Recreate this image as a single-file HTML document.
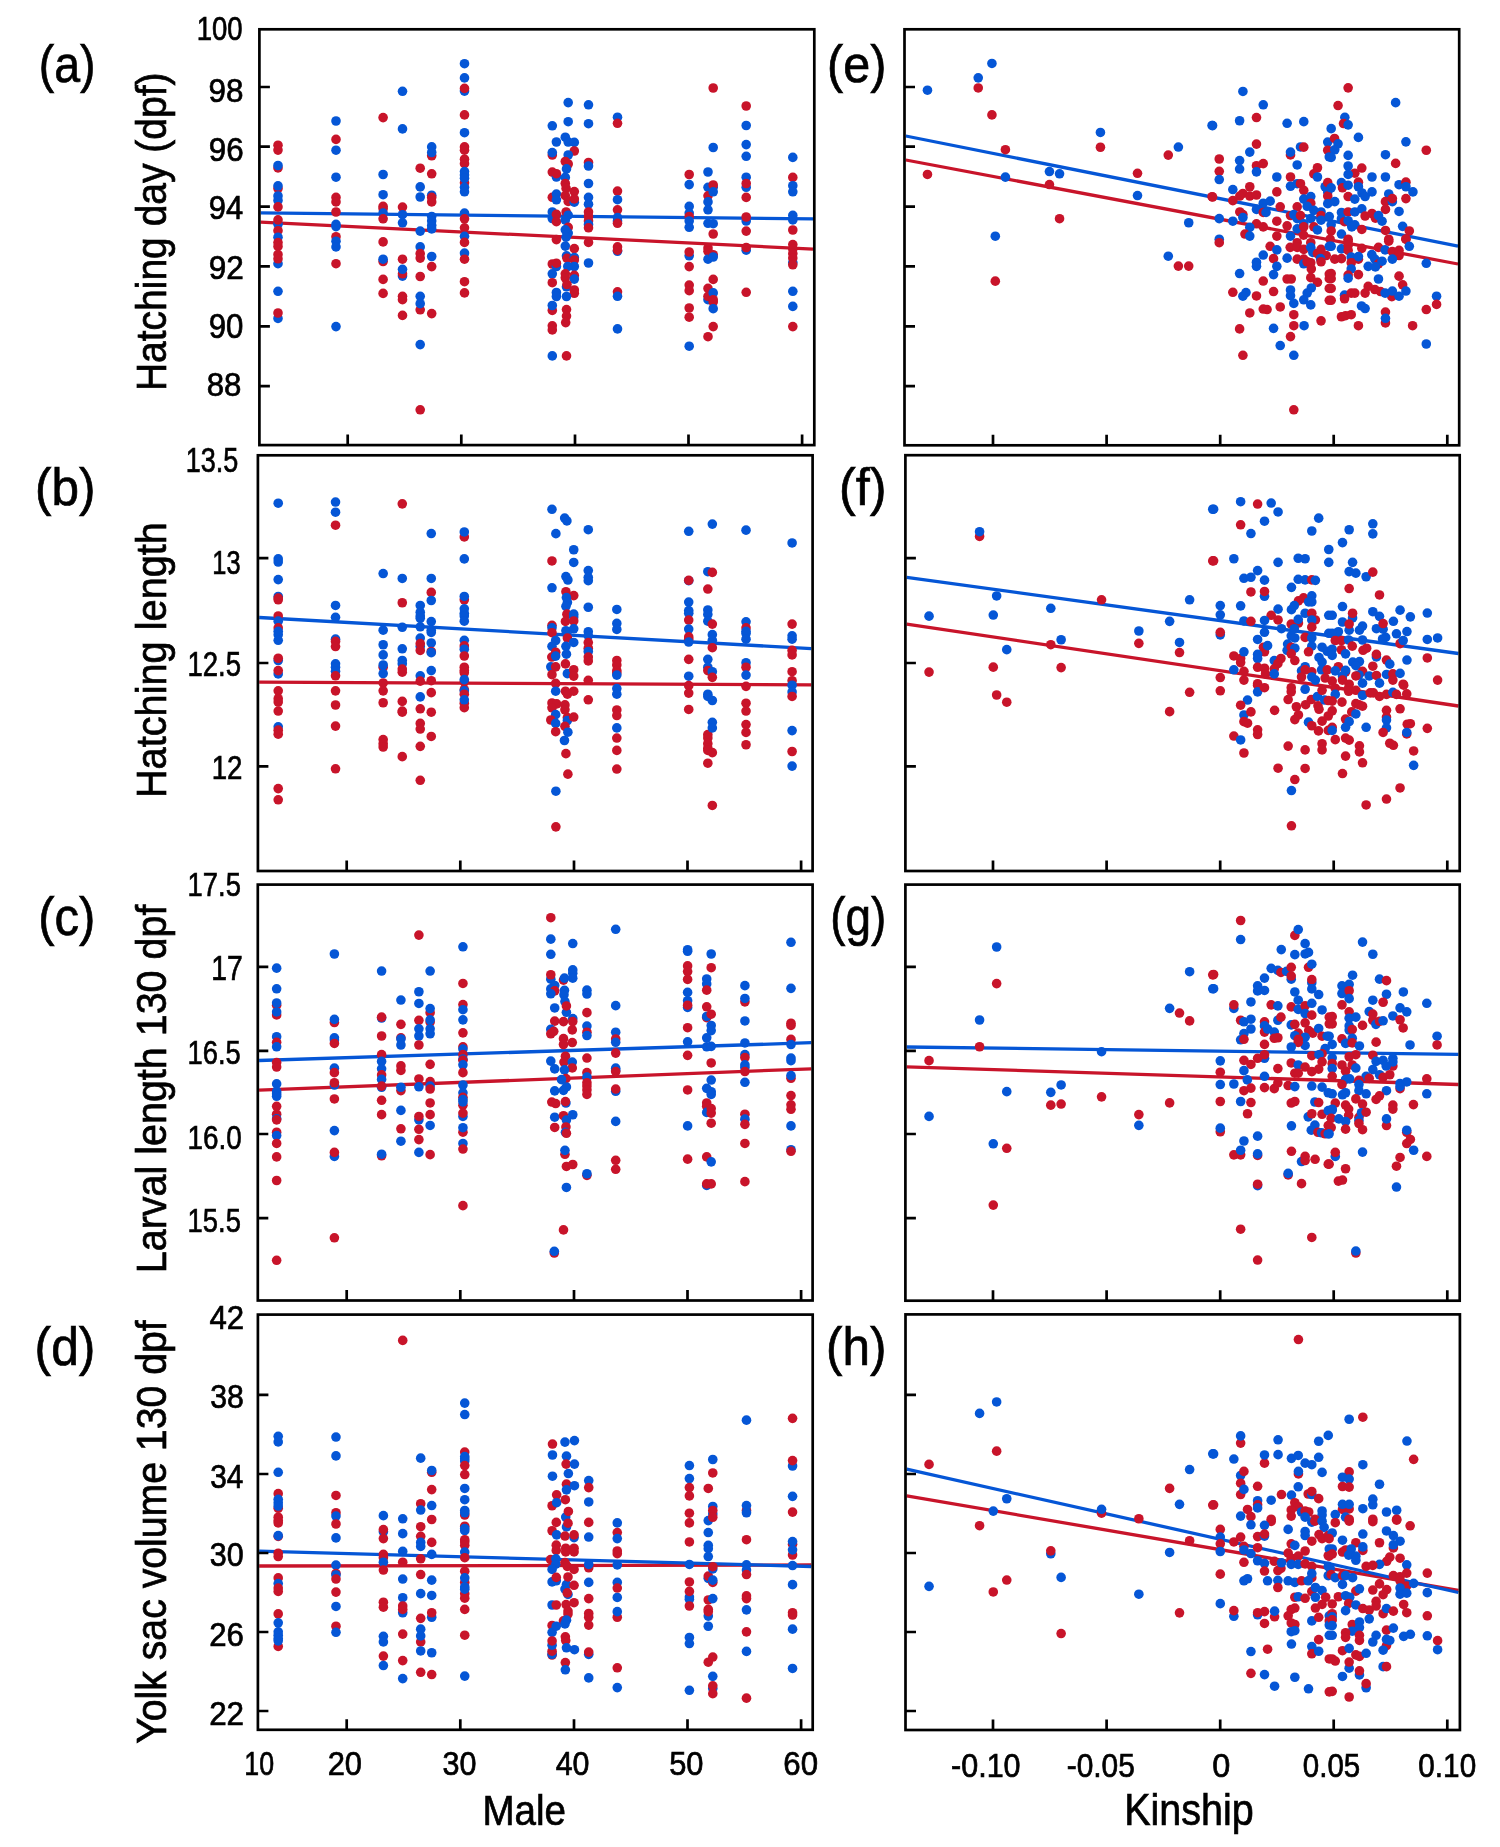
<!DOCTYPE html><html><head><meta charset="utf-8"><title>Figure</title><style>html,body{margin:0;padding:0;background:#fff}svg{display:block}text{font-family:"Liberation Sans",sans-serif;fill:#000;stroke:#000;stroke-width:0.7px}svg{will-change:transform}</style></head><body>
<svg width="1500" height="1847" viewBox="0 0 1500 1847">
<rect width="1500" height="1847" fill="#fff"/>
<line x1="260.7" y1="222.1" x2="813" y2="249.1" stroke="#c8142a" stroke-width="3.3"/>
<line x1="260.7" y1="212.8" x2="813" y2="218.9" stroke="#0556d6" stroke-width="3.3"/>
<line x1="259.2" y1="682.2" x2="811.3" y2="684.8" stroke="#c8142a" stroke-width="3.3"/>
<line x1="259.2" y1="617.5" x2="811.3" y2="648.7" stroke="#0556d6" stroke-width="3.3"/>
<line x1="259.1" y1="1090.2" x2="811.3" y2="1068.8" stroke="#c8142a" stroke-width="3.3"/>
<line x1="259.1" y1="1060.5" x2="811.3" y2="1042.7" stroke="#0556d6" stroke-width="3.3"/>
<line x1="259.2" y1="1566" x2="811.3" y2="1565" stroke="#c8142a" stroke-width="3.3"/>
<line x1="259.2" y1="1551.2" x2="811.3" y2="1566.5" stroke="#0556d6" stroke-width="3.3"/>
<line x1="905.8" y1="160" x2="1458" y2="264" stroke="#c8142a" stroke-width="3.3"/>
<line x1="905.8" y1="136" x2="1458" y2="246.1" stroke="#0556d6" stroke-width="3.3"/>
<line x1="906.7" y1="624.1" x2="1458.4" y2="706" stroke="#c8142a" stroke-width="3.3"/>
<line x1="906.7" y1="577.3" x2="1458.4" y2="653.5" stroke="#0556d6" stroke-width="3.3"/>
<line x1="906.7" y1="1066.9" x2="1458.4" y2="1084.5" stroke="#c8142a" stroke-width="3.3"/>
<line x1="906.7" y1="1047" x2="1458.4" y2="1054.3" stroke="#0556d6" stroke-width="3.3"/>
<line x1="906.7" y1="1495.8" x2="1458.4" y2="1590.5" stroke="#c8142a" stroke-width="3.3"/>
<line x1="906.7" y1="1469.2" x2="1458.4" y2="1592.5" stroke="#0556d6" stroke-width="3.3"/>
<circle cx="278" cy="145.2" r="4.8" fill="#c8142a"/>
<circle cx="278" cy="150.1" r="4.8" fill="#c8142a"/>
<circle cx="278" cy="167.9" r="4.8" fill="#c8142a"/>
<circle cx="278" cy="165.5" r="4.8" fill="#0556d6"/>
<circle cx="278" cy="188.5" r="4.8" fill="#c8142a"/>
<circle cx="278" cy="185.8" r="4.8" fill="#0556d6"/>
<circle cx="278" cy="196" r="4.8" fill="#0556d6"/>
<circle cx="278" cy="200.4" r="4.8" fill="#0556d6"/>
<circle cx="278" cy="206.9" r="4.8" fill="#c8142a"/>
<circle cx="278" cy="224.2" r="4.8" fill="#0556d6"/>
<circle cx="278" cy="219.9" r="4.8" fill="#c8142a"/>
<circle cx="278" cy="230.7" r="4.8" fill="#c8142a"/>
<circle cx="278" cy="237.2" r="4.8" fill="#0556d6"/>
<circle cx="278" cy="242.6" r="4.8" fill="#c8142a"/>
<circle cx="278" cy="246.4" r="4.8" fill="#c8142a"/>
<circle cx="278" cy="263.7" r="4.8" fill="#0556d6"/>
<circle cx="278" cy="254.5" r="4.8" fill="#c8142a"/>
<circle cx="278" cy="258.8" r="4.8" fill="#c8142a"/>
<circle cx="278" cy="291.3" r="4.8" fill="#0556d6"/>
<circle cx="278" cy="318.4" r="4.8" fill="#0556d6"/>
<circle cx="278" cy="313" r="4.8" fill="#c8142a"/>
<circle cx="336" cy="121" r="4.8" fill="#0556d6"/>
<circle cx="336" cy="139.4" r="4.8" fill="#c8142a"/>
<circle cx="336" cy="150.2" r="4.8" fill="#0556d6"/>
<circle cx="336" cy="177.2" r="4.8" fill="#0556d6"/>
<circle cx="336" cy="197.4" r="4.8" fill="#c8142a"/>
<circle cx="336" cy="201.9" r="4.8" fill="#c8142a"/>
<circle cx="336" cy="212" r="4.8" fill="#c8142a"/>
<circle cx="336" cy="224.4" r="4.8" fill="#0556d6"/>
<circle cx="336" cy="226.6" r="4.8" fill="#0556d6"/>
<circle cx="336" cy="236.7" r="4.8" fill="#c8142a"/>
<circle cx="336" cy="241.2" r="4.8" fill="#0556d6"/>
<circle cx="336" cy="246.9" r="4.8" fill="#0556d6"/>
<circle cx="336" cy="263.7" r="4.8" fill="#c8142a"/>
<circle cx="336" cy="326.6" r="4.8" fill="#0556d6"/>
<circle cx="383.1" cy="117.6" r="4.8" fill="#c8142a"/>
<circle cx="383.1" cy="174.5" r="4.8" fill="#0556d6"/>
<circle cx="383.1" cy="194.7" r="4.8" fill="#0556d6"/>
<circle cx="383.1" cy="206.4" r="4.8" fill="#c8142a"/>
<circle cx="383.1" cy="208.7" r="4.8" fill="#c8142a"/>
<circle cx="383.1" cy="213.1" r="4.8" fill="#0556d6"/>
<circle cx="383.1" cy="218.8" r="4.8" fill="#c8142a"/>
<circle cx="383.1" cy="241.9" r="4.8" fill="#c8142a"/>
<circle cx="383.1" cy="261.5" r="4.8" fill="#c8142a"/>
<circle cx="383.1" cy="259.2" r="4.8" fill="#0556d6"/>
<circle cx="383.1" cy="279.4" r="4.8" fill="#c8142a"/>
<circle cx="383.1" cy="293.4" r="4.8" fill="#c8142a"/>
<circle cx="402.5" cy="91.3" r="4.8" fill="#0556d6"/>
<circle cx="402.5" cy="128.9" r="4.8" fill="#0556d6"/>
<circle cx="402.5" cy="207.1" r="4.8" fill="#c8142a"/>
<circle cx="402.5" cy="214.7" r="4.8" fill="#0556d6"/>
<circle cx="402.5" cy="222.8" r="4.8" fill="#0556d6"/>
<circle cx="402.5" cy="259.2" r="4.8" fill="#c8142a"/>
<circle cx="402.5" cy="276.1" r="4.8" fill="#0556d6"/>
<circle cx="402.5" cy="273.8" r="4.8" fill="#c8142a"/>
<circle cx="402.5" cy="269.3" r="4.8" fill="#0556d6"/>
<circle cx="402.5" cy="296.3" r="4.8" fill="#c8142a"/>
<circle cx="402.5" cy="299.7" r="4.8" fill="#c8142a"/>
<circle cx="402.5" cy="315.4" r="4.8" fill="#c8142a"/>
<circle cx="420.2" cy="168.2" r="4.8" fill="#c8142a"/>
<circle cx="420.2" cy="186.9" r="4.8" fill="#0556d6"/>
<circle cx="420.2" cy="197" r="4.8" fill="#0556d6"/>
<circle cx="420.2" cy="231.1" r="4.8" fill="#0556d6"/>
<circle cx="420.2" cy="246.9" r="4.8" fill="#0556d6"/>
<circle cx="420.2" cy="253.6" r="4.8" fill="#c8142a"/>
<circle cx="420.2" cy="258.1" r="4.8" fill="#c8142a"/>
<circle cx="420.2" cy="276.5" r="4.8" fill="#c8142a"/>
<circle cx="420.2" cy="296.3" r="4.8" fill="#0556d6"/>
<circle cx="420.2" cy="309.8" r="4.8" fill="#c8142a"/>
<circle cx="420.2" cy="303.7" r="4.8" fill="#0556d6"/>
<circle cx="420.2" cy="344.6" r="4.8" fill="#0556d6"/>
<circle cx="420.2" cy="409.8" r="4.8" fill="#c8142a"/>
<circle cx="431.7" cy="146.9" r="4.8" fill="#0556d6"/>
<circle cx="431.7" cy="155.8" r="4.8" fill="#c8142a"/>
<circle cx="431.7" cy="152.5" r="4.8" fill="#0556d6"/>
<circle cx="431.7" cy="173.8" r="4.8" fill="#c8142a"/>
<circle cx="431.7" cy="195.2" r="4.8" fill="#0556d6"/>
<circle cx="431.7" cy="197.4" r="4.8" fill="#c8142a"/>
<circle cx="431.7" cy="201.9" r="4.8" fill="#c8142a"/>
<circle cx="431.7" cy="216.5" r="4.8" fill="#0556d6"/>
<circle cx="431.7" cy="221" r="4.8" fill="#0556d6"/>
<circle cx="431.7" cy="225.5" r="4.8" fill="#0556d6"/>
<circle cx="431.7" cy="228.9" r="4.8" fill="#0556d6"/>
<circle cx="431.7" cy="256.5" r="4.8" fill="#0556d6"/>
<circle cx="431.7" cy="266.6" r="4.8" fill="#c8142a"/>
<circle cx="431.7" cy="313.6" r="4.8" fill="#c8142a"/>
<circle cx="464.5" cy="63.7" r="4.8" fill="#0556d6"/>
<circle cx="464.5" cy="77.9" r="4.8" fill="#0556d6"/>
<circle cx="464.5" cy="91.1" r="4.8" fill="#0556d6"/>
<circle cx="464.5" cy="88.4" r="4.8" fill="#c8142a"/>
<circle cx="464.5" cy="114.9" r="4.8" fill="#c8142a"/>
<circle cx="464.5" cy="132.7" r="4.8" fill="#0556d6"/>
<circle cx="464.5" cy="146.9" r="4.8" fill="#c8142a"/>
<circle cx="464.5" cy="150.2" r="4.8" fill="#c8142a"/>
<circle cx="464.5" cy="159.2" r="4.8" fill="#c8142a"/>
<circle cx="464.5" cy="163.7" r="4.8" fill="#c8142a"/>
<circle cx="464.5" cy="182.8" r="4.8" fill="#c8142a"/>
<circle cx="464.5" cy="171.6" r="4.8" fill="#0556d6"/>
<circle cx="464.5" cy="174.9" r="4.8" fill="#0556d6"/>
<circle cx="464.5" cy="178.3" r="4.8" fill="#0556d6"/>
<circle cx="464.5" cy="187.3" r="4.8" fill="#0556d6"/>
<circle cx="464.5" cy="191.8" r="4.8" fill="#0556d6"/>
<circle cx="464.5" cy="213.1" r="4.8" fill="#0556d6"/>
<circle cx="464.5" cy="218.8" r="4.8" fill="#c8142a"/>
<circle cx="464.5" cy="227.8" r="4.8" fill="#c8142a"/>
<circle cx="464.5" cy="236.3" r="4.8" fill="#0556d6"/>
<circle cx="464.5" cy="242.4" r="4.8" fill="#c8142a"/>
<circle cx="464.5" cy="253.1" r="4.8" fill="#0556d6"/>
<circle cx="464.5" cy="259.2" r="4.8" fill="#c8142a"/>
<circle cx="464.5" cy="281.7" r="4.8" fill="#c8142a"/>
<circle cx="464.5" cy="292.9" r="4.8" fill="#c8142a"/>
<circle cx="568.2" cy="102.6" r="4.8" fill="#0556d6"/>
<circle cx="568.2" cy="121.7" r="4.8" fill="#0556d6"/>
<circle cx="552.3" cy="125.8" r="4.8" fill="#0556d6"/>
<circle cx="556.4" cy="142" r="4.8" fill="#0556d6"/>
<circle cx="565.3" cy="137.2" r="4.8" fill="#0556d6"/>
<circle cx="568.2" cy="142" r="4.8" fill="#0556d6"/>
<circle cx="574.3" cy="142.4" r="4.8" fill="#0556d6"/>
<circle cx="574.3" cy="151" r="4.8" fill="#c8142a"/>
<circle cx="552.3" cy="155" r="4.8" fill="#c8142a"/>
<circle cx="552.3" cy="152.6" r="4.8" fill="#0556d6"/>
<circle cx="568.2" cy="155" r="4.8" fill="#0556d6"/>
<circle cx="565.3" cy="161.5" r="4.8" fill="#c8142a"/>
<circle cx="568.2" cy="164" r="4.8" fill="#c8142a"/>
<circle cx="566.5" cy="168.9" r="4.8" fill="#0556d6"/>
<circle cx="552.3" cy="172.1" r="4.8" fill="#c8142a"/>
<circle cx="556.4" cy="177" r="4.8" fill="#0556d6"/>
<circle cx="556.4" cy="173.7" r="4.8" fill="#c8142a"/>
<circle cx="565.3" cy="177.4" r="4.8" fill="#0556d6"/>
<circle cx="565.3" cy="183.5" r="4.8" fill="#c8142a"/>
<circle cx="566.1" cy="188.4" r="4.8" fill="#c8142a"/>
<circle cx="574.3" cy="191.6" r="4.8" fill="#c8142a"/>
<circle cx="552.3" cy="197.3" r="4.8" fill="#c8142a"/>
<circle cx="556.4" cy="194.1" r="4.8" fill="#0556d6"/>
<circle cx="556.4" cy="199.8" r="4.8" fill="#0556d6"/>
<circle cx="565.3" cy="195.7" r="4.8" fill="#c8142a"/>
<circle cx="568.2" cy="201.4" r="4.8" fill="#c8142a"/>
<circle cx="574.3" cy="202.2" r="4.8" fill="#0556d6"/>
<circle cx="574.3" cy="198.9" r="4.8" fill="#c8142a"/>
<circle cx="552.3" cy="212" r="4.8" fill="#0556d6"/>
<circle cx="552.3" cy="218.5" r="4.8" fill="#0556d6"/>
<circle cx="556.4" cy="214.4" r="4.8" fill="#c8142a"/>
<circle cx="556.4" cy="221.7" r="4.8" fill="#c8142a"/>
<circle cx="566.1" cy="212" r="4.8" fill="#c8142a"/>
<circle cx="568.2" cy="215.2" r="4.8" fill="#0556d6"/>
<circle cx="565.3" cy="220.1" r="4.8" fill="#0556d6"/>
<circle cx="568.2" cy="227.4" r="4.8" fill="#c8142a"/>
<circle cx="568.2" cy="233.1" r="4.8" fill="#0556d6"/>
<circle cx="565.3" cy="229.8" r="4.8" fill="#0556d6"/>
<circle cx="556.4" cy="239.6" r="4.8" fill="#c8142a"/>
<circle cx="565.3" cy="246.1" r="4.8" fill="#0556d6"/>
<circle cx="566.1" cy="237.2" r="4.8" fill="#0556d6"/>
<circle cx="574.3" cy="248.6" r="4.8" fill="#c8142a"/>
<circle cx="566.5" cy="255.9" r="4.8" fill="#0556d6"/>
<circle cx="567" cy="258.3" r="4.8" fill="#c8142a"/>
<circle cx="574.3" cy="257.5" r="4.8" fill="#0556d6"/>
<circle cx="574.3" cy="260" r="4.8" fill="#c8142a"/>
<circle cx="574.3" cy="266.5" r="4.8" fill="#0556d6"/>
<circle cx="567.8" cy="266.5" r="4.8" fill="#0556d6"/>
<circle cx="552.3" cy="264" r="4.8" fill="#c8142a"/>
<circle cx="556.4" cy="266.5" r="4.8" fill="#0556d6"/>
<circle cx="556.4" cy="263.2" r="4.8" fill="#c8142a"/>
<circle cx="552.3" cy="273.8" r="4.8" fill="#0556d6"/>
<circle cx="565.3" cy="273.8" r="4.8" fill="#c8142a"/>
<circle cx="565.3" cy="277.8" r="4.8" fill="#c8142a"/>
<circle cx="574.3" cy="275.4" r="4.8" fill="#c8142a"/>
<circle cx="574.3" cy="279.1" r="4.8" fill="#0556d6"/>
<circle cx="552.3" cy="282.7" r="4.8" fill="#c8142a"/>
<circle cx="566.5" cy="286.8" r="4.8" fill="#0556d6"/>
<circle cx="567" cy="284.5" r="4.8" fill="#c8142a"/>
<circle cx="574.3" cy="290" r="4.8" fill="#c8142a"/>
<circle cx="574.3" cy="293.3" r="4.8" fill="#c8142a"/>
<circle cx="556.4" cy="292.5" r="4.8" fill="#0556d6"/>
<circle cx="556.4" cy="296.5" r="4.8" fill="#0556d6"/>
<circle cx="566.5" cy="296.5" r="4.8" fill="#0556d6"/>
<circle cx="552.3" cy="310.4" r="4.8" fill="#c8142a"/>
<circle cx="552.3" cy="305.5" r="4.8" fill="#0556d6"/>
<circle cx="566.5" cy="309.6" r="4.8" fill="#c8142a"/>
<circle cx="566.5" cy="316.1" r="4.8" fill="#c8142a"/>
<circle cx="565.7" cy="322.6" r="4.8" fill="#c8142a"/>
<circle cx="552.3" cy="325.8" r="4.8" fill="#c8142a"/>
<circle cx="552.3" cy="329.9" r="4.8" fill="#c8142a"/>
<circle cx="552.3" cy="355.9" r="4.8" fill="#0556d6"/>
<circle cx="566.5" cy="355.9" r="4.8" fill="#c8142a"/>
<circle cx="588.5" cy="104.8" r="4.8" fill="#0556d6"/>
<circle cx="588.5" cy="123.7" r="4.8" fill="#0556d6"/>
<circle cx="588.5" cy="162.5" r="4.8" fill="#c8142a"/>
<circle cx="588.5" cy="166" r="4.8" fill="#0556d6"/>
<circle cx="588.5" cy="183.5" r="4.8" fill="#0556d6"/>
<circle cx="588.5" cy="197.4" r="4.8" fill="#0556d6"/>
<circle cx="588.5" cy="204.2" r="4.8" fill="#0556d6"/>
<circle cx="588.5" cy="212" r="4.8" fill="#c8142a"/>
<circle cx="588.5" cy="216.5" r="4.8" fill="#c8142a"/>
<circle cx="588.5" cy="221" r="4.8" fill="#c8142a"/>
<circle cx="588.5" cy="224.4" r="4.8" fill="#0556d6"/>
<circle cx="588.5" cy="227.8" r="4.8" fill="#c8142a"/>
<circle cx="588.5" cy="242.4" r="4.8" fill="#c8142a"/>
<circle cx="588.5" cy="263" r="4.8" fill="#0556d6"/>
<circle cx="617.5" cy="117.2" r="4.8" fill="#0556d6"/>
<circle cx="617.5" cy="123.3" r="4.8" fill="#c8142a"/>
<circle cx="617.5" cy="191.1" r="4.8" fill="#c8142a"/>
<circle cx="617.5" cy="199.7" r="4.8" fill="#0556d6"/>
<circle cx="617.5" cy="209.8" r="4.8" fill="#c8142a"/>
<circle cx="617.5" cy="217.6" r="4.8" fill="#0556d6"/>
<circle cx="617.5" cy="221" r="4.8" fill="#0556d6"/>
<circle cx="617.5" cy="223.3" r="4.8" fill="#c8142a"/>
<circle cx="617.5" cy="251.3" r="4.8" fill="#0556d6"/>
<circle cx="617.5" cy="246.9" r="4.8" fill="#c8142a"/>
<circle cx="617.5" cy="250.2" r="4.8" fill="#c8142a"/>
<circle cx="617.5" cy="291.8" r="4.8" fill="#c8142a"/>
<circle cx="617.5" cy="296.3" r="4.8" fill="#0556d6"/>
<circle cx="617.5" cy="328.9" r="4.8" fill="#0556d6"/>
<circle cx="689.2" cy="174.5" r="4.8" fill="#c8142a"/>
<circle cx="689.2" cy="184.6" r="4.8" fill="#0556d6"/>
<circle cx="689.2" cy="206.4" r="4.8" fill="#0556d6"/>
<circle cx="689.2" cy="213.1" r="4.8" fill="#0556d6"/>
<circle cx="689.2" cy="216.5" r="4.8" fill="#c8142a"/>
<circle cx="689.2" cy="221" r="4.8" fill="#0556d6"/>
<circle cx="689.2" cy="227.3" r="4.8" fill="#0556d6"/>
<circle cx="689.2" cy="255.8" r="4.8" fill="#0556d6"/>
<circle cx="689.2" cy="252" r="4.8" fill="#c8142a"/>
<circle cx="689.2" cy="266.6" r="4.8" fill="#c8142a"/>
<circle cx="689.2" cy="285.1" r="4.8" fill="#c8142a"/>
<circle cx="689.2" cy="290.7" r="4.8" fill="#c8142a"/>
<circle cx="689.2" cy="308" r="4.8" fill="#c8142a"/>
<circle cx="689.2" cy="317.2" r="4.8" fill="#c8142a"/>
<circle cx="689.2" cy="346.2" r="4.8" fill="#0556d6"/>
<circle cx="708" cy="172" r="4.8" fill="#0556d6"/>
<circle cx="708" cy="187.3" r="4.8" fill="#0556d6"/>
<circle cx="708" cy="195.8" r="4.8" fill="#c8142a"/>
<circle cx="708" cy="201.9" r="4.8" fill="#0556d6"/>
<circle cx="708" cy="209.8" r="4.8" fill="#0556d6"/>
<circle cx="708" cy="223.3" r="4.8" fill="#0556d6"/>
<circle cx="708" cy="248" r="4.8" fill="#c8142a"/>
<circle cx="708" cy="251.3" r="4.8" fill="#c8142a"/>
<circle cx="708" cy="259.2" r="4.8" fill="#0556d6"/>
<circle cx="708" cy="288.4" r="4.8" fill="#c8142a"/>
<circle cx="708" cy="299.7" r="4.8" fill="#0556d6"/>
<circle cx="708" cy="296.3" r="4.8" fill="#c8142a"/>
<circle cx="708" cy="336.7" r="4.8" fill="#c8142a"/>
<circle cx="713.2" cy="88" r="4.8" fill="#c8142a"/>
<circle cx="713.2" cy="147.5" r="4.8" fill="#0556d6"/>
<circle cx="713.2" cy="187.3" r="4.8" fill="#0556d6"/>
<circle cx="713.2" cy="185" r="4.8" fill="#c8142a"/>
<circle cx="713.2" cy="191.8" r="4.8" fill="#0556d6"/>
<circle cx="713.2" cy="223.7" r="4.8" fill="#0556d6"/>
<circle cx="713.2" cy="234" r="4.8" fill="#c8142a"/>
<circle cx="713.2" cy="254.7" r="4.8" fill="#c8142a"/>
<circle cx="713.2" cy="257" r="4.8" fill="#0556d6"/>
<circle cx="713.2" cy="279.4" r="4.8" fill="#c8142a"/>
<circle cx="713.2" cy="292.9" r="4.8" fill="#0556d6"/>
<circle cx="713.2" cy="299.7" r="4.8" fill="#c8142a"/>
<circle cx="713.2" cy="301.9" r="4.8" fill="#c8142a"/>
<circle cx="713.2" cy="308.7" r="4.8" fill="#0556d6"/>
<circle cx="713.2" cy="326.6" r="4.8" fill="#c8142a"/>
<circle cx="746.2" cy="106" r="4.8" fill="#c8142a"/>
<circle cx="746.2" cy="125.5" r="4.8" fill="#0556d6"/>
<circle cx="746.2" cy="144.6" r="4.8" fill="#0556d6"/>
<circle cx="746.2" cy="156.3" r="4.8" fill="#0556d6"/>
<circle cx="746.2" cy="177.2" r="4.8" fill="#0556d6"/>
<circle cx="746.2" cy="187.3" r="4.8" fill="#0556d6"/>
<circle cx="746.2" cy="183.5" r="4.8" fill="#c8142a"/>
<circle cx="746.2" cy="197.4" r="4.8" fill="#c8142a"/>
<circle cx="746.2" cy="221" r="4.8" fill="#0556d6"/>
<circle cx="746.2" cy="217" r="4.8" fill="#c8142a"/>
<circle cx="746.2" cy="231.1" r="4.8" fill="#c8142a"/>
<circle cx="746.2" cy="250.2" r="4.8" fill="#0556d6"/>
<circle cx="746.2" cy="247.5" r="4.8" fill="#c8142a"/>
<circle cx="746.2" cy="292.3" r="4.8" fill="#c8142a"/>
<circle cx="792.8" cy="157.4" r="4.8" fill="#0556d6"/>
<circle cx="792.8" cy="177.4" r="4.8" fill="#c8142a"/>
<circle cx="792.8" cy="185.7" r="4.8" fill="#0556d6"/>
<circle cx="792.8" cy="191.8" r="4.8" fill="#0556d6"/>
<circle cx="792.8" cy="215.4" r="4.8" fill="#0556d6"/>
<circle cx="792.8" cy="219.9" r="4.8" fill="#0556d6"/>
<circle cx="792.8" cy="230" r="4.8" fill="#c8142a"/>
<circle cx="792.8" cy="244.6" r="4.8" fill="#c8142a"/>
<circle cx="792.8" cy="249.1" r="4.8" fill="#c8142a"/>
<circle cx="792.8" cy="253.6" r="4.8" fill="#c8142a"/>
<circle cx="792.8" cy="262.6" r="4.8" fill="#0556d6"/>
<circle cx="792.8" cy="258.1" r="4.8" fill="#c8142a"/>
<circle cx="792.8" cy="264.8" r="4.8" fill="#c8142a"/>
<circle cx="792.8" cy="291.3" r="4.8" fill="#0556d6"/>
<circle cx="792.8" cy="306.4" r="4.8" fill="#0556d6"/>
<circle cx="792.8" cy="326.6" r="4.8" fill="#c8142a"/>
<circle cx="278.22" cy="503.19" r="4.8" fill="#0556d6"/>
<circle cx="278.22" cy="558.92" r="4.8" fill="#0556d6"/>
<circle cx="278.22" cy="562.07" r="4.8" fill="#0556d6"/>
<circle cx="278.22" cy="579.6" r="4.8" fill="#0556d6"/>
<circle cx="278.22" cy="596.45" r="4.8" fill="#0556d6"/>
<circle cx="278.22" cy="598.02" r="4.8" fill="#c8142a"/>
<circle cx="278.22" cy="599.82" r="4.8" fill="#c8142a"/>
<circle cx="278.22" cy="616" r="4.8" fill="#c8142a"/>
<circle cx="278.22" cy="621.17" r="4.8" fill="#0556d6"/>
<circle cx="278.22" cy="627.91" r="4.8" fill="#c8142a"/>
<circle cx="278.22" cy="631.28" r="4.8" fill="#0556d6"/>
<circle cx="278.22" cy="634.65" r="4.8" fill="#0556d6"/>
<circle cx="278.22" cy="640.27" r="4.8" fill="#0556d6"/>
<circle cx="278.22" cy="660.49" r="4.8" fill="#0556d6"/>
<circle cx="278.22" cy="658.25" r="4.8" fill="#c8142a"/>
<circle cx="278.22" cy="673.98" r="4.8" fill="#0556d6"/>
<circle cx="278.22" cy="670.61" r="4.8" fill="#c8142a"/>
<circle cx="278.22" cy="690.83" r="4.8" fill="#c8142a"/>
<circle cx="278.22" cy="698.7" r="4.8" fill="#c8142a"/>
<circle cx="278.22" cy="702.07" r="4.8" fill="#c8142a"/>
<circle cx="278.22" cy="711.06" r="4.8" fill="#c8142a"/>
<circle cx="278.22" cy="726.79" r="4.8" fill="#0556d6"/>
<circle cx="278.22" cy="730.16" r="4.8" fill="#c8142a"/>
<circle cx="278.22" cy="734.2" r="4.8" fill="#c8142a"/>
<circle cx="278.22" cy="788.58" r="4.8" fill="#c8142a"/>
<circle cx="278.22" cy="799.82" r="4.8" fill="#c8142a"/>
<circle cx="335.53" cy="502.07" r="4.8" fill="#0556d6"/>
<circle cx="335.53" cy="512.18" r="4.8" fill="#0556d6"/>
<circle cx="335.53" cy="525.21" r="4.8" fill="#c8142a"/>
<circle cx="335.53" cy="605.44" r="4.8" fill="#0556d6"/>
<circle cx="335.53" cy="617.35" r="4.8" fill="#0556d6"/>
<circle cx="335.53" cy="639.15" r="4.8" fill="#0556d6"/>
<circle cx="335.53" cy="641.39" r="4.8" fill="#c8142a"/>
<circle cx="335.53" cy="646.56" r="4.8" fill="#c8142a"/>
<circle cx="335.53" cy="663.87" r="4.8" fill="#0556d6"/>
<circle cx="335.53" cy="667.24" r="4.8" fill="#0556d6"/>
<circle cx="335.53" cy="671.28" r="4.8" fill="#0556d6"/>
<circle cx="335.53" cy="675.78" r="4.8" fill="#c8142a"/>
<circle cx="335.53" cy="690.83" r="4.8" fill="#c8142a"/>
<circle cx="335.53" cy="704.99" r="4.8" fill="#c8142a"/>
<circle cx="335.53" cy="726.11" r="4.8" fill="#c8142a"/>
<circle cx="335.53" cy="768.81" r="4.8" fill="#c8142a"/>
<circle cx="383.17" cy="573.53" r="4.8" fill="#0556d6"/>
<circle cx="383.17" cy="630.16" r="4.8" fill="#0556d6"/>
<circle cx="383.17" cy="644.76" r="4.8" fill="#0556d6"/>
<circle cx="383.17" cy="654.88" r="4.8" fill="#0556d6"/>
<circle cx="383.17" cy="667.24" r="4.8" fill="#c8142a"/>
<circle cx="383.17" cy="664.99" r="4.8" fill="#0556d6"/>
<circle cx="383.17" cy="673.53" r="4.8" fill="#0556d6"/>
<circle cx="383.17" cy="682.97" r="4.8" fill="#c8142a"/>
<circle cx="383.17" cy="690.83" r="4.8" fill="#c8142a"/>
<circle cx="383.17" cy="702.74" r="4.8" fill="#c8142a"/>
<circle cx="383.17" cy="739.6" r="4.8" fill="#c8142a"/>
<circle cx="383.17" cy="743.64" r="4.8" fill="#c8142a"/>
<circle cx="383.17" cy="747.01" r="4.8" fill="#c8142a"/>
<circle cx="402.27" cy="503.87" r="4.8" fill="#c8142a"/>
<circle cx="402.27" cy="578.47" r="4.8" fill="#0556d6"/>
<circle cx="402.27" cy="602.74" r="4.8" fill="#c8142a"/>
<circle cx="402.27" cy="627.24" r="4.8" fill="#0556d6"/>
<circle cx="402.27" cy="648.81" r="4.8" fill="#0556d6"/>
<circle cx="402.27" cy="660.49" r="4.8" fill="#0556d6"/>
<circle cx="402.27" cy="663.87" r="4.8" fill="#0556d6"/>
<circle cx="402.27" cy="669.03" r="4.8" fill="#c8142a"/>
<circle cx="402.27" cy="672.18" r="4.8" fill="#c8142a"/>
<circle cx="402.27" cy="701.39" r="4.8" fill="#c8142a"/>
<circle cx="402.27" cy="711.06" r="4.8" fill="#c8142a"/>
<circle cx="402.27" cy="712.18" r="4.8" fill="#c8142a"/>
<circle cx="402.27" cy="756.67" r="4.8" fill="#c8142a"/>
<circle cx="420.25" cy="605.44" r="4.8" fill="#0556d6"/>
<circle cx="420.25" cy="612.18" r="4.8" fill="#0556d6"/>
<circle cx="420.25" cy="616" r="4.8" fill="#0556d6"/>
<circle cx="420.25" cy="618.25" r="4.8" fill="#0556d6"/>
<circle cx="420.25" cy="626.79" r="4.8" fill="#0556d6"/>
<circle cx="420.25" cy="638.02" r="4.8" fill="#0556d6"/>
<circle cx="420.25" cy="646.56" r="4.8" fill="#0556d6"/>
<circle cx="420.25" cy="643.64" r="4.8" fill="#c8142a"/>
<circle cx="420.25" cy="650.38" r="4.8" fill="#c8142a"/>
<circle cx="420.25" cy="675.78" r="4.8" fill="#0556d6"/>
<circle cx="420.25" cy="681.17" r="4.8" fill="#c8142a"/>
<circle cx="420.25" cy="696.9" r="4.8" fill="#0556d6"/>
<circle cx="420.25" cy="708.81" r="4.8" fill="#c8142a"/>
<circle cx="420.25" cy="723.42" r="4.8" fill="#c8142a"/>
<circle cx="420.25" cy="729.03" r="4.8" fill="#c8142a"/>
<circle cx="420.25" cy="746.34" r="4.8" fill="#c8142a"/>
<circle cx="420.25" cy="780.27" r="4.8" fill="#c8142a"/>
<circle cx="431.26" cy="533.53" r="4.8" fill="#0556d6"/>
<circle cx="431.26" cy="578.47" r="4.8" fill="#0556d6"/>
<circle cx="431.26" cy="592.4" r="4.8" fill="#c8142a"/>
<circle cx="431.26" cy="600.49" r="4.8" fill="#0556d6"/>
<circle cx="431.26" cy="621.62" r="4.8" fill="#0556d6"/>
<circle cx="431.26" cy="630.16" r="4.8" fill="#0556d6"/>
<circle cx="431.26" cy="632.4" r="4.8" fill="#0556d6"/>
<circle cx="431.26" cy="642.97" r="4.8" fill="#0556d6"/>
<circle cx="431.26" cy="651.51" r="4.8" fill="#c8142a"/>
<circle cx="431.26" cy="652.63" r="4.8" fill="#0556d6"/>
<circle cx="431.26" cy="670.61" r="4.8" fill="#0556d6"/>
<circle cx="431.26" cy="680.72" r="4.8" fill="#c8142a"/>
<circle cx="431.26" cy="692.63" r="4.8" fill="#c8142a"/>
<circle cx="431.26" cy="712.18" r="4.8" fill="#c8142a"/>
<circle cx="431.26" cy="736.45" r="4.8" fill="#c8142a"/>
<circle cx="464.29" cy="536.9" r="4.8" fill="#c8142a"/>
<circle cx="464.29" cy="531.96" r="4.8" fill="#0556d6"/>
<circle cx="464.29" cy="558.92" r="4.8" fill="#0556d6"/>
<circle cx="464.29" cy="599.82" r="4.8" fill="#c8142a"/>
<circle cx="464.29" cy="596.45" r="4.8" fill="#0556d6"/>
<circle cx="464.29" cy="608.81" r="4.8" fill="#0556d6"/>
<circle cx="464.29" cy="613.3" r="4.8" fill="#0556d6"/>
<circle cx="464.29" cy="616" r="4.8" fill="#0556d6"/>
<circle cx="464.29" cy="621.17" r="4.8" fill="#0556d6"/>
<circle cx="464.29" cy="640.27" r="4.8" fill="#0556d6"/>
<circle cx="464.29" cy="645.89" r="4.8" fill="#c8142a"/>
<circle cx="464.29" cy="649.26" r="4.8" fill="#0556d6"/>
<circle cx="464.29" cy="656" r="4.8" fill="#c8142a"/>
<circle cx="464.29" cy="667.24" r="4.8" fill="#c8142a"/>
<circle cx="464.29" cy="670.61" r="4.8" fill="#c8142a"/>
<circle cx="464.29" cy="672.85" r="4.8" fill="#c8142a"/>
<circle cx="464.29" cy="681.84" r="4.8" fill="#c8142a"/>
<circle cx="464.29" cy="679.6" r="4.8" fill="#0556d6"/>
<circle cx="464.29" cy="689.71" r="4.8" fill="#c8142a"/>
<circle cx="464.29" cy="690.83" r="4.8" fill="#0556d6"/>
<circle cx="464.29" cy="694.2" r="4.8" fill="#c8142a"/>
<circle cx="464.29" cy="703.19" r="4.8" fill="#c8142a"/>
<circle cx="464.29" cy="707.69" r="4.8" fill="#c8142a"/>
<circle cx="464.29" cy="699.82" r="4.8" fill="#0556d6"/>
<circle cx="588.28" cy="529.71" r="4.8" fill="#0556d6"/>
<circle cx="588.28" cy="570.61" r="4.8" fill="#0556d6"/>
<circle cx="588.28" cy="577.35" r="4.8" fill="#0556d6"/>
<circle cx="588.28" cy="580.72" r="4.8" fill="#0556d6"/>
<circle cx="588.28" cy="607.24" r="4.8" fill="#0556d6"/>
<circle cx="588.28" cy="631.73" r="4.8" fill="#0556d6"/>
<circle cx="588.28" cy="635.78" r="4.8" fill="#0556d6"/>
<circle cx="588.28" cy="642.52" r="4.8" fill="#c8142a"/>
<circle cx="588.28" cy="648.13" r="4.8" fill="#c8142a"/>
<circle cx="588.28" cy="651.51" r="4.8" fill="#0556d6"/>
<circle cx="588.28" cy="657.12" r="4.8" fill="#c8142a"/>
<circle cx="588.28" cy="660.94" r="4.8" fill="#c8142a"/>
<circle cx="588.28" cy="680.27" r="4.8" fill="#c8142a"/>
<circle cx="588.28" cy="699.82" r="4.8" fill="#c8142a"/>
<circle cx="616.82" cy="609.48" r="4.8" fill="#0556d6"/>
<circle cx="616.82" cy="623.42" r="4.8" fill="#0556d6"/>
<circle cx="616.82" cy="629.48" r="4.8" fill="#0556d6"/>
<circle cx="616.82" cy="660.49" r="4.8" fill="#c8142a"/>
<circle cx="616.82" cy="664.99" r="4.8" fill="#c8142a"/>
<circle cx="616.82" cy="670.61" r="4.8" fill="#c8142a"/>
<circle cx="616.82" cy="672.85" r="4.8" fill="#c8142a"/>
<circle cx="616.82" cy="675.1" r="4.8" fill="#0556d6"/>
<circle cx="616.82" cy="688.58" r="4.8" fill="#0556d6"/>
<circle cx="616.82" cy="694.2" r="4.8" fill="#0556d6"/>
<circle cx="616.82" cy="709.93" r="4.8" fill="#c8142a"/>
<circle cx="616.82" cy="715.55" r="4.8" fill="#c8142a"/>
<circle cx="616.82" cy="727.91" r="4.8" fill="#0556d6"/>
<circle cx="616.82" cy="738.02" r="4.8" fill="#c8142a"/>
<circle cx="616.82" cy="750.38" r="4.8" fill="#c8142a"/>
<circle cx="616.82" cy="769.03" r="4.8" fill="#c8142a"/>
<circle cx="688.73" cy="531.28" r="4.8" fill="#0556d6"/>
<circle cx="688.73" cy="580.72" r="4.8" fill="#0556d6"/>
<circle cx="688.73" cy="580.27" r="4.8" fill="#c8142a"/>
<circle cx="688.73" cy="602.07" r="4.8" fill="#0556d6"/>
<circle cx="688.73" cy="610.61" r="4.8" fill="#0556d6"/>
<circle cx="688.73" cy="613.3" r="4.8" fill="#0556d6"/>
<circle cx="688.73" cy="620.04" r="4.8" fill="#c8142a"/>
<circle cx="688.73" cy="629.03" r="4.8" fill="#0556d6"/>
<circle cx="688.73" cy="636.9" r="4.8" fill="#c8142a"/>
<circle cx="688.73" cy="639.15" r="4.8" fill="#c8142a"/>
<circle cx="688.73" cy="642.07" r="4.8" fill="#0556d6"/>
<circle cx="688.73" cy="659.37" r="4.8" fill="#c8142a"/>
<circle cx="688.73" cy="676.22" r="4.8" fill="#0556d6"/>
<circle cx="688.73" cy="685.66" r="4.8" fill="#c8142a"/>
<circle cx="688.73" cy="693.08" r="4.8" fill="#c8142a"/>
<circle cx="688.73" cy="709.48" r="4.8" fill="#c8142a"/>
<circle cx="707.83" cy="571.73" r="4.8" fill="#0556d6"/>
<circle cx="707.83" cy="589.03" r="4.8" fill="#c8142a"/>
<circle cx="707.83" cy="609.93" r="4.8" fill="#0556d6"/>
<circle cx="707.83" cy="614.43" r="4.8" fill="#0556d6"/>
<circle cx="707.83" cy="621.17" r="4.8" fill="#0556d6"/>
<circle cx="707.83" cy="659.37" r="4.8" fill="#0556d6"/>
<circle cx="707.83" cy="667.24" r="4.8" fill="#0556d6"/>
<circle cx="707.83" cy="670.61" r="4.8" fill="#c8142a"/>
<circle cx="707.83" cy="694.2" r="4.8" fill="#0556d6"/>
<circle cx="707.83" cy="696.45" r="4.8" fill="#0556d6"/>
<circle cx="707.83" cy="734.65" r="4.8" fill="#c8142a"/>
<circle cx="707.83" cy="738.02" r="4.8" fill="#c8142a"/>
<circle cx="707.83" cy="743.64" r="4.8" fill="#c8142a"/>
<circle cx="707.83" cy="748.13" r="4.8" fill="#c8142a"/>
<circle cx="707.83" cy="750.38" r="4.8" fill="#c8142a"/>
<circle cx="707.83" cy="763.19" r="4.8" fill="#c8142a"/>
<circle cx="712.33" cy="524.09" r="4.8" fill="#0556d6"/>
<circle cx="712.33" cy="572.4" r="4.8" fill="#c8142a"/>
<circle cx="712.33" cy="624.09" r="4.8" fill="#c8142a"/>
<circle cx="712.33" cy="634.65" r="4.8" fill="#0556d6"/>
<circle cx="712.33" cy="640.27" r="4.8" fill="#0556d6"/>
<circle cx="712.33" cy="647.69" r="4.8" fill="#c8142a"/>
<circle cx="712.33" cy="671.73" r="4.8" fill="#0556d6"/>
<circle cx="712.33" cy="677.35" r="4.8" fill="#c8142a"/>
<circle cx="712.33" cy="700.49" r="4.8" fill="#0556d6"/>
<circle cx="712.33" cy="722.29" r="4.8" fill="#0556d6"/>
<circle cx="712.33" cy="727.91" r="4.8" fill="#0556d6"/>
<circle cx="712.33" cy="752.63" r="4.8" fill="#c8142a"/>
<circle cx="712.33" cy="805.44" r="4.8" fill="#c8142a"/>
<circle cx="746.03" cy="530.16" r="4.8" fill="#0556d6"/>
<circle cx="746.03" cy="621.84" r="4.8" fill="#0556d6"/>
<circle cx="746.03" cy="627.91" r="4.8" fill="#c8142a"/>
<circle cx="746.03" cy="631.28" r="4.8" fill="#0556d6"/>
<circle cx="746.03" cy="633.53" r="4.8" fill="#0556d6"/>
<circle cx="746.03" cy="639.15" r="4.8" fill="#0556d6"/>
<circle cx="746.03" cy="662.74" r="4.8" fill="#0556d6"/>
<circle cx="746.03" cy="667.24" r="4.8" fill="#c8142a"/>
<circle cx="746.03" cy="675.1" r="4.8" fill="#0556d6"/>
<circle cx="746.03" cy="686.34" r="4.8" fill="#c8142a"/>
<circle cx="746.03" cy="703.19" r="4.8" fill="#c8142a"/>
<circle cx="746.03" cy="711.06" r="4.8" fill="#c8142a"/>
<circle cx="746.03" cy="724.54" r="4.8" fill="#c8142a"/>
<circle cx="746.03" cy="732.4" r="4.8" fill="#c8142a"/>
<circle cx="746.03" cy="744.76" r="4.8" fill="#c8142a"/>
<circle cx="792.1" cy="542.97" r="4.8" fill="#0556d6"/>
<circle cx="792.1" cy="624.09" r="4.8" fill="#c8142a"/>
<circle cx="792.1" cy="635.78" r="4.8" fill="#0556d6"/>
<circle cx="792.1" cy="639.15" r="4.8" fill="#0556d6"/>
<circle cx="792.1" cy="650.38" r="4.8" fill="#c8142a"/>
<circle cx="792.1" cy="654.88" r="4.8" fill="#c8142a"/>
<circle cx="792.1" cy="671.73" r="4.8" fill="#c8142a"/>
<circle cx="792.1" cy="680.72" r="4.8" fill="#c8142a"/>
<circle cx="792.1" cy="685.21" r="4.8" fill="#0556d6"/>
<circle cx="792.1" cy="691.96" r="4.8" fill="#0556d6"/>
<circle cx="792.1" cy="696.45" r="4.8" fill="#c8142a"/>
<circle cx="792.1" cy="730.61" r="4.8" fill="#0556d6"/>
<circle cx="792.1" cy="751.51" r="4.8" fill="#c8142a"/>
<circle cx="792.1" cy="766.11" r="4.8" fill="#0556d6"/>
<circle cx="551.98" cy="509.27" r="4.8" fill="#0556d6"/>
<circle cx="564.66" cy="518.05" r="4.8" fill="#0556d6"/>
<circle cx="566.9" cy="520.98" r="4.8" fill="#0556d6"/>
<circle cx="555.88" cy="533.66" r="4.8" fill="#0556d6"/>
<circle cx="573.73" cy="549.76" r="4.8" fill="#0556d6"/>
<circle cx="551.98" cy="560.98" r="4.8" fill="#c8142a"/>
<circle cx="573.73" cy="562.44" r="4.8" fill="#0556d6"/>
<circle cx="565.93" cy="576.59" r="4.8" fill="#0556d6"/>
<circle cx="567.88" cy="580" r="4.8" fill="#0556d6"/>
<circle cx="551.98" cy="587.8" r="4.8" fill="#0556d6"/>
<circle cx="565.93" cy="591.71" r="4.8" fill="#c8142a"/>
<circle cx="573.73" cy="595.61" r="4.8" fill="#c8142a"/>
<circle cx="566.41" cy="597.56" r="4.8" fill="#0556d6"/>
<circle cx="567.39" cy="602.44" r="4.8" fill="#0556d6"/>
<circle cx="565.93" cy="606.34" r="4.8" fill="#0556d6"/>
<circle cx="566.9" cy="614.15" r="4.8" fill="#c8142a"/>
<circle cx="565.44" cy="621.46" r="4.8" fill="#c8142a"/>
<circle cx="573.73" cy="614.15" r="4.8" fill="#0556d6"/>
<circle cx="573.73" cy="617.07" r="4.8" fill="#0556d6"/>
<circle cx="573.73" cy="620.98" r="4.8" fill="#c8142a"/>
<circle cx="551.98" cy="625.37" r="4.8" fill="#c8142a"/>
<circle cx="551.98" cy="627.8" r="4.8" fill="#0556d6"/>
<circle cx="551.98" cy="632.68" r="4.8" fill="#c8142a"/>
<circle cx="565.93" cy="630.73" r="4.8" fill="#0556d6"/>
<circle cx="567.39" cy="635.61" r="4.8" fill="#0556d6"/>
<circle cx="567.39" cy="638.05" r="4.8" fill="#c8142a"/>
<circle cx="573.73" cy="628.78" r="4.8" fill="#0556d6"/>
<circle cx="573.73" cy="642.44" r="4.8" fill="#0556d6"/>
<circle cx="555.68" cy="640.49" r="4.8" fill="#0556d6"/>
<circle cx="551.98" cy="646.34" r="4.8" fill="#0556d6"/>
<circle cx="565.93" cy="646.34" r="4.8" fill="#0556d6"/>
<circle cx="566.41" cy="654.15" r="4.8" fill="#0556d6"/>
<circle cx="555.68" cy="652.2" r="4.8" fill="#c8142a"/>
<circle cx="551.78" cy="657.07" r="4.8" fill="#c8142a"/>
<circle cx="555.68" cy="656.1" r="4.8" fill="#0556d6"/>
<circle cx="550.8" cy="666.83" r="4.8" fill="#0556d6"/>
<circle cx="555.68" cy="666.83" r="4.8" fill="#c8142a"/>
<circle cx="551.98" cy="674.63" r="4.8" fill="#c8142a"/>
<circle cx="565.44" cy="663.9" r="4.8" fill="#c8142a"/>
<circle cx="567.39" cy="673.66" r="4.8" fill="#0556d6"/>
<circle cx="573.73" cy="669.76" r="4.8" fill="#c8142a"/>
<circle cx="573.73" cy="676.1" r="4.8" fill="#c8142a"/>
<circle cx="555.68" cy="683.41" r="4.8" fill="#c8142a"/>
<circle cx="555.68" cy="691.22" r="4.8" fill="#0556d6"/>
<circle cx="565.44" cy="691.22" r="4.8" fill="#c8142a"/>
<circle cx="567.39" cy="694.15" r="4.8" fill="#c8142a"/>
<circle cx="573.73" cy="691.22" r="4.8" fill="#c8142a"/>
<circle cx="551.98" cy="702.93" r="4.8" fill="#c8142a"/>
<circle cx="556.66" cy="703.9" r="4.8" fill="#c8142a"/>
<circle cx="551.98" cy="707.8" r="4.8" fill="#c8142a"/>
<circle cx="564.95" cy="704.88" r="4.8" fill="#c8142a"/>
<circle cx="564.95" cy="709.76" r="4.8" fill="#c8142a"/>
<circle cx="555.68" cy="714.63" r="4.8" fill="#0556d6"/>
<circle cx="550.8" cy="720" r="4.8" fill="#c8142a"/>
<circle cx="555.68" cy="723.41" r="4.8" fill="#0556d6"/>
<circle cx="567.39" cy="717.56" r="4.8" fill="#c8142a"/>
<circle cx="567.39" cy="720.49" r="4.8" fill="#0556d6"/>
<circle cx="573.73" cy="717.07" r="4.8" fill="#c8142a"/>
<circle cx="564.95" cy="726.34" r="4.8" fill="#c8142a"/>
<circle cx="555.68" cy="731.71" r="4.8" fill="#c8142a"/>
<circle cx="567.88" cy="732.2" r="4.8" fill="#0556d6"/>
<circle cx="564.46" cy="740.49" r="4.8" fill="#0556d6"/>
<circle cx="565.93" cy="753.66" r="4.8" fill="#c8142a"/>
<circle cx="567.88" cy="774.15" r="4.8" fill="#c8142a"/>
<circle cx="555.88" cy="791.22" r="4.8" fill="#0556d6"/>
<circle cx="555.88" cy="826.83" r="4.8" fill="#c8142a"/>
<circle cx="276.65" cy="968.15" r="4.8" fill="#0556d6"/>
<circle cx="276.65" cy="988.82" r="4.8" fill="#0556d6"/>
<circle cx="276.65" cy="1005.22" r="4.8" fill="#c8142a"/>
<circle cx="276.65" cy="1002.98" r="4.8" fill="#0556d6"/>
<circle cx="276.65" cy="1014.89" r="4.8" fill="#c8142a"/>
<circle cx="276.65" cy="1011.97" r="4.8" fill="#0556d6"/>
<circle cx="276.65" cy="1036.69" r="4.8" fill="#0556d6"/>
<circle cx="276.65" cy="1042.3" r="4.8" fill="#c8142a"/>
<circle cx="276.65" cy="1046.8" r="4.8" fill="#0556d6"/>
<circle cx="276.65" cy="1062.53" r="4.8" fill="#c8142a"/>
<circle cx="276.65" cy="1067.02" r="4.8" fill="#c8142a"/>
<circle cx="276.65" cy="1083.88" r="4.8" fill="#0556d6"/>
<circle cx="276.65" cy="1091.74" r="4.8" fill="#0556d6"/>
<circle cx="276.65" cy="1093.99" r="4.8" fill="#0556d6"/>
<circle cx="276.65" cy="1096.24" r="4.8" fill="#0556d6"/>
<circle cx="276.65" cy="1106.35" r="4.8" fill="#c8142a"/>
<circle cx="276.65" cy="1114.21" r="4.8" fill="#c8142a"/>
<circle cx="276.65" cy="1118.71" r="4.8" fill="#0556d6"/>
<circle cx="276.65" cy="1119.83" r="4.8" fill="#c8142a"/>
<circle cx="276.65" cy="1132.19" r="4.8" fill="#c8142a"/>
<circle cx="276.65" cy="1135.56" r="4.8" fill="#0556d6"/>
<circle cx="276.65" cy="1143.43" r="4.8" fill="#c8142a"/>
<circle cx="276.65" cy="1156.91" r="4.8" fill="#c8142a"/>
<circle cx="276.65" cy="1180.51" r="4.8" fill="#c8142a"/>
<circle cx="276.65" cy="1260.28" r="4.8" fill="#c8142a"/>
<circle cx="334.4" cy="953.99" r="4.8" fill="#0556d6"/>
<circle cx="334.4" cy="1022.53" r="4.8" fill="#c8142a"/>
<circle cx="334.4" cy="1019.38" r="4.8" fill="#0556d6"/>
<circle cx="334.4" cy="1037.81" r="4.8" fill="#0556d6"/>
<circle cx="334.4" cy="1040.06" r="4.8" fill="#0556d6"/>
<circle cx="334.4" cy="1043.43" r="4.8" fill="#c8142a"/>
<circle cx="334.4" cy="1068.15" r="4.8" fill="#0556d6"/>
<circle cx="334.4" cy="1072.64" r="4.8" fill="#c8142a"/>
<circle cx="334.4" cy="1085" r="4.8" fill="#0556d6"/>
<circle cx="334.4" cy="1082.75" r="4.8" fill="#c8142a"/>
<circle cx="334.4" cy="1098.93" r="4.8" fill="#c8142a"/>
<circle cx="334.4" cy="1130.62" r="4.8" fill="#0556d6"/>
<circle cx="334.4" cy="1156.46" r="4.8" fill="#0556d6"/>
<circle cx="334.4" cy="1152.42" r="4.8" fill="#c8142a"/>
<circle cx="334.4" cy="1237.81" r="4.8" fill="#c8142a"/>
<circle cx="381.6" cy="971.07" r="4.8" fill="#0556d6"/>
<circle cx="381.6" cy="1018.03" r="4.8" fill="#0556d6"/>
<circle cx="381.6" cy="1017.13" r="4.8" fill="#c8142a"/>
<circle cx="381.6" cy="1036.01" r="4.8" fill="#c8142a"/>
<circle cx="381.6" cy="1054.66" r="4.8" fill="#c8142a"/>
<circle cx="381.6" cy="1061.4" r="4.8" fill="#0556d6"/>
<circle cx="381.6" cy="1068.82" r="4.8" fill="#0556d6"/>
<circle cx="381.6" cy="1074.89" r="4.8" fill="#c8142a"/>
<circle cx="381.6" cy="1079.38" r="4.8" fill="#0556d6"/>
<circle cx="381.6" cy="1087.25" r="4.8" fill="#0556d6"/>
<circle cx="381.6" cy="1086.12" r="4.8" fill="#c8142a"/>
<circle cx="381.6" cy="1100.28" r="4.8" fill="#c8142a"/>
<circle cx="381.6" cy="1114.66" r="4.8" fill="#c8142a"/>
<circle cx="381.6" cy="1155.79" r="4.8" fill="#c8142a"/>
<circle cx="381.6" cy="1154.21" r="4.8" fill="#0556d6"/>
<circle cx="400.92" cy="1000.06" r="4.8" fill="#0556d6"/>
<circle cx="400.92" cy="1024.33" r="4.8" fill="#c8142a"/>
<circle cx="400.92" cy="1037.81" r="4.8" fill="#c8142a"/>
<circle cx="400.92" cy="1038.93" r="4.8" fill="#0556d6"/>
<circle cx="400.92" cy="1045" r="4.8" fill="#0556d6"/>
<circle cx="400.92" cy="1065.9" r="4.8" fill="#c8142a"/>
<circle cx="400.92" cy="1070.39" r="4.8" fill="#c8142a"/>
<circle cx="400.92" cy="1090.62" r="4.8" fill="#c8142a"/>
<circle cx="400.92" cy="1087.25" r="4.8" fill="#0556d6"/>
<circle cx="400.92" cy="1110.39" r="4.8" fill="#0556d6"/>
<circle cx="400.92" cy="1128.82" r="4.8" fill="#c8142a"/>
<circle cx="400.92" cy="1141.18" r="4.8" fill="#0556d6"/>
<circle cx="418.9" cy="935.11" r="4.8" fill="#c8142a"/>
<circle cx="418.9" cy="991.74" r="4.8" fill="#0556d6"/>
<circle cx="418.9" cy="1003.43" r="4.8" fill="#0556d6"/>
<circle cx="418.9" cy="1020.28" r="4.8" fill="#c8142a"/>
<circle cx="418.9" cy="1028.82" r="4.8" fill="#0556d6"/>
<circle cx="418.9" cy="1036.01" r="4.8" fill="#0556d6"/>
<circle cx="418.9" cy="1045" r="4.8" fill="#c8142a"/>
<circle cx="418.9" cy="1078.93" r="4.8" fill="#c8142a"/>
<circle cx="418.9" cy="1086.8" r="4.8" fill="#0556d6"/>
<circle cx="418.9" cy="1119.83" r="4.8" fill="#0556d6"/>
<circle cx="418.9" cy="1116.46" r="4.8" fill="#c8142a"/>
<circle cx="418.9" cy="1129.27" r="4.8" fill="#c8142a"/>
<circle cx="418.9" cy="1139.61" r="4.8" fill="#c8142a"/>
<circle cx="418.9" cy="1152.42" r="4.8" fill="#0556d6"/>
<circle cx="430.13" cy="971.07" r="4.8" fill="#0556d6"/>
<circle cx="430.13" cy="1012.64" r="4.8" fill="#c8142a"/>
<circle cx="430.13" cy="1008.6" r="4.8" fill="#0556d6"/>
<circle cx="430.13" cy="1022.08" r="4.8" fill="#c8142a"/>
<circle cx="430.13" cy="1019.83" r="4.8" fill="#0556d6"/>
<circle cx="430.13" cy="1028.82" r="4.8" fill="#0556d6"/>
<circle cx="430.13" cy="1033.76" r="4.8" fill="#0556d6"/>
<circle cx="430.13" cy="1064.33" r="4.8" fill="#c8142a"/>
<circle cx="430.13" cy="1081.63" r="4.8" fill="#c8142a"/>
<circle cx="430.13" cy="1086.12" r="4.8" fill="#0556d6"/>
<circle cx="430.13" cy="1089.04" r="4.8" fill="#c8142a"/>
<circle cx="430.13" cy="1102.98" r="4.8" fill="#c8142a"/>
<circle cx="430.13" cy="1114.66" r="4.8" fill="#c8142a"/>
<circle cx="430.13" cy="1125.45" r="4.8" fill="#0556d6"/>
<circle cx="430.13" cy="1154.66" r="4.8" fill="#c8142a"/>
<circle cx="462.94" cy="946.8" r="4.8" fill="#0556d6"/>
<circle cx="462.94" cy="983.43" r="4.8" fill="#c8142a"/>
<circle cx="462.94" cy="1004.55" r="4.8" fill="#c8142a"/>
<circle cx="462.94" cy="1009.72" r="4.8" fill="#0556d6"/>
<circle cx="462.94" cy="1019.83" r="4.8" fill="#0556d6"/>
<circle cx="462.94" cy="1032.87" r="4.8" fill="#c8142a"/>
<circle cx="462.94" cy="1046.8" r="4.8" fill="#c8142a"/>
<circle cx="462.94" cy="1049.04" r="4.8" fill="#0556d6"/>
<circle cx="462.94" cy="1054.66" r="4.8" fill="#c8142a"/>
<circle cx="462.94" cy="1059.16" r="4.8" fill="#0556d6"/>
<circle cx="462.94" cy="1060.28" r="4.8" fill="#c8142a"/>
<circle cx="462.94" cy="1064.78" r="4.8" fill="#0556d6"/>
<circle cx="462.94" cy="1072.64" r="4.8" fill="#c8142a"/>
<circle cx="462.94" cy="1085" r="4.8" fill="#0556d6"/>
<circle cx="462.94" cy="1092.87" r="4.8" fill="#0556d6"/>
<circle cx="462.94" cy="1097.36" r="4.8" fill="#c8142a"/>
<circle cx="462.94" cy="1105.22" r="4.8" fill="#c8142a"/>
<circle cx="462.94" cy="1099.61" r="4.8" fill="#0556d6"/>
<circle cx="462.94" cy="1101.85" r="4.8" fill="#0556d6"/>
<circle cx="462.94" cy="1116.46" r="4.8" fill="#0556d6"/>
<circle cx="462.94" cy="1113.09" r="4.8" fill="#c8142a"/>
<circle cx="462.94" cy="1132.19" r="4.8" fill="#c8142a"/>
<circle cx="462.94" cy="1127.7" r="4.8" fill="#0556d6"/>
<circle cx="462.94" cy="1143.43" r="4.8" fill="#0556d6"/>
<circle cx="462.94" cy="1149.04" r="4.8" fill="#c8142a"/>
<circle cx="462.94" cy="1205.67" r="4.8" fill="#c8142a"/>
<circle cx="586.93" cy="990.17" r="4.8" fill="#0556d6"/>
<circle cx="586.93" cy="993.99" r="4.8" fill="#0556d6"/>
<circle cx="586.93" cy="1012.64" r="4.8" fill="#c8142a"/>
<circle cx="586.93" cy="1026.12" r="4.8" fill="#0556d6"/>
<circle cx="586.93" cy="1032.19" r="4.8" fill="#c8142a"/>
<circle cx="586.93" cy="1035.56" r="4.8" fill="#0556d6"/>
<circle cx="586.93" cy="1058.03" r="4.8" fill="#c8142a"/>
<circle cx="586.93" cy="1072.64" r="4.8" fill="#c8142a"/>
<circle cx="586.93" cy="1077.13" r="4.8" fill="#0556d6"/>
<circle cx="586.93" cy="1082.75" r="4.8" fill="#c8142a"/>
<circle cx="586.93" cy="1086.12" r="4.8" fill="#c8142a"/>
<circle cx="586.93" cy="1089.94" r="4.8" fill="#c8142a"/>
<circle cx="586.93" cy="1094.44" r="4.8" fill="#c8142a"/>
<circle cx="586.93" cy="1175.34" r="4.8" fill="#c8142a"/>
<circle cx="586.93" cy="1173.76" r="4.8" fill="#0556d6"/>
<circle cx="615.7" cy="929.27" r="4.8" fill="#0556d6"/>
<circle cx="615.7" cy="1005.67" r="4.8" fill="#0556d6"/>
<circle cx="615.7" cy="1032.19" r="4.8" fill="#0556d6"/>
<circle cx="615.7" cy="1038.93" r="4.8" fill="#c8142a"/>
<circle cx="615.7" cy="1042.3" r="4.8" fill="#0556d6"/>
<circle cx="615.7" cy="1053.09" r="4.8" fill="#c8142a"/>
<circle cx="615.7" cy="1068.15" r="4.8" fill="#0556d6"/>
<circle cx="615.7" cy="1070.39" r="4.8" fill="#0556d6"/>
<circle cx="615.7" cy="1071.52" r="4.8" fill="#c8142a"/>
<circle cx="615.7" cy="1091.29" r="4.8" fill="#0556d6"/>
<circle cx="615.7" cy="1089.04" r="4.8" fill="#c8142a"/>
<circle cx="615.7" cy="1121.4" r="4.8" fill="#0556d6"/>
<circle cx="615.7" cy="1160.28" r="4.8" fill="#c8142a"/>
<circle cx="615.7" cy="1169.27" r="4.8" fill="#c8142a"/>
<circle cx="687.61" cy="949.72" r="4.8" fill="#0556d6"/>
<circle cx="687.61" cy="951.29" r="4.8" fill="#0556d6"/>
<circle cx="687.61" cy="965.9" r="4.8" fill="#c8142a"/>
<circle cx="687.61" cy="971.52" r="4.8" fill="#c8142a"/>
<circle cx="687.61" cy="979.38" r="4.8" fill="#c8142a"/>
<circle cx="687.61" cy="992.42" r="4.8" fill="#0556d6"/>
<circle cx="687.61" cy="1000.73" r="4.8" fill="#0556d6"/>
<circle cx="687.61" cy="1007.47" r="4.8" fill="#0556d6"/>
<circle cx="687.61" cy="1005.22" r="4.8" fill="#c8142a"/>
<circle cx="687.61" cy="1027.7" r="4.8" fill="#c8142a"/>
<circle cx="687.61" cy="1041.85" r="4.8" fill="#0556d6"/>
<circle cx="687.61" cy="1055.34" r="4.8" fill="#c8142a"/>
<circle cx="687.61" cy="1089.94" r="4.8" fill="#c8142a"/>
<circle cx="687.61" cy="1125.9" r="4.8" fill="#0556d6"/>
<circle cx="687.61" cy="1159.16" r="4.8" fill="#c8142a"/>
<circle cx="706.71" cy="978.93" r="4.8" fill="#0556d6"/>
<circle cx="706.71" cy="983.88" r="4.8" fill="#0556d6"/>
<circle cx="706.71" cy="990.17" r="4.8" fill="#c8142a"/>
<circle cx="706.71" cy="1006.8" r="4.8" fill="#c8142a"/>
<circle cx="706.71" cy="1017.58" r="4.8" fill="#c8142a"/>
<circle cx="706.71" cy="1016.46" r="4.8" fill="#0556d6"/>
<circle cx="706.71" cy="1037.81" r="4.8" fill="#0556d6"/>
<circle cx="706.71" cy="1046.8" r="4.8" fill="#0556d6"/>
<circle cx="706.71" cy="1088.37" r="4.8" fill="#0556d6"/>
<circle cx="706.71" cy="1102.98" r="4.8" fill="#c8142a"/>
<circle cx="706.71" cy="1106.35" r="4.8" fill="#c8142a"/>
<circle cx="706.71" cy="1112.42" r="4.8" fill="#0556d6"/>
<circle cx="706.71" cy="1156.91" r="4.8" fill="#c8142a"/>
<circle cx="706.71" cy="1185.45" r="4.8" fill="#0556d6"/>
<circle cx="706.71" cy="1183.88" r="4.8" fill="#c8142a"/>
<circle cx="711.2" cy="953.99" r="4.8" fill="#0556d6"/>
<circle cx="711.2" cy="967.7" r="4.8" fill="#c8142a"/>
<circle cx="711.2" cy="1014.21" r="4.8" fill="#c8142a"/>
<circle cx="711.2" cy="1025.45" r="4.8" fill="#0556d6"/>
<circle cx="711.2" cy="1030.62" r="4.8" fill="#0556d6"/>
<circle cx="711.2" cy="1046.35" r="4.8" fill="#0556d6"/>
<circle cx="711.2" cy="1062.98" r="4.8" fill="#c8142a"/>
<circle cx="711.2" cy="1080.06" r="4.8" fill="#0556d6"/>
<circle cx="711.2" cy="1091.74" r="4.8" fill="#0556d6"/>
<circle cx="711.2" cy="1094.44" r="4.8" fill="#0556d6"/>
<circle cx="711.2" cy="1108.6" r="4.8" fill="#c8142a"/>
<circle cx="711.2" cy="1113.09" r="4.8" fill="#c8142a"/>
<circle cx="711.2" cy="1123.2" r="4.8" fill="#c8142a"/>
<circle cx="711.2" cy="1161.85" r="4.8" fill="#0556d6"/>
<circle cx="711.2" cy="1183.88" r="4.8" fill="#c8142a"/>
<circle cx="744.91" cy="985.67" r="4.8" fill="#0556d6"/>
<circle cx="744.91" cy="1001.85" r="4.8" fill="#c8142a"/>
<circle cx="744.91" cy="998.48" r="4.8" fill="#0556d6"/>
<circle cx="744.91" cy="1020.96" r="4.8" fill="#0556d6"/>
<circle cx="744.91" cy="1042.98" r="4.8" fill="#0556d6"/>
<circle cx="744.91" cy="1054.66" r="4.8" fill="#0556d6"/>
<circle cx="744.91" cy="1057.58" r="4.8" fill="#c8142a"/>
<circle cx="744.91" cy="1064.78" r="4.8" fill="#0556d6"/>
<circle cx="744.91" cy="1067.47" r="4.8" fill="#0556d6"/>
<circle cx="744.91" cy="1071.52" r="4.8" fill="#c8142a"/>
<circle cx="744.91" cy="1082.3" r="4.8" fill="#0556d6"/>
<circle cx="744.91" cy="1114.21" r="4.8" fill="#c8142a"/>
<circle cx="744.91" cy="1119.16" r="4.8" fill="#0556d6"/>
<circle cx="744.91" cy="1124.33" r="4.8" fill="#c8142a"/>
<circle cx="744.91" cy="1143.43" r="4.8" fill="#c8142a"/>
<circle cx="744.91" cy="1181.63" r="4.8" fill="#c8142a"/>
<circle cx="790.98" cy="942.3" r="4.8" fill="#0556d6"/>
<circle cx="790.98" cy="988.37" r="4.8" fill="#0556d6"/>
<circle cx="790.98" cy="1023.2" r="4.8" fill="#c8142a"/>
<circle cx="790.98" cy="1025.45" r="4.8" fill="#c8142a"/>
<circle cx="790.98" cy="1039.38" r="4.8" fill="#c8142a"/>
<circle cx="790.98" cy="1044.55" r="4.8" fill="#0556d6"/>
<circle cx="790.98" cy="1058.03" r="4.8" fill="#0556d6"/>
<circle cx="790.98" cy="1060.73" r="4.8" fill="#0556d6"/>
<circle cx="790.98" cy="1078.26" r="4.8" fill="#c8142a"/>
<circle cx="790.98" cy="1075.56" r="4.8" fill="#0556d6"/>
<circle cx="790.98" cy="1095.56" r="4.8" fill="#c8142a"/>
<circle cx="790.98" cy="1104.78" r="4.8" fill="#c8142a"/>
<circle cx="790.98" cy="1109.27" r="4.8" fill="#c8142a"/>
<circle cx="790.98" cy="1125.9" r="4.8" fill="#0556d6"/>
<circle cx="790.98" cy="1149.72" r="4.8" fill="#0556d6"/>
<circle cx="790.98" cy="1151.29" r="4.8" fill="#c8142a"/>
<circle cx="550.8" cy="917.68" r="4.8" fill="#c8142a"/>
<circle cx="550.8" cy="939.15" r="4.8" fill="#0556d6"/>
<circle cx="572.76" cy="943.54" r="4.8" fill="#0556d6"/>
<circle cx="550.8" cy="954.27" r="4.8" fill="#0556d6"/>
<circle cx="572.76" cy="969.88" r="4.8" fill="#0556d6"/>
<circle cx="572.76" cy="973.29" r="4.8" fill="#0556d6"/>
<circle cx="572.76" cy="978.17" r="4.8" fill="#0556d6"/>
<circle cx="550.8" cy="979.15" r="4.8" fill="#0556d6"/>
<circle cx="550.8" cy="974.76" r="4.8" fill="#c8142a"/>
<circle cx="563.49" cy="980.12" r="4.8" fill="#c8142a"/>
<circle cx="564.46" cy="978.17" r="4.8" fill="#0556d6"/>
<circle cx="554.71" cy="985.49" r="4.8" fill="#0556d6"/>
<circle cx="550.8" cy="988.9" r="4.8" fill="#0556d6"/>
<circle cx="554.71" cy="990.85" r="4.8" fill="#c8142a"/>
<circle cx="550.8" cy="993.78" r="4.8" fill="#0556d6"/>
<circle cx="564.46" cy="990.37" r="4.8" fill="#0556d6"/>
<circle cx="563.98" cy="994.76" r="4.8" fill="#0556d6"/>
<circle cx="564.95" cy="1001.59" r="4.8" fill="#0556d6"/>
<circle cx="566.41" cy="1012.32" r="4.8" fill="#0556d6"/>
<circle cx="566.41" cy="1005.98" r="4.8" fill="#c8142a"/>
<circle cx="554.71" cy="1007.93" r="4.8" fill="#0556d6"/>
<circle cx="554.71" cy="1021.1" r="4.8" fill="#c8142a"/>
<circle cx="563.49" cy="1021.59" r="4.8" fill="#c8142a"/>
<circle cx="572.76" cy="1018.66" r="4.8" fill="#0556d6"/>
<circle cx="572.76" cy="1021.59" r="4.8" fill="#c8142a"/>
<circle cx="550.8" cy="1029.39" r="4.8" fill="#0556d6"/>
<circle cx="550.8" cy="1033.78" r="4.8" fill="#c8142a"/>
<circle cx="553.73" cy="1031.34" r="4.8" fill="#c8142a"/>
<circle cx="572.27" cy="1029.88" r="4.8" fill="#c8142a"/>
<circle cx="563.49" cy="1038.66" r="4.8" fill="#c8142a"/>
<circle cx="563.49" cy="1044.51" r="4.8" fill="#c8142a"/>
<circle cx="572.27" cy="1042.56" r="4.8" fill="#c8142a"/>
<circle cx="550.8" cy="1061.1" r="4.8" fill="#0556d6"/>
<circle cx="554.71" cy="1068.9" r="4.8" fill="#0556d6"/>
<circle cx="565.44" cy="1056.22" r="4.8" fill="#c8142a"/>
<circle cx="563.98" cy="1062.07" r="4.8" fill="#c8142a"/>
<circle cx="572.27" cy="1062.07" r="4.8" fill="#0556d6"/>
<circle cx="572.27" cy="1067.93" r="4.8" fill="#c8142a"/>
<circle cx="564.46" cy="1069.88" r="4.8" fill="#0556d6"/>
<circle cx="565.93" cy="1078.66" r="4.8" fill="#c8142a"/>
<circle cx="561.54" cy="1079.63" r="4.8" fill="#0556d6"/>
<circle cx="554.71" cy="1090.85" r="4.8" fill="#0556d6"/>
<circle cx="563.49" cy="1090.37" r="4.8" fill="#0556d6"/>
<circle cx="566.41" cy="1086.95" r="4.8" fill="#0556d6"/>
<circle cx="551.78" cy="1102.07" r="4.8" fill="#c8142a"/>
<circle cx="555.68" cy="1103.54" r="4.8" fill="#c8142a"/>
<circle cx="565.93" cy="1103.05" r="4.8" fill="#0556d6"/>
<circle cx="565.44" cy="1101.59" r="4.8" fill="#c8142a"/>
<circle cx="554.71" cy="1117.2" r="4.8" fill="#0556d6"/>
<circle cx="563.49" cy="1115.73" r="4.8" fill="#c8142a"/>
<circle cx="572.76" cy="1114.76" r="4.8" fill="#0556d6"/>
<circle cx="566.41" cy="1120.12" r="4.8" fill="#0556d6"/>
<circle cx="554.71" cy="1127.44" r="4.8" fill="#c8142a"/>
<circle cx="565.93" cy="1126.95" r="4.8" fill="#c8142a"/>
<circle cx="565.44" cy="1132.32" r="4.8" fill="#0556d6"/>
<circle cx="566.41" cy="1133.29" r="4.8" fill="#c8142a"/>
<circle cx="564.95" cy="1154.27" r="4.8" fill="#c8142a"/>
<circle cx="564.95" cy="1150.37" r="4.8" fill="#0556d6"/>
<circle cx="566.41" cy="1166.46" r="4.8" fill="#c8142a"/>
<circle cx="572.76" cy="1164.51" r="4.8" fill="#c8142a"/>
<circle cx="566.41" cy="1187.44" r="4.8" fill="#0556d6"/>
<circle cx="563.49" cy="1229.88" r="4.8" fill="#c8142a"/>
<circle cx="554.3" cy="1253" r="4.8" fill="#c8142a"/>
<circle cx="554.3" cy="1251.3" r="4.8" fill="#0556d6"/>
<circle cx="278.22" cy="1436.35" r="4.8" fill="#0556d6"/>
<circle cx="278.22" cy="1441.97" r="4.8" fill="#0556d6"/>
<circle cx="278.22" cy="1472.3" r="4.8" fill="#0556d6"/>
<circle cx="278.22" cy="1493.65" r="4.8" fill="#c8142a"/>
<circle cx="278.22" cy="1508.26" r="4.8" fill="#c8142a"/>
<circle cx="278.22" cy="1499.27" r="4.8" fill="#0556d6"/>
<circle cx="278.22" cy="1502.64" r="4.8" fill="#0556d6"/>
<circle cx="278.22" cy="1506.01" r="4.8" fill="#0556d6"/>
<circle cx="278.22" cy="1517.25" r="4.8" fill="#c8142a"/>
<circle cx="278.22" cy="1520.62" r="4.8" fill="#c8142a"/>
<circle cx="278.22" cy="1522.87" r="4.8" fill="#c8142a"/>
<circle cx="278.22" cy="1536.35" r="4.8" fill="#c8142a"/>
<circle cx="278.22" cy="1535.67" r="4.8" fill="#0556d6"/>
<circle cx="278.22" cy="1553.2" r="4.8" fill="#c8142a"/>
<circle cx="278.22" cy="1556.57" r="4.8" fill="#c8142a"/>
<circle cx="278.22" cy="1577.92" r="4.8" fill="#c8142a"/>
<circle cx="278.22" cy="1583.54" r="4.8" fill="#0556d6"/>
<circle cx="278.22" cy="1588.03" r="4.8" fill="#c8142a"/>
<circle cx="278.22" cy="1591.4" r="4.8" fill="#c8142a"/>
<circle cx="278.22" cy="1613.88" r="4.8" fill="#c8142a"/>
<circle cx="278.22" cy="1622.87" r="4.8" fill="#0556d6"/>
<circle cx="278.22" cy="1646.46" r="4.8" fill="#c8142a"/>
<circle cx="278.22" cy="1631.85" r="4.8" fill="#0556d6"/>
<circle cx="278.22" cy="1635.22" r="4.8" fill="#0556d6"/>
<circle cx="278.22" cy="1638.6" r="4.8" fill="#0556d6"/>
<circle cx="278.22" cy="1640.84" r="4.8" fill="#0556d6"/>
<circle cx="335.98" cy="1437.02" r="4.8" fill="#0556d6"/>
<circle cx="335.98" cy="1455.9" r="4.8" fill="#0556d6"/>
<circle cx="335.98" cy="1495.45" r="4.8" fill="#c8142a"/>
<circle cx="335.98" cy="1512.75" r="4.8" fill="#c8142a"/>
<circle cx="335.98" cy="1516.12" r="4.8" fill="#0556d6"/>
<circle cx="335.98" cy="1523.99" r="4.8" fill="#c8142a"/>
<circle cx="335.98" cy="1537.92" r="4.8" fill="#0556d6"/>
<circle cx="335.98" cy="1565.11" r="4.8" fill="#0556d6"/>
<circle cx="335.98" cy="1573.43" r="4.8" fill="#c8142a"/>
<circle cx="335.98" cy="1575" r="4.8" fill="#0556d6"/>
<circle cx="335.98" cy="1579.04" r="4.8" fill="#c8142a"/>
<circle cx="335.98" cy="1592.08" r="4.8" fill="#c8142a"/>
<circle cx="335.98" cy="1606.46" r="4.8" fill="#0556d6"/>
<circle cx="335.98" cy="1626.24" r="4.8" fill="#c8142a"/>
<circle cx="335.98" cy="1632.3" r="4.8" fill="#0556d6"/>
<circle cx="383.39" cy="1515.67" r="4.8" fill="#0556d6"/>
<circle cx="383.39" cy="1531.85" r="4.8" fill="#0556d6"/>
<circle cx="383.39" cy="1529.61" r="4.8" fill="#c8142a"/>
<circle cx="383.39" cy="1538.6" r="4.8" fill="#c8142a"/>
<circle cx="383.39" cy="1554.33" r="4.8" fill="#c8142a"/>
<circle cx="383.39" cy="1557.7" r="4.8" fill="#c8142a"/>
<circle cx="383.39" cy="1562.19" r="4.8" fill="#0556d6"/>
<circle cx="383.39" cy="1570.06" r="4.8" fill="#c8142a"/>
<circle cx="383.39" cy="1602.19" r="4.8" fill="#c8142a"/>
<circle cx="383.39" cy="1607.13" r="4.8" fill="#c8142a"/>
<circle cx="383.39" cy="1636.35" r="4.8" fill="#0556d6"/>
<circle cx="383.39" cy="1641.97" r="4.8" fill="#0556d6"/>
<circle cx="383.39" cy="1656.12" r="4.8" fill="#c8142a"/>
<circle cx="383.39" cy="1665.56" r="4.8" fill="#0556d6"/>
<circle cx="402.72" cy="1340.39" r="4.8" fill="#c8142a"/>
<circle cx="402.72" cy="1518.82" r="4.8" fill="#0556d6"/>
<circle cx="402.72" cy="1533.65" r="4.8" fill="#0556d6"/>
<circle cx="402.72" cy="1551.4" r="4.8" fill="#0556d6"/>
<circle cx="402.72" cy="1562.19" r="4.8" fill="#c8142a"/>
<circle cx="402.72" cy="1579.04" r="4.8" fill="#0556d6"/>
<circle cx="402.72" cy="1597.7" r="4.8" fill="#0556d6"/>
<circle cx="402.72" cy="1612.75" r="4.8" fill="#0556d6"/>
<circle cx="402.72" cy="1606.01" r="4.8" fill="#c8142a"/>
<circle cx="402.72" cy="1609.38" r="4.8" fill="#c8142a"/>
<circle cx="402.72" cy="1634.1" r="4.8" fill="#c8142a"/>
<circle cx="402.72" cy="1660.62" r="4.8" fill="#c8142a"/>
<circle cx="402.72" cy="1678.6" r="4.8" fill="#0556d6"/>
<circle cx="420.7" cy="1458.15" r="4.8" fill="#0556d6"/>
<circle cx="420.7" cy="1503.76" r="4.8" fill="#c8142a"/>
<circle cx="420.7" cy="1510.06" r="4.8" fill="#0556d6"/>
<circle cx="420.7" cy="1526.69" r="4.8" fill="#c8142a"/>
<circle cx="420.7" cy="1536.35" r="4.8" fill="#c8142a"/>
<circle cx="420.7" cy="1542.42" r="4.8" fill="#0556d6"/>
<circle cx="420.7" cy="1546.46" r="4.8" fill="#0556d6"/>
<circle cx="420.7" cy="1558.82" r="4.8" fill="#c8142a"/>
<circle cx="420.7" cy="1574.55" r="4.8" fill="#c8142a"/>
<circle cx="420.7" cy="1593.65" r="4.8" fill="#0556d6"/>
<circle cx="420.7" cy="1618.37" r="4.8" fill="#c8142a"/>
<circle cx="420.7" cy="1641.97" r="4.8" fill="#c8142a"/>
<circle cx="420.7" cy="1629.16" r="4.8" fill="#0556d6"/>
<circle cx="420.7" cy="1635.9" r="4.8" fill="#0556d6"/>
<circle cx="420.7" cy="1650.96" r="4.8" fill="#0556d6"/>
<circle cx="420.7" cy="1672.3" r="4.8" fill="#c8142a"/>
<circle cx="431.71" cy="1472.3" r="4.8" fill="#c8142a"/>
<circle cx="431.71" cy="1470.51" r="4.8" fill="#0556d6"/>
<circle cx="431.71" cy="1489.61" r="4.8" fill="#c8142a"/>
<circle cx="431.71" cy="1505.56" r="4.8" fill="#0556d6"/>
<circle cx="431.71" cy="1519.49" r="4.8" fill="#c8142a"/>
<circle cx="431.71" cy="1542.42" r="4.8" fill="#c8142a"/>
<circle cx="431.71" cy="1554.33" r="4.8" fill="#0556d6"/>
<circle cx="431.71" cy="1580.17" r="4.8" fill="#0556d6"/>
<circle cx="431.71" cy="1595.45" r="4.8" fill="#0556d6"/>
<circle cx="431.71" cy="1617.25" r="4.8" fill="#0556d6"/>
<circle cx="431.71" cy="1612.75" r="4.8" fill="#c8142a"/>
<circle cx="431.71" cy="1652.75" r="4.8" fill="#0556d6"/>
<circle cx="431.71" cy="1674.55" r="4.8" fill="#c8142a"/>
<circle cx="464.74" cy="1403.09" r="4.8" fill="#0556d6"/>
<circle cx="464.74" cy="1414.55" r="4.8" fill="#0556d6"/>
<circle cx="464.74" cy="1452.08" r="4.8" fill="#c8142a"/>
<circle cx="464.74" cy="1456.57" r="4.8" fill="#0556d6"/>
<circle cx="464.74" cy="1458.82" r="4.8" fill="#0556d6"/>
<circle cx="464.74" cy="1461.07" r="4.8" fill="#0556d6"/>
<circle cx="464.74" cy="1465.56" r="4.8" fill="#c8142a"/>
<circle cx="464.74" cy="1474.55" r="4.8" fill="#c8142a"/>
<circle cx="464.74" cy="1488.48" r="4.8" fill="#0556d6"/>
<circle cx="464.74" cy="1499.72" r="4.8" fill="#0556d6"/>
<circle cx="464.74" cy="1515" r="4.8" fill="#c8142a"/>
<circle cx="464.74" cy="1510.51" r="4.8" fill="#0556d6"/>
<circle cx="464.74" cy="1512.75" r="4.8" fill="#0556d6"/>
<circle cx="464.74" cy="1526.24" r="4.8" fill="#c8142a"/>
<circle cx="464.74" cy="1528.48" r="4.8" fill="#0556d6"/>
<circle cx="464.74" cy="1530.73" r="4.8" fill="#0556d6"/>
<circle cx="464.74" cy="1539.72" r="4.8" fill="#c8142a"/>
<circle cx="464.74" cy="1541.97" r="4.8" fill="#c8142a"/>
<circle cx="464.74" cy="1545.34" r="4.8" fill="#c8142a"/>
<circle cx="464.74" cy="1552.08" r="4.8" fill="#0556d6"/>
<circle cx="464.74" cy="1557.7" r="4.8" fill="#c8142a"/>
<circle cx="464.74" cy="1571.18" r="4.8" fill="#c8142a"/>
<circle cx="464.74" cy="1582.42" r="4.8" fill="#c8142a"/>
<circle cx="464.74" cy="1577.92" r="4.8" fill="#0556d6"/>
<circle cx="464.74" cy="1593.65" r="4.8" fill="#c8142a"/>
<circle cx="464.74" cy="1598.15" r="4.8" fill="#c8142a"/>
<circle cx="464.74" cy="1586.91" r="4.8" fill="#0556d6"/>
<circle cx="464.74" cy="1589.16" r="4.8" fill="#0556d6"/>
<circle cx="464.74" cy="1609.38" r="4.8" fill="#c8142a"/>
<circle cx="464.74" cy="1635.22" r="4.8" fill="#c8142a"/>
<circle cx="464.74" cy="1676.12" r="4.8" fill="#0556d6"/>
<circle cx="588.73" cy="1480.62" r="4.8" fill="#0556d6"/>
<circle cx="588.73" cy="1487.58" r="4.8" fill="#c8142a"/>
<circle cx="588.73" cy="1501.97" r="4.8" fill="#0556d6"/>
<circle cx="588.73" cy="1522.42" r="4.8" fill="#c8142a"/>
<circle cx="588.73" cy="1537.02" r="4.8" fill="#0556d6"/>
<circle cx="588.73" cy="1567.81" r="4.8" fill="#c8142a"/>
<circle cx="588.73" cy="1564.44" r="4.8" fill="#0556d6"/>
<circle cx="588.73" cy="1582.42" r="4.8" fill="#0556d6"/>
<circle cx="588.73" cy="1598.6" r="4.8" fill="#c8142a"/>
<circle cx="588.73" cy="1613.43" r="4.8" fill="#c8142a"/>
<circle cx="588.73" cy="1617.25" r="4.8" fill="#c8142a"/>
<circle cx="588.73" cy="1625.11" r="4.8" fill="#c8142a"/>
<circle cx="588.73" cy="1654.33" r="4.8" fill="#0556d6"/>
<circle cx="588.73" cy="1652.08" r="4.8" fill="#c8142a"/>
<circle cx="588.73" cy="1677.92" r="4.8" fill="#0556d6"/>
<circle cx="617.27" cy="1522.87" r="4.8" fill="#0556d6"/>
<circle cx="617.27" cy="1532.53" r="4.8" fill="#c8142a"/>
<circle cx="617.27" cy="1538.6" r="4.8" fill="#0556d6"/>
<circle cx="617.27" cy="1550.96" r="4.8" fill="#c8142a"/>
<circle cx="617.27" cy="1553.65" r="4.8" fill="#c8142a"/>
<circle cx="617.27" cy="1564.89" r="4.8" fill="#0556d6"/>
<circle cx="617.27" cy="1582.42" r="4.8" fill="#0556d6"/>
<circle cx="617.27" cy="1588.03" r="4.8" fill="#c8142a"/>
<circle cx="617.27" cy="1597.47" r="4.8" fill="#0556d6"/>
<circle cx="617.27" cy="1617.25" r="4.8" fill="#c8142a"/>
<circle cx="617.27" cy="1611.63" r="4.8" fill="#0556d6"/>
<circle cx="617.27" cy="1667.81" r="4.8" fill="#c8142a"/>
<circle cx="617.27" cy="1687.58" r="4.8" fill="#0556d6"/>
<circle cx="689.4" cy="1465.56" r="4.8" fill="#0556d6"/>
<circle cx="689.4" cy="1478.6" r="4.8" fill="#0556d6"/>
<circle cx="689.4" cy="1487.58" r="4.8" fill="#c8142a"/>
<circle cx="689.4" cy="1495.9" r="4.8" fill="#c8142a"/>
<circle cx="689.4" cy="1513.2" r="4.8" fill="#c8142a"/>
<circle cx="689.4" cy="1522.87" r="4.8" fill="#c8142a"/>
<circle cx="689.4" cy="1541.97" r="4.8" fill="#c8142a"/>
<circle cx="689.4" cy="1564.44" r="4.8" fill="#0556d6"/>
<circle cx="689.4" cy="1581.97" r="4.8" fill="#c8142a"/>
<circle cx="689.4" cy="1597.02" r="4.8" fill="#0556d6"/>
<circle cx="689.4" cy="1599.27" r="4.8" fill="#0556d6"/>
<circle cx="689.4" cy="1591.4" r="4.8" fill="#c8142a"/>
<circle cx="689.4" cy="1606.01" r="4.8" fill="#c8142a"/>
<circle cx="689.4" cy="1637.47" r="4.8" fill="#0556d6"/>
<circle cx="689.4" cy="1643.54" r="4.8" fill="#0556d6"/>
<circle cx="689.4" cy="1690.28" r="4.8" fill="#0556d6"/>
<circle cx="708.28" cy="1488.48" r="4.8" fill="#c8142a"/>
<circle cx="708.28" cy="1520.62" r="4.8" fill="#0556d6"/>
<circle cx="708.28" cy="1532.53" r="4.8" fill="#0556d6"/>
<circle cx="708.28" cy="1545.34" r="4.8" fill="#0556d6"/>
<circle cx="708.28" cy="1548.71" r="4.8" fill="#0556d6"/>
<circle cx="708.28" cy="1556.57" r="4.8" fill="#0556d6"/>
<circle cx="708.28" cy="1578.37" r="4.8" fill="#0556d6"/>
<circle cx="708.28" cy="1576.12" r="4.8" fill="#c8142a"/>
<circle cx="708.28" cy="1599.94" r="4.8" fill="#c8142a"/>
<circle cx="708.28" cy="1616.12" r="4.8" fill="#0556d6"/>
<circle cx="708.28" cy="1609.38" r="4.8" fill="#c8142a"/>
<circle cx="708.28" cy="1611.63" r="4.8" fill="#c8142a"/>
<circle cx="708.28" cy="1626.24" r="4.8" fill="#0556d6"/>
<circle cx="708.28" cy="1662.19" r="4.8" fill="#c8142a"/>
<circle cx="712.78" cy="1459.49" r="4.8" fill="#0556d6"/>
<circle cx="712.78" cy="1472.98" r="4.8" fill="#c8142a"/>
<circle cx="712.78" cy="1506.46" r="4.8" fill="#0556d6"/>
<circle cx="712.78" cy="1513.88" r="4.8" fill="#0556d6"/>
<circle cx="712.78" cy="1510.51" r="4.8" fill="#c8142a"/>
<circle cx="712.78" cy="1517.25" r="4.8" fill="#c8142a"/>
<circle cx="712.78" cy="1568.93" r="4.8" fill="#0556d6"/>
<circle cx="712.78" cy="1566.69" r="4.8" fill="#c8142a"/>
<circle cx="712.78" cy="1582.42" r="4.8" fill="#c8142a"/>
<circle cx="712.78" cy="1580.17" r="4.8" fill="#0556d6"/>
<circle cx="712.78" cy="1598.6" r="4.8" fill="#0556d6"/>
<circle cx="712.78" cy="1657.02" r="4.8" fill="#c8142a"/>
<circle cx="712.78" cy="1676.35" r="4.8" fill="#0556d6"/>
<circle cx="712.78" cy="1688.48" r="4.8" fill="#0556d6"/>
<circle cx="712.78" cy="1693.65" r="4.8" fill="#c8142a"/>
<circle cx="712.78" cy="1685.79" r="4.8" fill="#c8142a"/>
<circle cx="746.48" cy="1420.17" r="4.8" fill="#0556d6"/>
<circle cx="746.48" cy="1510.51" r="4.8" fill="#c8142a"/>
<circle cx="746.48" cy="1505.56" r="4.8" fill="#0556d6"/>
<circle cx="746.48" cy="1512.75" r="4.8" fill="#0556d6"/>
<circle cx="746.48" cy="1539.72" r="4.8" fill="#c8142a"/>
<circle cx="746.48" cy="1564.89" r="4.8" fill="#0556d6"/>
<circle cx="746.48" cy="1570.06" r="4.8" fill="#0556d6"/>
<circle cx="746.48" cy="1574.55" r="4.8" fill="#c8142a"/>
<circle cx="746.48" cy="1595.9" r="4.8" fill="#c8142a"/>
<circle cx="746.48" cy="1598.6" r="4.8" fill="#c8142a"/>
<circle cx="746.48" cy="1609.83" r="4.8" fill="#0556d6"/>
<circle cx="746.48" cy="1631.85" r="4.8" fill="#c8142a"/>
<circle cx="746.48" cy="1651.4" r="4.8" fill="#0556d6"/>
<circle cx="746.48" cy="1698.15" r="4.8" fill="#c8142a"/>
<circle cx="792.55" cy="1418.37" r="4.8" fill="#c8142a"/>
<circle cx="792.55" cy="1466.01" r="4.8" fill="#0556d6"/>
<circle cx="792.55" cy="1460.62" r="4.8" fill="#c8142a"/>
<circle cx="792.55" cy="1496.35" r="4.8" fill="#0556d6"/>
<circle cx="792.55" cy="1512.08" r="4.8" fill="#c8142a"/>
<circle cx="792.55" cy="1544.21" r="4.8" fill="#c8142a"/>
<circle cx="792.55" cy="1541.52" r="4.8" fill="#0556d6"/>
<circle cx="792.55" cy="1555" r="4.8" fill="#c8142a"/>
<circle cx="792.55" cy="1549.83" r="4.8" fill="#0556d6"/>
<circle cx="792.55" cy="1565.56" r="4.8" fill="#0556d6"/>
<circle cx="792.55" cy="1584.66" r="4.8" fill="#0556d6"/>
<circle cx="792.55" cy="1612.75" r="4.8" fill="#c8142a"/>
<circle cx="792.55" cy="1615" r="4.8" fill="#c8142a"/>
<circle cx="792.55" cy="1629.16" r="4.8" fill="#0556d6"/>
<circle cx="792.55" cy="1668.48" r="4.8" fill="#0556d6"/>
<circle cx="552.47" cy="1444.02" r="4.8" fill="#c8142a"/>
<circle cx="564.97" cy="1442.12" r="4.8" fill="#0556d6"/>
<circle cx="574.44" cy="1440.61" r="4.8" fill="#0556d6"/>
<circle cx="552.47" cy="1455" r="4.8" fill="#0556d6"/>
<circle cx="566.48" cy="1456.14" r="4.8" fill="#0556d6"/>
<circle cx="566.11" cy="1464.09" r="4.8" fill="#c8142a"/>
<circle cx="574.44" cy="1464.09" r="4.8" fill="#0556d6"/>
<circle cx="552.47" cy="1476.21" r="4.8" fill="#0556d6"/>
<circle cx="568.38" cy="1473.56" r="4.8" fill="#0556d6"/>
<circle cx="566.48" cy="1484.17" r="4.8" fill="#c8142a"/>
<circle cx="566.48" cy="1489.85" r="4.8" fill="#0556d6"/>
<circle cx="574.44" cy="1485.68" r="4.8" fill="#0556d6"/>
<circle cx="556.64" cy="1494.77" r="4.8" fill="#c8142a"/>
<circle cx="552.09" cy="1505.76" r="4.8" fill="#c8142a"/>
<circle cx="556.64" cy="1502.73" r="4.8" fill="#0556d6"/>
<circle cx="565.35" cy="1499.7" r="4.8" fill="#c8142a"/>
<circle cx="565.73" cy="1517.12" r="4.8" fill="#0556d6"/>
<circle cx="568.38" cy="1511.44" r="4.8" fill="#c8142a"/>
<circle cx="566.48" cy="1526.97" r="4.8" fill="#0556d6"/>
<circle cx="568" cy="1523.18" r="4.8" fill="#c8142a"/>
<circle cx="556.26" cy="1522.42" r="4.8" fill="#c8142a"/>
<circle cx="552.09" cy="1530.76" r="4.8" fill="#c8142a"/>
<circle cx="556.64" cy="1534.92" r="4.8" fill="#0556d6"/>
<circle cx="564.97" cy="1536.06" r="4.8" fill="#c8142a"/>
<circle cx="574.06" cy="1537.58" r="4.8" fill="#0556d6"/>
<circle cx="574.06" cy="1534.92" r="4.8" fill="#c8142a"/>
<circle cx="556.26" cy="1545.15" r="4.8" fill="#c8142a"/>
<circle cx="556.26" cy="1550.45" r="4.8" fill="#c8142a"/>
<circle cx="565.73" cy="1548.18" r="4.8" fill="#c8142a"/>
<circle cx="565.73" cy="1551.97" r="4.8" fill="#c8142a"/>
<circle cx="574.06" cy="1548.18" r="4.8" fill="#c8142a"/>
<circle cx="574.06" cy="1551.97" r="4.8" fill="#c8142a"/>
<circle cx="550.58" cy="1559.55" r="4.8" fill="#c8142a"/>
<circle cx="555.88" cy="1558.79" r="4.8" fill="#0556d6"/>
<circle cx="555.88" cy="1564.09" r="4.8" fill="#0556d6"/>
<circle cx="552.09" cy="1569.39" r="4.8" fill="#0556d6"/>
<circle cx="564.97" cy="1562.58" r="4.8" fill="#c8142a"/>
<circle cx="567.24" cy="1566.36" r="4.8" fill="#c8142a"/>
<circle cx="574.06" cy="1569.39" r="4.8" fill="#c8142a"/>
<circle cx="552.09" cy="1581.89" r="4.8" fill="#0556d6"/>
<circle cx="556.26" cy="1580.76" r="4.8" fill="#0556d6"/>
<circle cx="556.26" cy="1577.35" r="4.8" fill="#c8142a"/>
<circle cx="566.48" cy="1584.55" r="4.8" fill="#0556d6"/>
<circle cx="564.97" cy="1589.09" r="4.8" fill="#0556d6"/>
<circle cx="568" cy="1576.97" r="4.8" fill="#c8142a"/>
<circle cx="574.06" cy="1585.3" r="4.8" fill="#c8142a"/>
<circle cx="568" cy="1594.39" r="4.8" fill="#0556d6"/>
<circle cx="567.24" cy="1592.88" r="4.8" fill="#c8142a"/>
<circle cx="552.09" cy="1605" r="4.8" fill="#0556d6"/>
<circle cx="556.26" cy="1605" r="4.8" fill="#c8142a"/>
<circle cx="566.11" cy="1604.62" r="4.8" fill="#c8142a"/>
<circle cx="574.06" cy="1602.73" r="4.8" fill="#c8142a"/>
<circle cx="568" cy="1611.06" r="4.8" fill="#c8142a"/>
<circle cx="568" cy="1614.09" r="4.8" fill="#c8142a"/>
<circle cx="563.45" cy="1620.91" r="4.8" fill="#c8142a"/>
<circle cx="566.48" cy="1620.15" r="4.8" fill="#0556d6"/>
<circle cx="564.97" cy="1623.94" r="4.8" fill="#0556d6"/>
<circle cx="552.09" cy="1625.45" r="4.8" fill="#c8142a"/>
<circle cx="552.09" cy="1632.27" r="4.8" fill="#0556d6"/>
<circle cx="556.26" cy="1626.21" r="4.8" fill="#0556d6"/>
<circle cx="552.09" cy="1655" r="4.8" fill="#c8142a"/>
<circle cx="552.09" cy="1654.24" r="4.8" fill="#0556d6"/>
<circle cx="552.09" cy="1651.21" r="4.8" fill="#c8142a"/>
<circle cx="552.09" cy="1645.15" r="4.8" fill="#0556d6"/>
<circle cx="552.09" cy="1640.98" r="4.8" fill="#c8142a"/>
<circle cx="565.35" cy="1636.82" r="4.8" fill="#c8142a"/>
<circle cx="565.73" cy="1640.61" r="4.8" fill="#c8142a"/>
<circle cx="566.48" cy="1647.8" r="4.8" fill="#0556d6"/>
<circle cx="574.44" cy="1649.7" r="4.8" fill="#0556d6"/>
<circle cx="565.35" cy="1662.58" r="4.8" fill="#c8142a"/>
<circle cx="565.35" cy="1669.77" r="4.8" fill="#0556d6"/>
<circle cx="927.46" cy="90.2" r="4.8" fill="#0556d6"/>
<circle cx="927.46" cy="174.44" r="4.8" fill="#c8142a"/>
<circle cx="978.23" cy="77.85" r="4.8" fill="#0556d6"/>
<circle cx="978.23" cy="87.96" r="4.8" fill="#c8142a"/>
<circle cx="991.93" cy="63.47" r="4.8" fill="#0556d6"/>
<circle cx="991.93" cy="114.91" r="4.8" fill="#c8142a"/>
<circle cx="1005.41" cy="149.73" r="4.8" fill="#c8142a"/>
<circle cx="1005.41" cy="177.14" r="4.8" fill="#0556d6"/>
<circle cx="995.3" cy="236.22" r="4.8" fill="#0556d6"/>
<circle cx="995.3" cy="281.14" r="4.8" fill="#c8142a"/>
<circle cx="1049.44" cy="171.52" r="4.8" fill="#0556d6"/>
<circle cx="1049.44" cy="184.55" r="4.8" fill="#c8142a"/>
<circle cx="1059.55" cy="173.77" r="4.8" fill="#0556d6"/>
<circle cx="1059.55" cy="218.7" r="4.8" fill="#c8142a"/>
<circle cx="1100.43" cy="132.43" r="4.8" fill="#0556d6"/>
<circle cx="1100.43" cy="147.26" r="4.8" fill="#c8142a"/>
<circle cx="1137.5" cy="173.32" r="4.8" fill="#c8142a"/>
<circle cx="1137.5" cy="195.56" r="4.8" fill="#0556d6"/>
<circle cx="1168.28" cy="155.12" r="4.8" fill="#c8142a"/>
<circle cx="1178.38" cy="147.04" r="4.8" fill="#0556d6"/>
<circle cx="1188.72" cy="222.74" r="4.8" fill="#0556d6"/>
<circle cx="1168.28" cy="256.21" r="4.8" fill="#0556d6"/>
<circle cx="1178.38" cy="266.09" r="4.8" fill="#c8142a"/>
<circle cx="1188.72" cy="266.09" r="4.8" fill="#c8142a"/>
<circle cx="1212.08" cy="125.47" r="4.8" fill="#0556d6"/>
<circle cx="1212.08" cy="196.68" r="4.8" fill="#c8142a"/>
<circle cx="1212.57" cy="125.58" r="4.8" fill="#0556d6"/>
<circle cx="1242.9" cy="91.44" r="4.8" fill="#0556d6"/>
<circle cx="1263.26" cy="104.81" r="4.8" fill="#0556d6"/>
<circle cx="1256.48" cy="117.56" r="4.8" fill="#c8142a"/>
<circle cx="1239.61" cy="120.75" r="4.8" fill="#0556d6"/>
<circle cx="1287.12" cy="123.32" r="4.8" fill="#0556d6"/>
<circle cx="1303.78" cy="121.67" r="4.8" fill="#0556d6"/>
<circle cx="1256.48" cy="144.09" r="4.8" fill="#c8142a"/>
<circle cx="1249.79" cy="152.11" r="4.8" fill="#0556d6"/>
<circle cx="1300.49" cy="146.97" r="4.8" fill="#0556d6"/>
<circle cx="1303.78" cy="147.17" r="4.8" fill="#c8142a"/>
<circle cx="1290.51" cy="154.88" r="4.8" fill="#c8142a"/>
<circle cx="1290.51" cy="152.11" r="4.8" fill="#0556d6"/>
<circle cx="1219.25" cy="159" r="4.8" fill="#c8142a"/>
<circle cx="1239.61" cy="160.54" r="4.8" fill="#0556d6"/>
<circle cx="1256.48" cy="165.68" r="4.8" fill="#c8142a"/>
<circle cx="1263.26" cy="163.62" r="4.8" fill="#c8142a"/>
<circle cx="1239.61" cy="169.07" r="4.8" fill="#0556d6"/>
<circle cx="1256.48" cy="171.85" r="4.8" fill="#0556d6"/>
<circle cx="1297.2" cy="164.96" r="4.8" fill="#0556d6"/>
<circle cx="1219.25" cy="171.34" r="4.8" fill="#c8142a"/>
<circle cx="1219.25" cy="179.56" r="4.8" fill="#0556d6"/>
<circle cx="1276.84" cy="176.99" r="4.8" fill="#0556d6"/>
<circle cx="1290.51" cy="176.99" r="4.8" fill="#c8142a"/>
<circle cx="1317.46" cy="167.74" r="4.8" fill="#c8142a"/>
<circle cx="1313.86" cy="173.91" r="4.8" fill="#c8142a"/>
<circle cx="1317.46" cy="176.99" r="4.8" fill="#0556d6"/>
<circle cx="1327.74" cy="142.03" r="4.8" fill="#0556d6"/>
<circle cx="1327.74" cy="150.26" r="4.8" fill="#c8142a"/>
<circle cx="1329.28" cy="156.94" r="4.8" fill="#0556d6"/>
<circle cx="1232.83" cy="189.54" r="4.8" fill="#0556d6"/>
<circle cx="1249.79" cy="186.76" r="4.8" fill="#c8142a"/>
<circle cx="1276.84" cy="191.9" r="4.8" fill="#c8142a"/>
<circle cx="1290.51" cy="186.25" r="4.8" fill="#0556d6"/>
<circle cx="1297.2" cy="183.68" r="4.8" fill="#0556d6"/>
<circle cx="1300.49" cy="183.68" r="4.8" fill="#c8142a"/>
<circle cx="1303.78" cy="190.36" r="4.8" fill="#c8142a"/>
<circle cx="1212.57" cy="197.04" r="4.8" fill="#c8142a"/>
<circle cx="1232.83" cy="200.64" r="4.8" fill="#c8142a"/>
<circle cx="1242.9" cy="193.44" r="4.8" fill="#c8142a"/>
<circle cx="1239.82" cy="196.02" r="4.8" fill="#c8142a"/>
<circle cx="1249.79" cy="196.02" r="4.8" fill="#c8142a"/>
<circle cx="1256.48" cy="194.99" r="4.8" fill="#c8142a"/>
<circle cx="1263.26" cy="203.21" r="4.8" fill="#0556d6"/>
<circle cx="1270.15" cy="201.16" r="4.8" fill="#0556d6"/>
<circle cx="1256.48" cy="209.38" r="4.8" fill="#0556d6"/>
<circle cx="1263.26" cy="212.47" r="4.8" fill="#c8142a"/>
<circle cx="1266.04" cy="212.47" r="4.8" fill="#0556d6"/>
<circle cx="1280.23" cy="206.81" r="4.8" fill="#c8142a"/>
<circle cx="1297.2" cy="206.81" r="4.8" fill="#c8142a"/>
<circle cx="1303.78" cy="199.1" r="4.8" fill="#0556d6"/>
<circle cx="1310.77" cy="196.53" r="4.8" fill="#0556d6"/>
<circle cx="1310.77" cy="203.21" r="4.8" fill="#c8142a"/>
<circle cx="1307.17" cy="206.3" r="4.8" fill="#0556d6"/>
<circle cx="1239.82" cy="211.95" r="4.8" fill="#c8142a"/>
<circle cx="1242.9" cy="214.52" r="4.8" fill="#c8142a"/>
<circle cx="1242.9" cy="217.61" r="4.8" fill="#0556d6"/>
<circle cx="1219.25" cy="218.64" r="4.8" fill="#0556d6"/>
<circle cx="1232.83" cy="221.21" r="4.8" fill="#0556d6"/>
<circle cx="1256.48" cy="223.78" r="4.8" fill="#c8142a"/>
<circle cx="1263.26" cy="226.86" r="4.8" fill="#c8142a"/>
<circle cx="1249.79" cy="227.38" r="4.8" fill="#0556d6"/>
<circle cx="1276.84" cy="221.21" r="4.8" fill="#c8142a"/>
<circle cx="1287.12" cy="225.84" r="4.8" fill="#c8142a"/>
<circle cx="1290.51" cy="215.55" r="4.8" fill="#c8142a"/>
<circle cx="1293.8" cy="214.52" r="4.8" fill="#0556d6"/>
<circle cx="1297.2" cy="218.64" r="4.8" fill="#0556d6"/>
<circle cx="1297.2" cy="228.92" r="4.8" fill="#0556d6"/>
<circle cx="1300.49" cy="215.55" r="4.8" fill="#c8142a"/>
<circle cx="1303.78" cy="223.78" r="4.8" fill="#0556d6"/>
<circle cx="1303.78" cy="226.86" r="4.8" fill="#c8142a"/>
<circle cx="1313.86" cy="210.41" r="4.8" fill="#0556d6"/>
<circle cx="1321.05" cy="211.95" r="4.8" fill="#0556d6"/>
<circle cx="1321.05" cy="215.55" r="4.8" fill="#c8142a"/>
<circle cx="1321.05" cy="220.18" r="4.8" fill="#0556d6"/>
<circle cx="1310.77" cy="218.64" r="4.8" fill="#0556d6"/>
<circle cx="1313.86" cy="226.86" r="4.8" fill="#c8142a"/>
<circle cx="1317.46" cy="229.95" r="4.8" fill="#0556d6"/>
<circle cx="1325.17" cy="186.76" r="4.8" fill="#0556d6"/>
<circle cx="1327.74" cy="182.65" r="4.8" fill="#c8142a"/>
<circle cx="1327.74" cy="191.9" r="4.8" fill="#0556d6"/>
<circle cx="1327.74" cy="196.02" r="4.8" fill="#c8142a"/>
<circle cx="1327.74" cy="203.73" r="4.8" fill="#0556d6"/>
<circle cx="1329.28" cy="216.58" r="4.8" fill="#0556d6"/>
<circle cx="1244.96" cy="234.06" r="4.8" fill="#c8142a"/>
<circle cx="1249.79" cy="236.12" r="4.8" fill="#0556d6"/>
<circle cx="1276.84" cy="236.12" r="4.8" fill="#c8142a"/>
<circle cx="1290.51" cy="236.12" r="4.8" fill="#0556d6"/>
<circle cx="1219.25" cy="239.2" r="4.8" fill="#0556d6"/>
<circle cx="1303.57" cy="235.09" r="4.8" fill="#c8142a"/>
<circle cx="1348.14" cy="87.84" r="4.8" fill="#c8142a"/>
<circle cx="1338.06" cy="105.53" r="4.8" fill="#c8142a"/>
<circle cx="1395.64" cy="102.65" r="4.8" fill="#0556d6"/>
<circle cx="1344.85" cy="117.35" r="4.8" fill="#0556d6"/>
<circle cx="1343.51" cy="123.52" r="4.8" fill="#c8142a"/>
<circle cx="1348.14" cy="124.86" r="4.8" fill="#0556d6"/>
<circle cx="1331.17" cy="128.66" r="4.8" fill="#0556d6"/>
<circle cx="1334.56" cy="138.43" r="4.8" fill="#c8142a"/>
<circle cx="1338.06" cy="143.78" r="4.8" fill="#0556d6"/>
<circle cx="1334.77" cy="149.74" r="4.8" fill="#0556d6"/>
<circle cx="1331.17" cy="157.46" r="4.8" fill="#0556d6"/>
<circle cx="1358.42" cy="137.4" r="4.8" fill="#0556d6"/>
<circle cx="1405.93" cy="141.83" r="4.8" fill="#0556d6"/>
<circle cx="1426.29" cy="150.26" r="4.8" fill="#c8142a"/>
<circle cx="1348.14" cy="155.4" r="4.8" fill="#0556d6"/>
<circle cx="1385.46" cy="154.68" r="4.8" fill="#0556d6"/>
<circle cx="1395.64" cy="163.42" r="4.8" fill="#c8142a"/>
<circle cx="1348.14" cy="165.99" r="4.8" fill="#0556d6"/>
<circle cx="1361.81" cy="168.05" r="4.8" fill="#c8142a"/>
<circle cx="1354.82" cy="173.19" r="4.8" fill="#c8142a"/>
<circle cx="1348.14" cy="174.42" r="4.8" fill="#0556d6"/>
<circle cx="1371.99" cy="176.99" r="4.8" fill="#0556d6"/>
<circle cx="1385.46" cy="176.99" r="4.8" fill="#0556d6"/>
<circle cx="1331.17" cy="187.79" r="4.8" fill="#0556d6"/>
<circle cx="1341.45" cy="182.65" r="4.8" fill="#0556d6"/>
<circle cx="1342.48" cy="187.79" r="4.8" fill="#c8142a"/>
<circle cx="1348.14" cy="185.22" r="4.8" fill="#0556d6"/>
<circle cx="1358.42" cy="182.13" r="4.8" fill="#c8142a"/>
<circle cx="1358.42" cy="186.76" r="4.8" fill="#0556d6"/>
<circle cx="1362.02" cy="192.93" r="4.8" fill="#0556d6"/>
<circle cx="1365.1" cy="196.53" r="4.8" fill="#0556d6"/>
<circle cx="1371.99" cy="191.9" r="4.8" fill="#0556d6"/>
<circle cx="1399.04" cy="184.7" r="4.8" fill="#0556d6"/>
<circle cx="1405.93" cy="182.13" r="4.8" fill="#c8142a"/>
<circle cx="1405.93" cy="186.76" r="4.8" fill="#0556d6"/>
<circle cx="1412.92" cy="191.9" r="4.8" fill="#0556d6"/>
<circle cx="1348.14" cy="196.53" r="4.8" fill="#c8142a"/>
<circle cx="1354.82" cy="199.1" r="4.8" fill="#0556d6"/>
<circle cx="1334.77" cy="201.67" r="4.8" fill="#0556d6"/>
<circle cx="1388.75" cy="193.96" r="4.8" fill="#0556d6"/>
<circle cx="1385.46" cy="201.67" r="4.8" fill="#c8142a"/>
<circle cx="1385.46" cy="209.38" r="4.8" fill="#c8142a"/>
<circle cx="1392.35" cy="201.67" r="4.8" fill="#0556d6"/>
<circle cx="1392.35" cy="198.59" r="4.8" fill="#c8142a"/>
<circle cx="1405.93" cy="198.59" r="4.8" fill="#c8142a"/>
<circle cx="1399.04" cy="211.44" r="4.8" fill="#0556d6"/>
<circle cx="1341.45" cy="212.47" r="4.8" fill="#0556d6"/>
<circle cx="1348.14" cy="211.95" r="4.8" fill="#c8142a"/>
<circle cx="1354.82" cy="211.95" r="4.8" fill="#0556d6"/>
<circle cx="1361.81" cy="208.87" r="4.8" fill="#0556d6"/>
<circle cx="1365.1" cy="216.07" r="4.8" fill="#c8142a"/>
<circle cx="1371.99" cy="213.5" r="4.8" fill="#c8142a"/>
<circle cx="1375.39" cy="218.12" r="4.8" fill="#c8142a"/>
<circle cx="1378.47" cy="215.55" r="4.8" fill="#0556d6"/>
<circle cx="1382.07" cy="221.21" r="4.8" fill="#0556d6"/>
<circle cx="1341.45" cy="218.64" r="4.8" fill="#0556d6"/>
<circle cx="1344.54" cy="221.72" r="4.8" fill="#c8142a"/>
<circle cx="1348.14" cy="220.69" r="4.8" fill="#0556d6"/>
<circle cx="1351.74" cy="226.86" r="4.8" fill="#0556d6"/>
<circle cx="1354.82" cy="224.81" r="4.8" fill="#0556d6"/>
<circle cx="1331.17" cy="224.81" r="4.8" fill="#0556d6"/>
<circle cx="1331.17" cy="230.98" r="4.8" fill="#c8142a"/>
<circle cx="1361.81" cy="229.43" r="4.8" fill="#c8142a"/>
<circle cx="1385.46" cy="230.46" r="4.8" fill="#c8142a"/>
<circle cx="1402.63" cy="226.35" r="4.8" fill="#0556d6"/>
<circle cx="1409.32" cy="230.98" r="4.8" fill="#c8142a"/>
<circle cx="1341.45" cy="234.06" r="4.8" fill="#0556d6"/>
<circle cx="1348.14" cy="239.2" r="4.8" fill="#c8142a"/>
<circle cx="1388.75" cy="239.2" r="4.8" fill="#c8142a"/>
<circle cx="1405.93" cy="239.2" r="4.8" fill="#c8142a"/>
<circle cx="1330.14" cy="239.2" r="4.8" fill="#c8142a"/>
<circle cx="1219.25" cy="242.71" r="4.8" fill="#c8142a"/>
<circle cx="1270.15" cy="246.31" r="4.8" fill="#c8142a"/>
<circle cx="1276.84" cy="249.91" r="4.8" fill="#0556d6"/>
<circle cx="1290.21" cy="247.34" r="4.8" fill="#c8142a"/>
<circle cx="1297.2" cy="242.71" r="4.8" fill="#c8142a"/>
<circle cx="1297.2" cy="247.34" r="4.8" fill="#c8142a"/>
<circle cx="1303.78" cy="249.4" r="4.8" fill="#c8142a"/>
<circle cx="1310.77" cy="242.71" r="4.8" fill="#c8142a"/>
<circle cx="1310.77" cy="247.34" r="4.8" fill="#0556d6"/>
<circle cx="1312.83" cy="252.48" r="4.8" fill="#0556d6"/>
<circle cx="1317.46" cy="253.51" r="4.8" fill="#c8142a"/>
<circle cx="1321.05" cy="249.4" r="4.8" fill="#c8142a"/>
<circle cx="1326.2" cy="255.57" r="4.8" fill="#c8142a"/>
<circle cx="1320.54" cy="258.65" r="4.8" fill="#0556d6"/>
<circle cx="1321.05" cy="261.74" r="4.8" fill="#c8142a"/>
<circle cx="1329.28" cy="246.31" r="4.8" fill="#0556d6"/>
<circle cx="1263.26" cy="255.05" r="4.8" fill="#0556d6"/>
<circle cx="1273.55" cy="258.65" r="4.8" fill="#c8142a"/>
<circle cx="1276.84" cy="266.36" r="4.8" fill="#0556d6"/>
<circle cx="1287.12" cy="258.14" r="4.8" fill="#0556d6"/>
<circle cx="1256.48" cy="262.25" r="4.8" fill="#0556d6"/>
<circle cx="1256.48" cy="266.36" r="4.8" fill="#0556d6"/>
<circle cx="1297.2" cy="259.16" r="4.8" fill="#c8142a"/>
<circle cx="1303.78" cy="259.16" r="4.8" fill="#c8142a"/>
<circle cx="1303.78" cy="263.79" r="4.8" fill="#0556d6"/>
<circle cx="1307.17" cy="261.74" r="4.8" fill="#c8142a"/>
<circle cx="1310.77" cy="262.76" r="4.8" fill="#c8142a"/>
<circle cx="1311.29" cy="268.93" r="4.8" fill="#c8142a"/>
<circle cx="1310.77" cy="277.67" r="4.8" fill="#c8142a"/>
<circle cx="1317.46" cy="282.3" r="4.8" fill="#c8142a"/>
<circle cx="1239.61" cy="273.56" r="4.8" fill="#0556d6"/>
<circle cx="1273.55" cy="274.59" r="4.8" fill="#0556d6"/>
<circle cx="1287.12" cy="279.01" r="4.8" fill="#c8142a"/>
<circle cx="1291.23" cy="279.01" r="4.8" fill="#c8142a"/>
<circle cx="1263.26" cy="281.07" r="4.8" fill="#c8142a"/>
<circle cx="1311.29" cy="287.96" r="4.8" fill="#0556d6"/>
<circle cx="1307.17" cy="293.1" r="4.8" fill="#0556d6"/>
<circle cx="1303.78" cy="299.78" r="4.8" fill="#0556d6"/>
<circle cx="1310.77" cy="304.92" r="4.8" fill="#0556d6"/>
<circle cx="1290.51" cy="290.01" r="4.8" fill="#0556d6"/>
<circle cx="1290.51" cy="295.67" r="4.8" fill="#0556d6"/>
<circle cx="1293.8" cy="303.38" r="4.8" fill="#0556d6"/>
<circle cx="1232.83" cy="292.28" r="4.8" fill="#c8142a"/>
<circle cx="1245.99" cy="292.58" r="4.8" fill="#0556d6"/>
<circle cx="1242.9" cy="296.18" r="4.8" fill="#0556d6"/>
<circle cx="1256.48" cy="295.98" r="4.8" fill="#c8142a"/>
<circle cx="1273.55" cy="291.56" r="4.8" fill="#c8142a"/>
<circle cx="1329.28" cy="274.07" r="4.8" fill="#c8142a"/>
<circle cx="1329.28" cy="278.7" r="4.8" fill="#c8142a"/>
<circle cx="1329.28" cy="288.47" r="4.8" fill="#c8142a"/>
<circle cx="1329.28" cy="300.3" r="4.8" fill="#c8142a"/>
<circle cx="1263.26" cy="309.04" r="4.8" fill="#c8142a"/>
<circle cx="1267.07" cy="309.55" r="4.8" fill="#c8142a"/>
<circle cx="1280.23" cy="306.98" r="4.8" fill="#c8142a"/>
<circle cx="1249.79" cy="312.94" r="4.8" fill="#c8142a"/>
<circle cx="1293.8" cy="314.69" r="4.8" fill="#c8142a"/>
<circle cx="1321.05" cy="320.86" r="4.8" fill="#c8142a"/>
<circle cx="1239.61" cy="328.88" r="4.8" fill="#c8142a"/>
<circle cx="1273.55" cy="328.37" r="4.8" fill="#0556d6"/>
<circle cx="1293.8" cy="325.69" r="4.8" fill="#c8142a"/>
<circle cx="1304.09" cy="325.69" r="4.8" fill="#0556d6"/>
<circle cx="1290.51" cy="336.59" r="4.8" fill="#c8142a"/>
<circle cx="1280.23" cy="345.54" r="4.8" fill="#0556d6"/>
<circle cx="1242.9" cy="355.31" r="4.8" fill="#c8142a"/>
<circle cx="1293.8" cy="355.31" r="4.8" fill="#0556d6"/>
<circle cx="1293.8" cy="409.81" r="4.8" fill="#c8142a"/>
<circle cx="1331.17" cy="246.31" r="4.8" fill="#0556d6"/>
<circle cx="1341.45" cy="248.88" r="4.8" fill="#0556d6"/>
<circle cx="1348.14" cy="241.17" r="4.8" fill="#c8142a"/>
<circle cx="1348.14" cy="245.28" r="4.8" fill="#c8142a"/>
<circle cx="1348.14" cy="250.42" r="4.8" fill="#c8142a"/>
<circle cx="1361.81" cy="248.37" r="4.8" fill="#c8142a"/>
<circle cx="1378.47" cy="247.34" r="4.8" fill="#c8142a"/>
<circle cx="1385.15" cy="249.91" r="4.8" fill="#0556d6"/>
<circle cx="1388.75" cy="241.17" r="4.8" fill="#c8142a"/>
<circle cx="1392.35" cy="251.45" r="4.8" fill="#c8142a"/>
<circle cx="1399.04" cy="250.42" r="4.8" fill="#c8142a"/>
<circle cx="1399.04" cy="255.57" r="4.8" fill="#c8142a"/>
<circle cx="1405.93" cy="239.11" r="4.8" fill="#c8142a"/>
<circle cx="1409.32" cy="246.31" r="4.8" fill="#0556d6"/>
<circle cx="1334.77" cy="259.16" r="4.8" fill="#c8142a"/>
<circle cx="1341.45" cy="258.65" r="4.8" fill="#c8142a"/>
<circle cx="1351.22" cy="257.11" r="4.8" fill="#0556d6"/>
<circle cx="1351.22" cy="262.76" r="4.8" fill="#c8142a"/>
<circle cx="1358.42" cy="259.16" r="4.8" fill="#c8142a"/>
<circle cx="1358.42" cy="256.59" r="4.8" fill="#0556d6"/>
<circle cx="1371.79" cy="254.54" r="4.8" fill="#0556d6"/>
<circle cx="1374.87" cy="259.16" r="4.8" fill="#0556d6"/>
<circle cx="1378.47" cy="263.79" r="4.8" fill="#c8142a"/>
<circle cx="1382.07" cy="261.22" r="4.8" fill="#0556d6"/>
<circle cx="1368.19" cy="266.36" r="4.8" fill="#0556d6"/>
<circle cx="1375.39" cy="266.88" r="4.8" fill="#0556d6"/>
<circle cx="1392.35" cy="259.16" r="4.8" fill="#0556d6"/>
<circle cx="1426.29" cy="263.28" r="4.8" fill="#0556d6"/>
<circle cx="1331.17" cy="273.56" r="4.8" fill="#c8142a"/>
<circle cx="1331.17" cy="278.7" r="4.8" fill="#c8142a"/>
<circle cx="1331.17" cy="288.47" r="4.8" fill="#c8142a"/>
<circle cx="1331.17" cy="300.3" r="4.8" fill="#c8142a"/>
<circle cx="1351.22" cy="268.93" r="4.8" fill="#0556d6"/>
<circle cx="1348.14" cy="275.1" r="4.8" fill="#c8142a"/>
<circle cx="1348.14" cy="278.19" r="4.8" fill="#0556d6"/>
<circle cx="1358.42" cy="274.59" r="4.8" fill="#c8142a"/>
<circle cx="1378.47" cy="279.01" r="4.8" fill="#0556d6"/>
<circle cx="1399.04" cy="276.13" r="4.8" fill="#c8142a"/>
<circle cx="1402.63" cy="284.87" r="4.8" fill="#c8142a"/>
<circle cx="1405.93" cy="291.04" r="4.8" fill="#0556d6"/>
<circle cx="1368.19" cy="286.41" r="4.8" fill="#c8142a"/>
<circle cx="1365.1" cy="293.1" r="4.8" fill="#c8142a"/>
<circle cx="1374.87" cy="289.5" r="4.8" fill="#c8142a"/>
<circle cx="1380.53" cy="291.56" r="4.8" fill="#c8142a"/>
<circle cx="1391.84" cy="296.7" r="4.8" fill="#c8142a"/>
<circle cx="1385.15" cy="293.1" r="4.8" fill="#0556d6"/>
<circle cx="1392.35" cy="291.04" r="4.8" fill="#0556d6"/>
<circle cx="1399.04" cy="296.18" r="4.8" fill="#0556d6"/>
<circle cx="1344.54" cy="295.15" r="4.8" fill="#0556d6"/>
<circle cx="1344.54" cy="298.75" r="4.8" fill="#c8142a"/>
<circle cx="1351.22" cy="293.1" r="4.8" fill="#c8142a"/>
<circle cx="1354.82" cy="293.1" r="4.8" fill="#c8142a"/>
<circle cx="1361.5" cy="305.95" r="4.8" fill="#0556d6"/>
<circle cx="1365.1" cy="308.52" r="4.8" fill="#0556d6"/>
<circle cx="1341.45" cy="316.75" r="4.8" fill="#c8142a"/>
<circle cx="1345.57" cy="315.72" r="4.8" fill="#c8142a"/>
<circle cx="1351.22" cy="314.69" r="4.8" fill="#c8142a"/>
<circle cx="1358.42" cy="325.69" r="4.8" fill="#c8142a"/>
<circle cx="1385.46" cy="312.12" r="4.8" fill="#c8142a"/>
<circle cx="1385.46" cy="322.92" r="4.8" fill="#c8142a"/>
<circle cx="1385.46" cy="318.29" r="4.8" fill="#0556d6"/>
<circle cx="1412.61" cy="325.69" r="4.8" fill="#c8142a"/>
<circle cx="1436.57" cy="296.18" r="4.8" fill="#0556d6"/>
<circle cx="1436.57" cy="304.41" r="4.8" fill="#c8142a"/>
<circle cx="1426.29" cy="309.55" r="4.8" fill="#c8142a"/>
<circle cx="1426.29" cy="344" r="4.8" fill="#0556d6"/>
<circle cx="929.04" cy="616.17" r="4.8" fill="#0556d6"/>
<circle cx="929.04" cy="672.1" r="4.8" fill="#c8142a"/>
<circle cx="979.58" cy="536.42" r="4.8" fill="#c8142a"/>
<circle cx="979.58" cy="531.7" r="4.8" fill="#0556d6"/>
<circle cx="996.65" cy="595.95" r="4.8" fill="#0556d6"/>
<circle cx="993.28" cy="615.04" r="4.8" fill="#0556d6"/>
<circle cx="993.28" cy="667.16" r="4.8" fill="#c8142a"/>
<circle cx="996.65" cy="695.01" r="4.8" fill="#c8142a"/>
<circle cx="1006.76" cy="702.2" r="4.8" fill="#c8142a"/>
<circle cx="1006.76" cy="649.64" r="4.8" fill="#0556d6"/>
<circle cx="1050.79" cy="608.3" r="4.8" fill="#0556d6"/>
<circle cx="1050.79" cy="644.7" r="4.8" fill="#c8142a"/>
<circle cx="1061.12" cy="639.75" r="4.8" fill="#0556d6"/>
<circle cx="1061.12" cy="667.61" r="4.8" fill="#c8142a"/>
<circle cx="1101.56" cy="599.77" r="4.8" fill="#c8142a"/>
<circle cx="1138.85" cy="630.99" r="4.8" fill="#0556d6"/>
<circle cx="1138.85" cy="643.35" r="4.8" fill="#c8142a"/>
<circle cx="1169.62" cy="621.33" r="4.8" fill="#0556d6"/>
<circle cx="1169.62" cy="711.64" r="4.8" fill="#c8142a"/>
<circle cx="1179.51" cy="642.45" r="4.8" fill="#0556d6"/>
<circle cx="1179.51" cy="652.56" r="4.8" fill="#c8142a"/>
<circle cx="1189.62" cy="599.77" r="4.8" fill="#0556d6"/>
<circle cx="1189.62" cy="692.32" r="4.8" fill="#c8142a"/>
<circle cx="1212.75" cy="509.24" r="4.8" fill="#0556d6"/>
<circle cx="1212.75" cy="560.91" r="4.8" fill="#c8142a"/>
<circle cx="1213.6" cy="509.19" r="4.8" fill="#0556d6"/>
<circle cx="1240.64" cy="501.68" r="4.8" fill="#0556d6"/>
<circle cx="1257.61" cy="504.05" r="4.8" fill="#c8142a"/>
<circle cx="1271.18" cy="503.02" r="4.8" fill="#0556d6"/>
<circle cx="1278.07" cy="511.97" r="4.8" fill="#0556d6"/>
<circle cx="1240.64" cy="524.82" r="4.8" fill="#c8142a"/>
<circle cx="1264.5" cy="521.22" r="4.8" fill="#0556d6"/>
<circle cx="1250.93" cy="533.56" r="4.8" fill="#0556d6"/>
<circle cx="1318.69" cy="518.14" r="4.8" fill="#0556d6"/>
<circle cx="1311.8" cy="530.99" r="4.8" fill="#0556d6"/>
<circle cx="1328.77" cy="549.5" r="4.8" fill="#0556d6"/>
<circle cx="1328.77" cy="562.35" r="4.8" fill="#0556d6"/>
<circle cx="1213.6" cy="560.81" r="4.8" fill="#c8142a"/>
<circle cx="1233.86" cy="558.75" r="4.8" fill="#0556d6"/>
<circle cx="1278.07" cy="562.35" r="4.8" fill="#0556d6"/>
<circle cx="1298.23" cy="558.24" r="4.8" fill="#0556d6"/>
<circle cx="1305.12" cy="558.75" r="4.8" fill="#0556d6"/>
<circle cx="1257.61" cy="570.58" r="4.8" fill="#0556d6"/>
<circle cx="1243.93" cy="578.29" r="4.8" fill="#0556d6"/>
<circle cx="1250.93" cy="577.26" r="4.8" fill="#0556d6"/>
<circle cx="1264.5" cy="580.14" r="4.8" fill="#0556d6"/>
<circle cx="1298.23" cy="579.32" r="4.8" fill="#0556d6"/>
<circle cx="1305.12" cy="579.83" r="4.8" fill="#0556d6"/>
<circle cx="1311.8" cy="579.83" r="4.8" fill="#c8142a"/>
<circle cx="1315.4" cy="580.35" r="4.8" fill="#0556d6"/>
<circle cx="1291.44" cy="587.34" r="4.8" fill="#0556d6"/>
<circle cx="1250.93" cy="591.97" r="4.8" fill="#c8142a"/>
<circle cx="1264.5" cy="596.29" r="4.8" fill="#0556d6"/>
<circle cx="1264.5" cy="591.45" r="4.8" fill="#c8142a"/>
<circle cx="1298.43" cy="600.91" r="4.8" fill="#c8142a"/>
<circle cx="1303.57" cy="597.83" r="4.8" fill="#c8142a"/>
<circle cx="1311.8" cy="595.77" r="4.8" fill="#0556d6"/>
<circle cx="1308.71" cy="601.94" r="4.8" fill="#0556d6"/>
<circle cx="1311.8" cy="601.94" r="4.8" fill="#0556d6"/>
<circle cx="1220.28" cy="605.54" r="4.8" fill="#0556d6"/>
<circle cx="1240.64" cy="605.85" r="4.8" fill="#0556d6"/>
<circle cx="1220.28" cy="614.79" r="4.8" fill="#0556d6"/>
<circle cx="1278.07" cy="609.14" r="4.8" fill="#0556d6"/>
<circle cx="1291.44" cy="609.65" r="4.8" fill="#0556d6"/>
<circle cx="1294.32" cy="605.54" r="4.8" fill="#0556d6"/>
<circle cx="1305.12" cy="613.25" r="4.8" fill="#0556d6"/>
<circle cx="1311.8" cy="613.25" r="4.8" fill="#c8142a"/>
<circle cx="1315.4" cy="619.94" r="4.8" fill="#c8142a"/>
<circle cx="1311.8" cy="619.94" r="4.8" fill="#0556d6"/>
<circle cx="1328.77" cy="615.31" r="4.8" fill="#0556d6"/>
<circle cx="1271.18" cy="615.31" r="4.8" fill="#c8142a"/>
<circle cx="1278.07" cy="619.94" r="4.8" fill="#c8142a"/>
<circle cx="1264.5" cy="620.45" r="4.8" fill="#0556d6"/>
<circle cx="1243.93" cy="620.96" r="4.8" fill="#0556d6"/>
<circle cx="1250.93" cy="621.27" r="4.8" fill="#c8142a"/>
<circle cx="1291.23" cy="624.05" r="4.8" fill="#c8142a"/>
<circle cx="1298.43" cy="623.02" r="4.8" fill="#c8142a"/>
<circle cx="1298.23" cy="619.42" r="4.8" fill="#0556d6"/>
<circle cx="1311.8" cy="627.13" r="4.8" fill="#c8142a"/>
<circle cx="1264.5" cy="632.28" r="4.8" fill="#0556d6"/>
<circle cx="1281.47" cy="628.68" r="4.8" fill="#0556d6"/>
<circle cx="1294.32" cy="628.68" r="4.8" fill="#0556d6"/>
<circle cx="1291.23" cy="635.87" r="4.8" fill="#0556d6"/>
<circle cx="1294.83" cy="637.93" r="4.8" fill="#0556d6"/>
<circle cx="1220.28" cy="634.85" r="4.8" fill="#0556d6"/>
<circle cx="1220.28" cy="632.28" r="4.8" fill="#c8142a"/>
<circle cx="1305.12" cy="637.42" r="4.8" fill="#c8142a"/>
<circle cx="1311.8" cy="637.93" r="4.8" fill="#0556d6"/>
<circle cx="1328.77" cy="633.3" r="4.8" fill="#0556d6"/>
<circle cx="1257.61" cy="639.47" r="4.8" fill="#0556d6"/>
<circle cx="1263.47" cy="647.19" r="4.8" fill="#c8142a"/>
<circle cx="1264.5" cy="651.81" r="4.8" fill="#c8142a"/>
<circle cx="1267.58" cy="645.64" r="4.8" fill="#0556d6"/>
<circle cx="1287.63" cy="644.1" r="4.8" fill="#0556d6"/>
<circle cx="1287.12" cy="650.27" r="4.8" fill="#0556d6"/>
<circle cx="1291.23" cy="647.19" r="4.8" fill="#c8142a"/>
<circle cx="1294.83" cy="648.21" r="4.8" fill="#0556d6"/>
<circle cx="1311.8" cy="646.16" r="4.8" fill="#0556d6"/>
<circle cx="1308.51" cy="651.81" r="4.8" fill="#c8142a"/>
<circle cx="1322.08" cy="647.19" r="4.8" fill="#0556d6"/>
<circle cx="1327.22" cy="651.3" r="4.8" fill="#0556d6"/>
<circle cx="1233.86" cy="655.93" r="4.8" fill="#c8142a"/>
<circle cx="1240.64" cy="658.5" r="4.8" fill="#c8142a"/>
<circle cx="1240.64" cy="662.61" r="4.8" fill="#c8142a"/>
<circle cx="1243.93" cy="651.81" r="4.8" fill="#0556d6"/>
<circle cx="1257.61" cy="654.38" r="4.8" fill="#0556d6"/>
<circle cx="1257.61" cy="658.5" r="4.8" fill="#0556d6"/>
<circle cx="1291.23" cy="653.87" r="4.8" fill="#c8142a"/>
<circle cx="1294.83" cy="660.55" r="4.8" fill="#c8142a"/>
<circle cx="1274.27" cy="660.55" r="4.8" fill="#0556d6"/>
<circle cx="1280.95" cy="658.5" r="4.8" fill="#c8142a"/>
<circle cx="1277.87" cy="663.64" r="4.8" fill="#c8142a"/>
<circle cx="1274.27" cy="668.78" r="4.8" fill="#c8142a"/>
<circle cx="1319" cy="657.47" r="4.8" fill="#0556d6"/>
<circle cx="1322.08" cy="662.1" r="4.8" fill="#0556d6"/>
<circle cx="1321.57" cy="669.81" r="4.8" fill="#0556d6"/>
<circle cx="1233.86" cy="669.81" r="4.8" fill="#0556d6"/>
<circle cx="1243.93" cy="671.35" r="4.8" fill="#c8142a"/>
<circle cx="1257.61" cy="667.24" r="4.8" fill="#c8142a"/>
<circle cx="1264.5" cy="668.26" r="4.8" fill="#c8142a"/>
<circle cx="1265.53" cy="673.92" r="4.8" fill="#c8142a"/>
<circle cx="1274.27" cy="673.92" r="4.8" fill="#0556d6"/>
<circle cx="1305.12" cy="666.72" r="4.8" fill="#0556d6"/>
<circle cx="1301.52" cy="670.84" r="4.8" fill="#0556d6"/>
<circle cx="1305.12" cy="669.81" r="4.8" fill="#c8142a"/>
<circle cx="1311.8" cy="671.86" r="4.8" fill="#c8142a"/>
<circle cx="1327.22" cy="669.81" r="4.8" fill="#c8142a"/>
<circle cx="1220.28" cy="677.52" r="4.8" fill="#c8142a"/>
<circle cx="1243.93" cy="680.09" r="4.8" fill="#c8142a"/>
<circle cx="1257.61" cy="683.69" r="4.8" fill="#c8142a"/>
<circle cx="1311.8" cy="677.01" r="4.8" fill="#0556d6"/>
<circle cx="1315.4" cy="680.09" r="4.8" fill="#0556d6"/>
<circle cx="1301.52" cy="677.01" r="4.8" fill="#c8142a"/>
<circle cx="1325.17" cy="678.03" r="4.8" fill="#c8142a"/>
<circle cx="1372.81" cy="523.79" r="4.8" fill="#0556d6"/>
<circle cx="1372.81" cy="533.87" r="4.8" fill="#0556d6"/>
<circle cx="1349.16" cy="529.76" r="4.8" fill="#0556d6"/>
<circle cx="1342.48" cy="542.61" r="4.8" fill="#0556d6"/>
<circle cx="1352.56" cy="562.35" r="4.8" fill="#0556d6"/>
<circle cx="1349.16" cy="571.61" r="4.8" fill="#0556d6"/>
<circle cx="1355.85" cy="573.15" r="4.8" fill="#0556d6"/>
<circle cx="1366.13" cy="576.75" r="4.8" fill="#0556d6"/>
<circle cx="1372.81" cy="572.12" r="4.8" fill="#c8142a"/>
<circle cx="1349.16" cy="588.57" r="4.8" fill="#c8142a"/>
<circle cx="1379.5" cy="594.95" r="4.8" fill="#c8142a"/>
<circle cx="1342.48" cy="606.57" r="4.8" fill="#0556d6"/>
<circle cx="1332.2" cy="615.31" r="4.8" fill="#0556d6"/>
<circle cx="1352.56" cy="617.88" r="4.8" fill="#0556d6"/>
<circle cx="1352.56" cy="613.25" r="4.8" fill="#c8142a"/>
<circle cx="1342.48" cy="621.99" r="4.8" fill="#0556d6"/>
<circle cx="1349.16" cy="630.22" r="4.8" fill="#0556d6"/>
<circle cx="1349.16" cy="624.05" r="4.8" fill="#c8142a"/>
<circle cx="1372.81" cy="611.71" r="4.8" fill="#0556d6"/>
<circle cx="1379.5" cy="616.34" r="4.8" fill="#0556d6"/>
<circle cx="1383.1" cy="629.19" r="4.8" fill="#0556d6"/>
<circle cx="1376.41" cy="628.68" r="4.8" fill="#0556d6"/>
<circle cx="1383.1" cy="623.53" r="4.8" fill="#c8142a"/>
<circle cx="1393.38" cy="621.27" r="4.8" fill="#0556d6"/>
<circle cx="1400.06" cy="610.17" r="4.8" fill="#0556d6"/>
<circle cx="1410.35" cy="616.85" r="4.8" fill="#0556d6"/>
<circle cx="1427.31" cy="613.05" r="4.8" fill="#0556d6"/>
<circle cx="1362.53" cy="626.11" r="4.8" fill="#0556d6"/>
<circle cx="1359.45" cy="630.22" r="4.8" fill="#0556d6"/>
<circle cx="1338.37" cy="631.76" r="4.8" fill="#0556d6"/>
<circle cx="1332.2" cy="633.3" r="4.8" fill="#0556d6"/>
<circle cx="1396.47" cy="633.82" r="4.8" fill="#0556d6"/>
<circle cx="1406.95" cy="631.56" r="4.8" fill="#0556d6"/>
<circle cx="1385.67" cy="637.42" r="4.8" fill="#0556d6"/>
<circle cx="1382.58" cy="638.96" r="4.8" fill="#0556d6"/>
<circle cx="1335.28" cy="640.5" r="4.8" fill="#c8142a"/>
<circle cx="1341.45" cy="640.5" r="4.8" fill="#c8142a"/>
<circle cx="1348.65" cy="639.99" r="4.8" fill="#0556d6"/>
<circle cx="1362.53" cy="639.99" r="4.8" fill="#0556d6"/>
<circle cx="1400.06" cy="643.59" r="4.8" fill="#c8142a"/>
<circle cx="1403.15" cy="640.5" r="4.8" fill="#0556d6"/>
<circle cx="1427.31" cy="639.47" r="4.8" fill="#0556d6"/>
<circle cx="1437.6" cy="637.93" r="4.8" fill="#0556d6"/>
<circle cx="1352.25" cy="646.16" r="4.8" fill="#c8142a"/>
<circle cx="1363.05" cy="650.27" r="4.8" fill="#c8142a"/>
<circle cx="1366.65" cy="648.21" r="4.8" fill="#c8142a"/>
<circle cx="1332.2" cy="649.24" r="4.8" fill="#0556d6"/>
<circle cx="1332.2" cy="655.41" r="4.8" fill="#0556d6"/>
<circle cx="1341.45" cy="649.76" r="4.8" fill="#c8142a"/>
<circle cx="1345.57" cy="653.87" r="4.8" fill="#0556d6"/>
<circle cx="1376.41" cy="656.95" r="4.8" fill="#0556d6"/>
<circle cx="1376.41" cy="654.38" r="4.8" fill="#c8142a"/>
<circle cx="1386.49" cy="660.04" r="4.8" fill="#c8142a"/>
<circle cx="1389.78" cy="664.15" r="4.8" fill="#0556d6"/>
<circle cx="1406.95" cy="660.04" r="4.8" fill="#0556d6"/>
<circle cx="1427.31" cy="657.98" r="4.8" fill="#c8142a"/>
<circle cx="1352.76" cy="662.1" r="4.8" fill="#0556d6"/>
<circle cx="1359.45" cy="661.58" r="4.8" fill="#0556d6"/>
<circle cx="1355.85" cy="665.69" r="4.8" fill="#0556d6"/>
<circle cx="1372.81" cy="666.21" r="4.8" fill="#c8142a"/>
<circle cx="1338.37" cy="666.72" r="4.8" fill="#c8142a"/>
<circle cx="1335.28" cy="670.84" r="4.8" fill="#0556d6"/>
<circle cx="1345.57" cy="671.86" r="4.8" fill="#c8142a"/>
<circle cx="1345.57" cy="670.32" r="4.8" fill="#0556d6"/>
<circle cx="1342.48" cy="675.98" r="4.8" fill="#0556d6"/>
<circle cx="1362.53" cy="671.35" r="4.8" fill="#c8142a"/>
<circle cx="1358.93" cy="674.95" r="4.8" fill="#0556d6"/>
<circle cx="1355.85" cy="675.98" r="4.8" fill="#c8142a"/>
<circle cx="1369.22" cy="675.98" r="4.8" fill="#0556d6"/>
<circle cx="1376.41" cy="675.46" r="4.8" fill="#c8142a"/>
<circle cx="1386.49" cy="674.43" r="4.8" fill="#0556d6"/>
<circle cx="1392.87" cy="673.92" r="4.8" fill="#c8142a"/>
<circle cx="1400.06" cy="673.41" r="4.8" fill="#0556d6"/>
<circle cx="1392.87" cy="680.09" r="4.8" fill="#c8142a"/>
<circle cx="1437.6" cy="680.09" r="4.8" fill="#c8142a"/>
<circle cx="1403.15" cy="684.2" r="4.8" fill="#c8142a"/>
<circle cx="1379.5" cy="683.17" r="4.8" fill="#0556d6"/>
<circle cx="1362.53" cy="683.17" r="4.8" fill="#0556d6"/>
<circle cx="1349.16" cy="684.2" r="4.8" fill="#c8142a"/>
<circle cx="1332.2" cy="681.12" r="4.8" fill="#c8142a"/>
<circle cx="1342.48" cy="680.09" r="4.8" fill="#c8142a"/>
<circle cx="1220.28" cy="690.8" r="4.8" fill="#c8142a"/>
<circle cx="1257.61" cy="685.14" r="4.8" fill="#c8142a"/>
<circle cx="1257.61" cy="691.83" r="4.8" fill="#0556d6"/>
<circle cx="1264.5" cy="687.71" r="4.8" fill="#c8142a"/>
<circle cx="1291.23" cy="687.71" r="4.8" fill="#c8142a"/>
<circle cx="1291.23" cy="691.83" r="4.8" fill="#c8142a"/>
<circle cx="1288.15" cy="699.54" r="4.8" fill="#c8142a"/>
<circle cx="1305.12" cy="689.25" r="4.8" fill="#0556d6"/>
<circle cx="1247.53" cy="700.05" r="4.8" fill="#0556d6"/>
<circle cx="1240.64" cy="705.19" r="4.8" fill="#c8142a"/>
<circle cx="1243.93" cy="714.96" r="4.8" fill="#0556d6"/>
<circle cx="1250.93" cy="711.88" r="4.8" fill="#c8142a"/>
<circle cx="1243.93" cy="721.65" r="4.8" fill="#c8142a"/>
<circle cx="1247.53" cy="723.19" r="4.8" fill="#c8142a"/>
<circle cx="1274.58" cy="710.33" r="4.8" fill="#c8142a"/>
<circle cx="1296.38" cy="706.74" r="4.8" fill="#c8142a"/>
<circle cx="1298.43" cy="714.96" r="4.8" fill="#c8142a"/>
<circle cx="1294.83" cy="719.59" r="4.8" fill="#c8142a"/>
<circle cx="1305.63" cy="704.68" r="4.8" fill="#c8142a"/>
<circle cx="1311.29" cy="699.54" r="4.8" fill="#c8142a"/>
<circle cx="1317.97" cy="705.71" r="4.8" fill="#c8142a"/>
<circle cx="1319" cy="709.31" r="4.8" fill="#c8142a"/>
<circle cx="1317.46" cy="696.45" r="4.8" fill="#0556d6"/>
<circle cx="1324.65" cy="700.05" r="4.8" fill="#0556d6"/>
<circle cx="1322.08" cy="690.28" r="4.8" fill="#c8142a"/>
<circle cx="1328.25" cy="700.57" r="4.8" fill="#c8142a"/>
<circle cx="1308.51" cy="722.16" r="4.8" fill="#0556d6"/>
<circle cx="1311.8" cy="725.76" r="4.8" fill="#c8142a"/>
<circle cx="1322.08" cy="721.13" r="4.8" fill="#c8142a"/>
<circle cx="1318.48" cy="730.9" r="4.8" fill="#c8142a"/>
<circle cx="1328.25" cy="715.99" r="4.8" fill="#c8142a"/>
<circle cx="1328.25" cy="730.39" r="4.8" fill="#c8142a"/>
<circle cx="1257.61" cy="729.87" r="4.8" fill="#c8142a"/>
<circle cx="1257.61" cy="734.5" r="4.8" fill="#c8142a"/>
<circle cx="1233.86" cy="736.04" r="4.8" fill="#c8142a"/>
<circle cx="1240.64" cy="739.95" r="4.8" fill="#0556d6"/>
<circle cx="1243.93" cy="753.01" r="4.8" fill="#c8142a"/>
<circle cx="1288.15" cy="746.12" r="4.8" fill="#c8142a"/>
<circle cx="1305.12" cy="749.92" r="4.8" fill="#c8142a"/>
<circle cx="1322.08" cy="743.75" r="4.8" fill="#c8142a"/>
<circle cx="1322.08" cy="749.92" r="4.8" fill="#c8142a"/>
<circle cx="1278.07" cy="768.23" r="4.8" fill="#c8142a"/>
<circle cx="1305.12" cy="768.43" r="4.8" fill="#c8142a"/>
<circle cx="1294.83" cy="779.54" r="4.8" fill="#c8142a"/>
<circle cx="1291.44" cy="790.54" r="4.8" fill="#0556d6"/>
<circle cx="1291.44" cy="825.81" r="4.8" fill="#c8142a"/>
<circle cx="1335.28" cy="688.23" r="4.8" fill="#c8142a"/>
<circle cx="1335.28" cy="694.4" r="4.8" fill="#0556d6"/>
<circle cx="1332.2" cy="701.08" r="4.8" fill="#c8142a"/>
<circle cx="1341.97" cy="702.11" r="4.8" fill="#c8142a"/>
<circle cx="1348.65" cy="688.23" r="4.8" fill="#c8142a"/>
<circle cx="1348.65" cy="691.31" r="4.8" fill="#c8142a"/>
<circle cx="1355.85" cy="690.28" r="4.8" fill="#c8142a"/>
<circle cx="1362.53" cy="695.42" r="4.8" fill="#0556d6"/>
<circle cx="1370.24" cy="692.85" r="4.8" fill="#c8142a"/>
<circle cx="1373.33" cy="692.85" r="4.8" fill="#c8142a"/>
<circle cx="1379.5" cy="696.45" r="4.8" fill="#c8142a"/>
<circle cx="1386.49" cy="694.4" r="4.8" fill="#c8142a"/>
<circle cx="1392.87" cy="692.34" r="4.8" fill="#0556d6"/>
<circle cx="1396.47" cy="694.4" r="4.8" fill="#c8142a"/>
<circle cx="1406.75" cy="693.88" r="4.8" fill="#c8142a"/>
<circle cx="1403.66" cy="685.14" r="4.8" fill="#c8142a"/>
<circle cx="1355.85" cy="703.65" r="4.8" fill="#c8142a"/>
<circle cx="1358.93" cy="704.68" r="4.8" fill="#c8142a"/>
<circle cx="1362.53" cy="706.22" r="4.8" fill="#c8142a"/>
<circle cx="1332.2" cy="710.85" r="4.8" fill="#c8142a"/>
<circle cx="1351.74" cy="711.88" r="4.8" fill="#c8142a"/>
<circle cx="1355.85" cy="713.93" r="4.8" fill="#0556d6"/>
<circle cx="1345.57" cy="719.07" r="4.8" fill="#c8142a"/>
<circle cx="1349.16" cy="721.65" r="4.8" fill="#0556d6"/>
<circle cx="1345.57" cy="727.3" r="4.8" fill="#0556d6"/>
<circle cx="1366.13" cy="727.3" r="4.8" fill="#0556d6"/>
<circle cx="1386.49" cy="710.33" r="4.8" fill="#c8142a"/>
<circle cx="1386.49" cy="717.02" r="4.8" fill="#c8142a"/>
<circle cx="1386.49" cy="720.1" r="4.8" fill="#0556d6"/>
<circle cx="1386.49" cy="727.81" r="4.8" fill="#0556d6"/>
<circle cx="1383.1" cy="732.44" r="4.8" fill="#c8142a"/>
<circle cx="1400.06" cy="708.79" r="4.8" fill="#c8142a"/>
<circle cx="1407.26" cy="724.22" r="4.8" fill="#c8142a"/>
<circle cx="1410.35" cy="723.7" r="4.8" fill="#c8142a"/>
<circle cx="1406.75" cy="733.98" r="4.8" fill="#c8142a"/>
<circle cx="1406.75" cy="732.44" r="4.8" fill="#0556d6"/>
<circle cx="1427.31" cy="728.33" r="4.8" fill="#c8142a"/>
<circle cx="1332.2" cy="727.3" r="4.8" fill="#c8142a"/>
<circle cx="1332.2" cy="730.39" r="4.8" fill="#0556d6"/>
<circle cx="1335.28" cy="739.64" r="4.8" fill="#c8142a"/>
<circle cx="1345.57" cy="738.1" r="4.8" fill="#c8142a"/>
<circle cx="1349.16" cy="740.15" r="4.8" fill="#c8142a"/>
<circle cx="1389.78" cy="743.24" r="4.8" fill="#c8142a"/>
<circle cx="1393.38" cy="745.3" r="4.8" fill="#c8142a"/>
<circle cx="1359.45" cy="745.81" r="4.8" fill="#c8142a"/>
<circle cx="1359.45" cy="751.98" r="4.8" fill="#c8142a"/>
<circle cx="1413.64" cy="750.95" r="4.8" fill="#c8142a"/>
<circle cx="1413.64" cy="765.35" r="4.8" fill="#0556d6"/>
<circle cx="1345.57" cy="756.09" r="4.8" fill="#c8142a"/>
<circle cx="1362.53" cy="762.78" r="4.8" fill="#c8142a"/>
<circle cx="1342.48" cy="773.57" r="4.8" fill="#c8142a"/>
<circle cx="1400.06" cy="787.97" r="4.8" fill="#c8142a"/>
<circle cx="1386.49" cy="799.07" r="4.8" fill="#c8142a"/>
<circle cx="1366.13" cy="804.94" r="4.8" fill="#c8142a"/>
<circle cx="929.04" cy="1060.67" r="4.8" fill="#c8142a"/>
<circle cx="929.04" cy="1116.38" r="4.8" fill="#0556d6"/>
<circle cx="979.58" cy="1020.01" r="4.8" fill="#0556d6"/>
<circle cx="979.58" cy="1046.74" r="4.8" fill="#c8142a"/>
<circle cx="996.65" cy="947" r="4.8" fill="#0556d6"/>
<circle cx="996.65" cy="983.62" r="4.8" fill="#c8142a"/>
<circle cx="1006.76" cy="1091.67" r="4.8" fill="#0556d6"/>
<circle cx="1006.76" cy="1148.28" r="4.8" fill="#c8142a"/>
<circle cx="993.28" cy="1143.78" r="4.8" fill="#0556d6"/>
<circle cx="993.28" cy="1205.11" r="4.8" fill="#c8142a"/>
<circle cx="1050.79" cy="1092.34" r="4.8" fill="#0556d6"/>
<circle cx="1050.79" cy="1105.14" r="4.8" fill="#c8142a"/>
<circle cx="1061.12" cy="1084.93" r="4.8" fill="#0556d6"/>
<circle cx="1061.12" cy="1104.02" r="4.8" fill="#c8142a"/>
<circle cx="1101.56" cy="1051.68" r="4.8" fill="#0556d6"/>
<circle cx="1101.56" cy="1096.83" r="4.8" fill="#c8142a"/>
<circle cx="1138.85" cy="1114.58" r="4.8" fill="#c8142a"/>
<circle cx="1138.85" cy="1125.36" r="4.8" fill="#0556d6"/>
<circle cx="1169.62" cy="1008.33" r="4.8" fill="#0556d6"/>
<circle cx="1169.62" cy="1102.9" r="4.8" fill="#c8142a"/>
<circle cx="1179.51" cy="1013.04" r="4.8" fill="#c8142a"/>
<circle cx="1189.62" cy="1020.91" r="4.8" fill="#c8142a"/>
<circle cx="1189.62" cy="971.71" r="4.8" fill="#0556d6"/>
<circle cx="1212.75" cy="974.86" r="4.8" fill="#c8142a"/>
<circle cx="1212.75" cy="988.78" r="4.8" fill="#0556d6"/>
<circle cx="1240.64" cy="920.51" r="4.8" fill="#c8142a"/>
<circle cx="1240.64" cy="939.54" r="4.8" fill="#0556d6"/>
<circle cx="1294.83" cy="935.42" r="4.8" fill="#c8142a"/>
<circle cx="1298.23" cy="929.56" r="4.8" fill="#0556d6"/>
<circle cx="1305.12" cy="943.65" r="4.8" fill="#0556d6"/>
<circle cx="1281.26" cy="949.61" r="4.8" fill="#0556d6"/>
<circle cx="1294.83" cy="954.65" r="4.8" fill="#0556d6"/>
<circle cx="1305.12" cy="953.93" r="4.8" fill="#0556d6"/>
<circle cx="1308.51" cy="952.39" r="4.8" fill="#0556d6"/>
<circle cx="1213.6" cy="974.5" r="4.8" fill="#c8142a"/>
<circle cx="1213.6" cy="988.69" r="4.8" fill="#0556d6"/>
<circle cx="1271.18" cy="968.33" r="4.8" fill="#0556d6"/>
<circle cx="1277.87" cy="970.39" r="4.8" fill="#0556d6"/>
<circle cx="1280.95" cy="972.44" r="4.8" fill="#c8142a"/>
<circle cx="1286.61" cy="971.41" r="4.8" fill="#0556d6"/>
<circle cx="1291.23" cy="967.3" r="4.8" fill="#c8142a"/>
<circle cx="1291.23" cy="979.13" r="4.8" fill="#0556d6"/>
<circle cx="1291.23" cy="976.04" r="4.8" fill="#c8142a"/>
<circle cx="1308.51" cy="967.3" r="4.8" fill="#c8142a"/>
<circle cx="1311.8" cy="964.22" r="4.8" fill="#0556d6"/>
<circle cx="1264.5" cy="978.1" r="4.8" fill="#0556d6"/>
<circle cx="1257.61" cy="985.81" r="4.8" fill="#0556d6"/>
<circle cx="1257.61" cy="990.95" r="4.8" fill="#0556d6"/>
<circle cx="1264.5" cy="990.44" r="4.8" fill="#0556d6"/>
<circle cx="1311.8" cy="982.72" r="4.8" fill="#0556d6"/>
<circle cx="1311.8" cy="979.64" r="4.8" fill="#c8142a"/>
<circle cx="1311.8" cy="988.89" r="4.8" fill="#0556d6"/>
<circle cx="1318.69" cy="994.55" r="4.8" fill="#0556d6"/>
<circle cx="1294.83" cy="991.98" r="4.8" fill="#0556d6"/>
<circle cx="1250.93" cy="1001.95" r="4.8" fill="#0556d6"/>
<circle cx="1233.86" cy="1008.43" r="4.8" fill="#0556d6"/>
<circle cx="1233.86" cy="1004.83" r="4.8" fill="#c8142a"/>
<circle cx="1271.18" cy="1004.83" r="4.8" fill="#c8142a"/>
<circle cx="1277.87" cy="1005.86" r="4.8" fill="#0556d6"/>
<circle cx="1291.23" cy="1006.89" r="4.8" fill="#c8142a"/>
<circle cx="1298.23" cy="1000.21" r="4.8" fill="#0556d6"/>
<circle cx="1298.23" cy="1009.46" r="4.8" fill="#0556d6"/>
<circle cx="1305.12" cy="1005.86" r="4.8" fill="#c8142a"/>
<circle cx="1305.12" cy="1013.57" r="4.8" fill="#0556d6"/>
<circle cx="1311.8" cy="1003.29" r="4.8" fill="#0556d6"/>
<circle cx="1322.08" cy="1009.97" r="4.8" fill="#0556d6"/>
<circle cx="1311.8" cy="1015.12" r="4.8" fill="#c8142a"/>
<circle cx="1329.28" cy="1017.17" r="4.8" fill="#c8142a"/>
<circle cx="1329.28" cy="1023.86" r="4.8" fill="#c8142a"/>
<circle cx="1240.64" cy="1020.26" r="4.8" fill="#c8142a"/>
<circle cx="1243.93" cy="1021.8" r="4.8" fill="#0556d6"/>
<circle cx="1250.93" cy="1019.23" r="4.8" fill="#0556d6"/>
<circle cx="1264.5" cy="1021.8" r="4.8" fill="#c8142a"/>
<circle cx="1264.5" cy="1025.91" r="4.8" fill="#0556d6"/>
<circle cx="1250.93" cy="1029" r="4.8" fill="#0556d6"/>
<circle cx="1264.5" cy="1032.08" r="4.8" fill="#c8142a"/>
<circle cx="1267.58" cy="1029" r="4.8" fill="#0556d6"/>
<circle cx="1274.27" cy="1032.08" r="4.8" fill="#0556d6"/>
<circle cx="1277.87" cy="1037.74" r="4.8" fill="#c8142a"/>
<circle cx="1274.27" cy="1038.25" r="4.8" fill="#c8142a"/>
<circle cx="1277.87" cy="1020.26" r="4.8" fill="#0556d6"/>
<circle cx="1280.95" cy="1017.17" r="4.8" fill="#c8142a"/>
<circle cx="1291.23" cy="1024.88" r="4.8" fill="#0556d6"/>
<circle cx="1294.83" cy="1024.37" r="4.8" fill="#c8142a"/>
<circle cx="1305.12" cy="1022.83" r="4.8" fill="#c8142a"/>
<circle cx="1308.71" cy="1030.54" r="4.8" fill="#c8142a"/>
<circle cx="1312.83" cy="1033.11" r="4.8" fill="#c8142a"/>
<circle cx="1240.64" cy="1039.79" r="4.8" fill="#0556d6"/>
<circle cx="1243.93" cy="1033.62" r="4.8" fill="#0556d6"/>
<circle cx="1243.93" cy="1039.28" r="4.8" fill="#c8142a"/>
<circle cx="1318.69" cy="1028.48" r="4.8" fill="#0556d6"/>
<circle cx="1322.08" cy="1036.2" r="4.8" fill="#c8142a"/>
<circle cx="1327.22" cy="1036.2" r="4.8" fill="#0556d6"/>
<circle cx="1298.23" cy="1033.11" r="4.8" fill="#c8142a"/>
<circle cx="1294.83" cy="1035.68" r="4.8" fill="#0556d6"/>
<circle cx="1305.12" cy="1037.22" r="4.8" fill="#0556d6"/>
<circle cx="1298.23" cy="1039.28" r="4.8" fill="#c8142a"/>
<circle cx="1305.12" cy="1045.45" r="4.8" fill="#0556d6"/>
<circle cx="1298.23" cy="1042.37" r="4.8" fill="#c8142a"/>
<circle cx="1291.23" cy="1046.99" r="4.8" fill="#0556d6"/>
<circle cx="1264.5" cy="1044.42" r="4.8" fill="#c8142a"/>
<circle cx="1325.17" cy="1048.53" r="4.8" fill="#0556d6"/>
<circle cx="1322.08" cy="1053.68" r="4.8" fill="#c8142a"/>
<circle cx="1311.8" cy="1055.73" r="4.8" fill="#c8142a"/>
<circle cx="1319" cy="1054.7" r="4.8" fill="#0556d6"/>
<circle cx="1264.5" cy="1058.3" r="4.8" fill="#0556d6"/>
<circle cx="1264.5" cy="1054.7" r="4.8" fill="#c8142a"/>
<circle cx="1257.61" cy="1058.3" r="4.8" fill="#c8142a"/>
<circle cx="1220.28" cy="1060.87" r="4.8" fill="#0556d6"/>
<circle cx="1243.93" cy="1060.36" r="4.8" fill="#c8142a"/>
<circle cx="1250.93" cy="1064.47" r="4.8" fill="#c8142a"/>
<circle cx="1277.87" cy="1068.59" r="4.8" fill="#c8142a"/>
<circle cx="1291.23" cy="1062.93" r="4.8" fill="#c8142a"/>
<circle cx="1298.23" cy="1064.99" r="4.8" fill="#0556d6"/>
<circle cx="1305.12" cy="1067.04" r="4.8" fill="#c8142a"/>
<circle cx="1311.8" cy="1071.67" r="4.8" fill="#c8142a"/>
<circle cx="1318.69" cy="1069.1" r="4.8" fill="#c8142a"/>
<circle cx="1322.08" cy="1061.9" r="4.8" fill="#c8142a"/>
<circle cx="1294.83" cy="1073.21" r="4.8" fill="#c8142a"/>
<circle cx="1298.23" cy="1073.21" r="4.8" fill="#c8142a"/>
<circle cx="1220.28" cy="1072.19" r="4.8" fill="#c8142a"/>
<circle cx="1243.93" cy="1070.64" r="4.8" fill="#0556d6"/>
<circle cx="1264.5" cy="1076.3" r="4.8" fill="#0556d6"/>
<circle cx="1247.33" cy="1079.9" r="4.8" fill="#0556d6"/>
<circle cx="1220.28" cy="1084.52" r="4.8" fill="#0556d6"/>
<circle cx="1233.86" cy="1084.01" r="4.8" fill="#0556d6"/>
<circle cx="1243.93" cy="1090.69" r="4.8" fill="#c8142a"/>
<circle cx="1250.93" cy="1088.12" r="4.8" fill="#c8142a"/>
<circle cx="1264.5" cy="1087.61" r="4.8" fill="#c8142a"/>
<circle cx="1274.27" cy="1088.64" r="4.8" fill="#c8142a"/>
<circle cx="1277.87" cy="1082.98" r="4.8" fill="#c8142a"/>
<circle cx="1288.15" cy="1085.55" r="4.8" fill="#c8142a"/>
<circle cx="1294.83" cy="1086.58" r="4.8" fill="#0556d6"/>
<circle cx="1311.8" cy="1086.07" r="4.8" fill="#0556d6"/>
<circle cx="1322.08" cy="1087.1" r="4.8" fill="#0556d6"/>
<circle cx="1328.25" cy="1092.75" r="4.8" fill="#0556d6"/>
<circle cx="1220.28" cy="1101.49" r="4.8" fill="#c8142a"/>
<circle cx="1240.64" cy="1101.49" r="4.8" fill="#0556d6"/>
<circle cx="1250.93" cy="1102.52" r="4.8" fill="#c8142a"/>
<circle cx="1291.23" cy="1103.03" r="4.8" fill="#c8142a"/>
<circle cx="1294.83" cy="1101.49" r="4.8" fill="#c8142a"/>
<circle cx="1314.88" cy="1102.01" r="4.8" fill="#0556d6"/>
<circle cx="1318.69" cy="1102.52" r="4.8" fill="#c8142a"/>
<circle cx="1362.53" cy="942.11" r="4.8" fill="#0556d6"/>
<circle cx="1372.81" cy="954.24" r="4.8" fill="#0556d6"/>
<circle cx="1352.56" cy="975.22" r="4.8" fill="#0556d6"/>
<circle cx="1341.97" cy="985.81" r="4.8" fill="#0556d6"/>
<circle cx="1349.16" cy="984.27" r="4.8" fill="#0556d6"/>
<circle cx="1341.97" cy="993.52" r="4.8" fill="#0556d6"/>
<circle cx="1349.16" cy="990.75" r="4.8" fill="#c8142a"/>
<circle cx="1349.16" cy="998.66" r="4.8" fill="#0556d6"/>
<circle cx="1379.5" cy="979.13" r="4.8" fill="#0556d6"/>
<circle cx="1386.49" cy="980.67" r="4.8" fill="#c8142a"/>
<circle cx="1386.49" cy="994.24" r="4.8" fill="#0556d6"/>
<circle cx="1403.35" cy="991.98" r="4.8" fill="#0556d6"/>
<circle cx="1372.81" cy="1000.21" r="4.8" fill="#0556d6"/>
<circle cx="1383.1" cy="1002.26" r="4.8" fill="#c8142a"/>
<circle cx="1341.97" cy="1004.83" r="4.8" fill="#c8142a"/>
<circle cx="1426.8" cy="1003.29" r="4.8" fill="#0556d6"/>
<circle cx="1400.06" cy="1007.92" r="4.8" fill="#0556d6"/>
<circle cx="1406.75" cy="1011.83" r="4.8" fill="#0556d6"/>
<circle cx="1349.16" cy="1011.83" r="4.8" fill="#c8142a"/>
<circle cx="1349.16" cy="1018.2" r="4.8" fill="#0556d6"/>
<circle cx="1355.85" cy="1017.17" r="4.8" fill="#0556d6"/>
<circle cx="1369.22" cy="1011.52" r="4.8" fill="#0556d6"/>
<circle cx="1372.81" cy="1014.09" r="4.8" fill="#c8142a"/>
<circle cx="1372.81" cy="1020.26" r="4.8" fill="#c8142a"/>
<circle cx="1375.9" cy="1024.37" r="4.8" fill="#0556d6"/>
<circle cx="1379.5" cy="1021.29" r="4.8" fill="#c8142a"/>
<circle cx="1383.1" cy="1020.77" r="4.8" fill="#0556d6"/>
<circle cx="1392.87" cy="1015.94" r="4.8" fill="#0556d6"/>
<circle cx="1400.06" cy="1019.74" r="4.8" fill="#c8142a"/>
<circle cx="1403.15" cy="1027.97" r="4.8" fill="#c8142a"/>
<circle cx="1332.2" cy="1016.66" r="4.8" fill="#c8142a"/>
<circle cx="1332.2" cy="1023.86" r="4.8" fill="#c8142a"/>
<circle cx="1362.53" cy="1025.4" r="4.8" fill="#c8142a"/>
<circle cx="1349.16" cy="1025.91" r="4.8" fill="#0556d6"/>
<circle cx="1349.16" cy="1030.03" r="4.8" fill="#0556d6"/>
<circle cx="1352.25" cy="1029.51" r="4.8" fill="#c8142a"/>
<circle cx="1329.11" cy="1036.2" r="4.8" fill="#0556d6"/>
<circle cx="1332.2" cy="1044.42" r="4.8" fill="#0556d6"/>
<circle cx="1341.97" cy="1038.77" r="4.8" fill="#c8142a"/>
<circle cx="1345.57" cy="1043.39" r="4.8" fill="#0556d6"/>
<circle cx="1352.25" cy="1038.25" r="4.8" fill="#0556d6"/>
<circle cx="1352.25" cy="1042.88" r="4.8" fill="#c8142a"/>
<circle cx="1359.45" cy="1045.96" r="4.8" fill="#0556d6"/>
<circle cx="1376.11" cy="1042.16" r="4.8" fill="#c8142a"/>
<circle cx="1410.04" cy="1044.94" r="4.8" fill="#0556d6"/>
<circle cx="1437.08" cy="1036.2" r="4.8" fill="#0556d6"/>
<circle cx="1437.08" cy="1044.94" r="4.8" fill="#c8142a"/>
<circle cx="1355.85" cy="1054.7" r="4.8" fill="#c8142a"/>
<circle cx="1349.16" cy="1056.76" r="4.8" fill="#c8142a"/>
<circle cx="1332.2" cy="1057.79" r="4.8" fill="#0556d6"/>
<circle cx="1372.81" cy="1055.22" r="4.8" fill="#c8142a"/>
<circle cx="1376.11" cy="1061.39" r="4.8" fill="#0556d6"/>
<circle cx="1383.1" cy="1060.36" r="4.8" fill="#0556d6"/>
<circle cx="1392.87" cy="1058.3" r="4.8" fill="#0556d6"/>
<circle cx="1392.87" cy="1066.02" r="4.8" fill="#c8142a"/>
<circle cx="1392.87" cy="1061.9" r="4.8" fill="#0556d6"/>
<circle cx="1386.18" cy="1066.02" r="4.8" fill="#0556d6"/>
<circle cx="1332.2" cy="1063.44" r="4.8" fill="#c8142a"/>
<circle cx="1332.2" cy="1068.59" r="4.8" fill="#0556d6"/>
<circle cx="1341.97" cy="1064.99" r="4.8" fill="#c8142a"/>
<circle cx="1345.57" cy="1071.16" r="4.8" fill="#c8142a"/>
<circle cx="1352.25" cy="1064.99" r="4.8" fill="#c8142a"/>
<circle cx="1355.85" cy="1068.07" r="4.8" fill="#0556d6"/>
<circle cx="1372.81" cy="1069.61" r="4.8" fill="#0556d6"/>
<circle cx="1379.5" cy="1074.76" r="4.8" fill="#0556d6"/>
<circle cx="1383.1" cy="1077.33" r="4.8" fill="#c8142a"/>
<circle cx="1389.78" cy="1074.76" r="4.8" fill="#c8142a"/>
<circle cx="1332.2" cy="1076.3" r="4.8" fill="#c8142a"/>
<circle cx="1345.57" cy="1079.38" r="4.8" fill="#0556d6"/>
<circle cx="1349.68" cy="1078.87" r="4.8" fill="#0556d6"/>
<circle cx="1366.13" cy="1076.3" r="4.8" fill="#0556d6"/>
<circle cx="1369.22" cy="1078.35" r="4.8" fill="#c8142a"/>
<circle cx="1358.93" cy="1080.41" r="4.8" fill="#c8142a"/>
<circle cx="1400.06" cy="1088.64" r="4.8" fill="#c8142a"/>
<circle cx="1400.06" cy="1083.5" r="4.8" fill="#0556d6"/>
<circle cx="1406.75" cy="1081.95" r="4.8" fill="#0556d6"/>
<circle cx="1400.06" cy="1086.58" r="4.8" fill="#0556d6"/>
<circle cx="1426.8" cy="1078.87" r="4.8" fill="#c8142a"/>
<circle cx="1341.97" cy="1084.52" r="4.8" fill="#c8142a"/>
<circle cx="1358.93" cy="1084.52" r="4.8" fill="#0556d6"/>
<circle cx="1358.93" cy="1090.69" r="4.8" fill="#0556d6"/>
<circle cx="1366.13" cy="1093.78" r="4.8" fill="#0556d6"/>
<circle cx="1386.49" cy="1090.69" r="4.8" fill="#0556d6"/>
<circle cx="1379.5" cy="1095.84" r="4.8" fill="#c8142a"/>
<circle cx="1376.11" cy="1099.43" r="4.8" fill="#c8142a"/>
<circle cx="1426.8" cy="1093.78" r="4.8" fill="#0556d6"/>
<circle cx="1332.2" cy="1093.78" r="4.8" fill="#0556d6"/>
<circle cx="1342.48" cy="1094.81" r="4.8" fill="#0556d6"/>
<circle cx="1345.57" cy="1092.75" r="4.8" fill="#0556d6"/>
<circle cx="1355.85" cy="1098.92" r="4.8" fill="#c8142a"/>
<circle cx="1335.28" cy="1103.03" r="4.8" fill="#c8142a"/>
<circle cx="1345.57" cy="1105.09" r="4.8" fill="#c8142a"/>
<circle cx="1362.53" cy="1104.06" r="4.8" fill="#c8142a"/>
<circle cx="1392.87" cy="1105.09" r="4.8" fill="#c8142a"/>
<circle cx="1413.43" cy="1104.58" r="4.8" fill="#c8142a"/>
<circle cx="1332.2" cy="1109.2" r="4.8" fill="#0556d6"/>
<circle cx="1247.53" cy="1113.74" r="4.8" fill="#c8142a"/>
<circle cx="1220.28" cy="1131.74" r="4.8" fill="#c8142a"/>
<circle cx="1220.28" cy="1128.14" r="4.8" fill="#0556d6"/>
<circle cx="1257.61" cy="1136.16" r="4.8" fill="#0556d6"/>
<circle cx="1243.93" cy="1140.99" r="4.8" fill="#0556d6"/>
<circle cx="1233.86" cy="1154.87" r="4.8" fill="#c8142a"/>
<circle cx="1240.64" cy="1154.87" r="4.8" fill="#c8142a"/>
<circle cx="1240.64" cy="1150.24" r="4.8" fill="#0556d6"/>
<circle cx="1257.61" cy="1155.39" r="4.8" fill="#c8142a"/>
<circle cx="1257.61" cy="1153.84" r="4.8" fill="#0556d6"/>
<circle cx="1291.44" cy="1125.87" r="4.8" fill="#0556d6"/>
<circle cx="1308.2" cy="1116.83" r="4.8" fill="#0556d6"/>
<circle cx="1311.8" cy="1113.74" r="4.8" fill="#c8142a"/>
<circle cx="1322.08" cy="1114.25" r="4.8" fill="#c8142a"/>
<circle cx="1328.25" cy="1110.66" r="4.8" fill="#0556d6"/>
<circle cx="1314.88" cy="1125.05" r="4.8" fill="#0556d6"/>
<circle cx="1311.29" cy="1130.19" r="4.8" fill="#0556d6"/>
<circle cx="1317.97" cy="1132.25" r="4.8" fill="#c8142a"/>
<circle cx="1321.57" cy="1132.76" r="4.8" fill="#0556d6"/>
<circle cx="1325.17" cy="1133.79" r="4.8" fill="#c8142a"/>
<circle cx="1328.25" cy="1133.79" r="4.8" fill="#0556d6"/>
<circle cx="1328.25" cy="1125.57" r="4.8" fill="#c8142a"/>
<circle cx="1291.44" cy="1151.27" r="4.8" fill="#c8142a"/>
<circle cx="1301.52" cy="1161.56" r="4.8" fill="#0556d6"/>
<circle cx="1305.12" cy="1156.41" r="4.8" fill="#c8142a"/>
<circle cx="1305.12" cy="1160.53" r="4.8" fill="#c8142a"/>
<circle cx="1315.09" cy="1159.29" r="4.8" fill="#c8142a"/>
<circle cx="1328.25" cy="1164.13" r="4.8" fill="#c8142a"/>
<circle cx="1288.15" cy="1174.92" r="4.8" fill="#c8142a"/>
<circle cx="1288.15" cy="1173.38" r="4.8" fill="#0556d6"/>
<circle cx="1257.61" cy="1185.72" r="4.8" fill="#0556d6"/>
<circle cx="1257.61" cy="1184.18" r="4.8" fill="#c8142a"/>
<circle cx="1301.52" cy="1183.66" r="4.8" fill="#c8142a"/>
<circle cx="1240.64" cy="1229.22" r="4.8" fill="#c8142a"/>
<circle cx="1311.8" cy="1237.44" r="4.8" fill="#c8142a"/>
<circle cx="1257.61" cy="1260.06" r="4.8" fill="#c8142a"/>
<circle cx="1332.2" cy="1110.14" r="4.8" fill="#0556d6"/>
<circle cx="1348.65" cy="1109.11" r="4.8" fill="#c8142a"/>
<circle cx="1348.65" cy="1115.28" r="4.8" fill="#c8142a"/>
<circle cx="1331.17" cy="1118.37" r="4.8" fill="#c8142a"/>
<circle cx="1338.88" cy="1118.88" r="4.8" fill="#0556d6"/>
<circle cx="1345.57" cy="1121.45" r="4.8" fill="#0556d6"/>
<circle cx="1331.17" cy="1127.62" r="4.8" fill="#c8142a"/>
<circle cx="1329.11" cy="1133.79" r="4.8" fill="#0556d6"/>
<circle cx="1345.57" cy="1129.16" r="4.8" fill="#c8142a"/>
<circle cx="1358.93" cy="1117.34" r="4.8" fill="#c8142a"/>
<circle cx="1358.93" cy="1120.42" r="4.8" fill="#0556d6"/>
<circle cx="1358.93" cy="1123.51" r="4.8" fill="#c8142a"/>
<circle cx="1362.53" cy="1129.68" r="4.8" fill="#c8142a"/>
<circle cx="1361.5" cy="1112.71" r="4.8" fill="#0556d6"/>
<circle cx="1366.13" cy="1112.2" r="4.8" fill="#c8142a"/>
<circle cx="1392.87" cy="1109.11" r="4.8" fill="#c8142a"/>
<circle cx="1386.49" cy="1125.57" r="4.8" fill="#c8142a"/>
<circle cx="1386.49" cy="1118.88" r="4.8" fill="#0556d6"/>
<circle cx="1406.75" cy="1132.25" r="4.8" fill="#c8142a"/>
<circle cx="1406.75" cy="1130.19" r="4.8" fill="#0556d6"/>
<circle cx="1410.35" cy="1139.45" r="4.8" fill="#c8142a"/>
<circle cx="1406.75" cy="1143.56" r="4.8" fill="#c8142a"/>
<circle cx="1413.64" cy="1150.24" r="4.8" fill="#0556d6"/>
<circle cx="1335.28" cy="1156.41" r="4.8" fill="#0556d6"/>
<circle cx="1335.28" cy="1152.3" r="4.8" fill="#c8142a"/>
<circle cx="1362.53" cy="1152.1" r="4.8" fill="#0556d6"/>
<circle cx="1400.06" cy="1157.44" r="4.8" fill="#c8142a"/>
<circle cx="1396.47" cy="1166.18" r="4.8" fill="#c8142a"/>
<circle cx="1426.8" cy="1156.41" r="4.8" fill="#c8142a"/>
<circle cx="1329.11" cy="1164.13" r="4.8" fill="#c8142a"/>
<circle cx="1345.57" cy="1168.75" r="4.8" fill="#c8142a"/>
<circle cx="1338.37" cy="1181.09" r="4.8" fill="#c8142a"/>
<circle cx="1342.48" cy="1180.06" r="4.8" fill="#c8142a"/>
<circle cx="1396.47" cy="1187.06" r="4.8" fill="#0556d6"/>
<circle cx="1355.85" cy="1253.07" r="4.8" fill="#c8142a"/>
<circle cx="1355.85" cy="1251.02" r="4.8" fill="#0556d6"/>
<circle cx="929.04" cy="1464.38" r="4.8" fill="#c8142a"/>
<circle cx="929.04" cy="1586.36" r="4.8" fill="#0556d6"/>
<circle cx="979.58" cy="1413.39" r="4.8" fill="#0556d6"/>
<circle cx="979.58" cy="1525.71" r="4.8" fill="#c8142a"/>
<circle cx="996.65" cy="1401.93" r="4.8" fill="#0556d6"/>
<circle cx="996.65" cy="1451.13" r="4.8" fill="#c8142a"/>
<circle cx="1006.76" cy="1498.75" r="4.8" fill="#0556d6"/>
<circle cx="1006.76" cy="1580.07" r="4.8" fill="#c8142a"/>
<circle cx="993.28" cy="1511.11" r="4.8" fill="#0556d6"/>
<circle cx="993.28" cy="1591.98" r="4.8" fill="#c8142a"/>
<circle cx="1050.79" cy="1553.79" r="4.8" fill="#0556d6"/>
<circle cx="1050.79" cy="1550.87" r="4.8" fill="#c8142a"/>
<circle cx="1061.12" cy="1577.38" r="4.8" fill="#0556d6"/>
<circle cx="1061.12" cy="1633.54" r="4.8" fill="#c8142a"/>
<circle cx="1101.56" cy="1513.13" r="4.8" fill="#c8142a"/>
<circle cx="1101.56" cy="1509.31" r="4.8" fill="#0556d6"/>
<circle cx="1138.85" cy="1518.75" r="4.8" fill="#c8142a"/>
<circle cx="1138.85" cy="1594.22" r="4.8" fill="#0556d6"/>
<circle cx="1169.62" cy="1488.42" r="4.8" fill="#c8142a"/>
<circle cx="1169.62" cy="1552.44" r="4.8" fill="#0556d6"/>
<circle cx="1179.51" cy="1504.37" r="4.8" fill="#0556d6"/>
<circle cx="1179.51" cy="1612.87" r="4.8" fill="#c8142a"/>
<circle cx="1189.62" cy="1469.55" r="4.8" fill="#0556d6"/>
<circle cx="1189.62" cy="1540.76" r="4.8" fill="#c8142a"/>
<circle cx="1212.75" cy="1453.83" r="4.8" fill="#0556d6"/>
<circle cx="1212.75" cy="1505.04" r="4.8" fill="#c8142a"/>
<circle cx="1298.43" cy="1339.56" r="4.8" fill="#c8142a"/>
<circle cx="1240.64" cy="1443.11" r="4.8" fill="#c8142a"/>
<circle cx="1240.64" cy="1435.91" r="4.8" fill="#0556d6"/>
<circle cx="1278.07" cy="1439.82" r="4.8" fill="#0556d6"/>
<circle cx="1318.69" cy="1441.26" r="4.8" fill="#0556d6"/>
<circle cx="1328.25" cy="1435.4" r="4.8" fill="#0556d6"/>
<circle cx="1213.6" cy="1453.91" r="4.8" fill="#0556d6"/>
<circle cx="1233.86" cy="1459.05" r="4.8" fill="#0556d6"/>
<circle cx="1264.5" cy="1463.16" r="4.8" fill="#c8142a"/>
<circle cx="1264.5" cy="1454.94" r="4.8" fill="#0556d6"/>
<circle cx="1278.07" cy="1454.63" r="4.8" fill="#0556d6"/>
<circle cx="1291.44" cy="1458.33" r="4.8" fill="#0556d6"/>
<circle cx="1298.23" cy="1455.45" r="4.8" fill="#0556d6"/>
<circle cx="1305.12" cy="1463.16" r="4.8" fill="#0556d6"/>
<circle cx="1311.8" cy="1464.7" r="4.8" fill="#0556d6"/>
<circle cx="1318.69" cy="1457.3" r="4.8" fill="#0556d6"/>
<circle cx="1240.64" cy="1475.5" r="4.8" fill="#0556d6"/>
<circle cx="1243.93" cy="1471.39" r="4.8" fill="#c8142a"/>
<circle cx="1298.43" cy="1473.96" r="4.8" fill="#c8142a"/>
<circle cx="1298.43" cy="1471.39" r="4.8" fill="#0556d6"/>
<circle cx="1322.08" cy="1472.42" r="4.8" fill="#0556d6"/>
<circle cx="1240.64" cy="1483.21" r="4.8" fill="#c8142a"/>
<circle cx="1240.64" cy="1494.52" r="4.8" fill="#c8142a"/>
<circle cx="1243.93" cy="1489.38" r="4.8" fill="#0556d6"/>
<circle cx="1257.61" cy="1486.3" r="4.8" fill="#c8142a"/>
<circle cx="1298.23" cy="1486.81" r="4.8" fill="#0556d6"/>
<circle cx="1281.47" cy="1494.52" r="4.8" fill="#c8142a"/>
<circle cx="1291.44" cy="1495.04" r="4.8" fill="#0556d6"/>
<circle cx="1308.2" cy="1494.01" r="4.8" fill="#c8142a"/>
<circle cx="1311.8" cy="1494.52" r="4.8" fill="#0556d6"/>
<circle cx="1311.8" cy="1491.44" r="4.8" fill="#c8142a"/>
<circle cx="1318.69" cy="1498.64" r="4.8" fill="#c8142a"/>
<circle cx="1271.18" cy="1500.18" r="4.8" fill="#0556d6"/>
<circle cx="1257.61" cy="1500.69" r="4.8" fill="#0556d6"/>
<circle cx="1257.61" cy="1504.81" r="4.8" fill="#c8142a"/>
<circle cx="1257.61" cy="1507.89" r="4.8" fill="#0556d6"/>
<circle cx="1213.6" cy="1504.81" r="4.8" fill="#c8142a"/>
<circle cx="1247.53" cy="1509.43" r="4.8" fill="#c8142a"/>
<circle cx="1250.93" cy="1516.63" r="4.8" fill="#c8142a"/>
<circle cx="1240.64" cy="1516.12" r="4.8" fill="#0556d6"/>
<circle cx="1294.83" cy="1502.75" r="4.8" fill="#c8142a"/>
<circle cx="1298.43" cy="1506.86" r="4.8" fill="#c8142a"/>
<circle cx="1291.23" cy="1509.95" r="4.8" fill="#c8142a"/>
<circle cx="1291.23" cy="1516.12" r="4.8" fill="#c8142a"/>
<circle cx="1301.52" cy="1512.01" r="4.8" fill="#0556d6"/>
<circle cx="1305.12" cy="1510.98" r="4.8" fill="#c8142a"/>
<circle cx="1308.71" cy="1512.01" r="4.8" fill="#c8142a"/>
<circle cx="1322.08" cy="1510.98" r="4.8" fill="#0556d6"/>
<circle cx="1322.08" cy="1515.09" r="4.8" fill="#0556d6"/>
<circle cx="1305.12" cy="1517.15" r="4.8" fill="#0556d6"/>
<circle cx="1314.88" cy="1519.2" r="4.8" fill="#c8142a"/>
<circle cx="1271.18" cy="1519.2" r="4.8" fill="#c8142a"/>
<circle cx="1349.16" cy="1419.25" r="4.8" fill="#0556d6"/>
<circle cx="1362.84" cy="1417.2" r="4.8" fill="#c8142a"/>
<circle cx="1406.95" cy="1441.05" r="4.8" fill="#0556d6"/>
<circle cx="1413.64" cy="1459.36" r="4.8" fill="#c8142a"/>
<circle cx="1362.84" cy="1464.7" r="4.8" fill="#0556d6"/>
<circle cx="1349.16" cy="1471.9" r="4.8" fill="#c8142a"/>
<circle cx="1342.48" cy="1477.25" r="4.8" fill="#0556d6"/>
<circle cx="1349.16" cy="1479.1" r="4.8" fill="#0556d6"/>
<circle cx="1342.48" cy="1486.5" r="4.8" fill="#c8142a"/>
<circle cx="1349.16" cy="1487.12" r="4.8" fill="#c8142a"/>
<circle cx="1379.5" cy="1484.24" r="4.8" fill="#0556d6"/>
<circle cx="1372.81" cy="1499.15" r="4.8" fill="#0556d6"/>
<circle cx="1372.81" cy="1504.81" r="4.8" fill="#0556d6"/>
<circle cx="1342.48" cy="1509.43" r="4.8" fill="#c8142a"/>
<circle cx="1349.16" cy="1508.92" r="4.8" fill="#c8142a"/>
<circle cx="1342.48" cy="1504.29" r="4.8" fill="#0556d6"/>
<circle cx="1349.16" cy="1504.29" r="4.8" fill="#0556d6"/>
<circle cx="1362.84" cy="1508.71" r="4.8" fill="#0556d6"/>
<circle cx="1386.49" cy="1512.01" r="4.8" fill="#0556d6"/>
<circle cx="1396.67" cy="1510.26" r="4.8" fill="#0556d6"/>
<circle cx="1335.28" cy="1514.58" r="4.8" fill="#0556d6"/>
<circle cx="1345.57" cy="1517.15" r="4.8" fill="#0556d6"/>
<circle cx="1349.16" cy="1519.2" r="4.8" fill="#c8142a"/>
<circle cx="1372.81" cy="1519.2" r="4.8" fill="#c8142a"/>
<circle cx="1396.67" cy="1519.2" r="4.8" fill="#c8142a"/>
<circle cx="1271.18" cy="1521.38" r="4.8" fill="#c8142a"/>
<circle cx="1264.5" cy="1525.28" r="4.8" fill="#0556d6"/>
<circle cx="1250.93" cy="1524.77" r="4.8" fill="#0556d6"/>
<circle cx="1220.28" cy="1529.4" r="4.8" fill="#c8142a"/>
<circle cx="1220.28" cy="1537.11" r="4.8" fill="#0556d6"/>
<circle cx="1220.28" cy="1543.79" r="4.8" fill="#c8142a"/>
<circle cx="1220.28" cy="1551.5" r="4.8" fill="#0556d6"/>
<circle cx="1233.86" cy="1541.94" r="4.8" fill="#c8142a"/>
<circle cx="1240.64" cy="1537.11" r="4.8" fill="#c8142a"/>
<circle cx="1257.61" cy="1536.59" r="4.8" fill="#c8142a"/>
<circle cx="1264.5" cy="1536.08" r="4.8" fill="#0556d6"/>
<circle cx="1264.5" cy="1534.02" r="4.8" fill="#c8142a"/>
<circle cx="1288.15" cy="1529.4" r="4.8" fill="#0556d6"/>
<circle cx="1305.12" cy="1531.45" r="4.8" fill="#0556d6"/>
<circle cx="1305.12" cy="1535.57" r="4.8" fill="#0556d6"/>
<circle cx="1311.8" cy="1541.22" r="4.8" fill="#c8142a"/>
<circle cx="1311.8" cy="1522.2" r="4.8" fill="#0556d6"/>
<circle cx="1314.88" cy="1521.17" r="4.8" fill="#c8142a"/>
<circle cx="1322.08" cy="1521.17" r="4.8" fill="#0556d6"/>
<circle cx="1324.14" cy="1527.34" r="4.8" fill="#0556d6"/>
<circle cx="1319" cy="1534.54" r="4.8" fill="#c8142a"/>
<circle cx="1322.08" cy="1538.65" r="4.8" fill="#c8142a"/>
<circle cx="1328.25" cy="1535.57" r="4.8" fill="#c8142a"/>
<circle cx="1243.93" cy="1546.36" r="4.8" fill="#c8142a"/>
<circle cx="1243.93" cy="1549.96" r="4.8" fill="#0556d6"/>
<circle cx="1250.93" cy="1553.56" r="4.8" fill="#0556d6"/>
<circle cx="1257.61" cy="1547.7" r="4.8" fill="#c8142a"/>
<circle cx="1257.61" cy="1560.76" r="4.8" fill="#0556d6"/>
<circle cx="1264.5" cy="1563.33" r="4.8" fill="#0556d6"/>
<circle cx="1243.93" cy="1562.3" r="4.8" fill="#c8142a"/>
<circle cx="1264.5" cy="1571.04" r="4.8" fill="#c8142a"/>
<circle cx="1291.23" cy="1543.79" r="4.8" fill="#c8142a"/>
<circle cx="1294.83" cy="1545.33" r="4.8" fill="#0556d6"/>
<circle cx="1288.15" cy="1553.05" r="4.8" fill="#c8142a"/>
<circle cx="1291.23" cy="1558.19" r="4.8" fill="#c8142a"/>
<circle cx="1298.23" cy="1556.13" r="4.8" fill="#c8142a"/>
<circle cx="1305.12" cy="1550.99" r="4.8" fill="#c8142a"/>
<circle cx="1274.27" cy="1561.27" r="4.8" fill="#c8142a"/>
<circle cx="1277.87" cy="1570.53" r="4.8" fill="#c8142a"/>
<circle cx="1280.95" cy="1568.47" r="4.8" fill="#c8142a"/>
<circle cx="1281.47" cy="1562.81" r="4.8" fill="#0556d6"/>
<circle cx="1291.23" cy="1564.36" r="4.8" fill="#0556d6"/>
<circle cx="1298.23" cy="1564.36" r="4.8" fill="#0556d6"/>
<circle cx="1305.12" cy="1563.84" r="4.8" fill="#c8142a"/>
<circle cx="1311.8" cy="1566.41" r="4.8" fill="#c8142a"/>
<circle cx="1311.8" cy="1577.72" r="4.8" fill="#c8142a"/>
<circle cx="1311.8" cy="1573.61" r="4.8" fill="#0556d6"/>
<circle cx="1328.25" cy="1555.62" r="4.8" fill="#c8142a"/>
<circle cx="1329.28" cy="1548.93" r="4.8" fill="#0556d6"/>
<circle cx="1328.25" cy="1566.41" r="4.8" fill="#0556d6"/>
<circle cx="1328.25" cy="1575.67" r="4.8" fill="#0556d6"/>
<circle cx="1220.28" cy="1574.13" r="4.8" fill="#c8142a"/>
<circle cx="1243.93" cy="1580.81" r="4.8" fill="#0556d6"/>
<circle cx="1247.53" cy="1578.75" r="4.8" fill="#0556d6"/>
<circle cx="1267.58" cy="1580.81" r="4.8" fill="#0556d6"/>
<circle cx="1277.87" cy="1580.3" r="4.8" fill="#0556d6"/>
<circle cx="1277.87" cy="1587.49" r="4.8" fill="#c8142a"/>
<circle cx="1288.15" cy="1580.81" r="4.8" fill="#0556d6"/>
<circle cx="1294.83" cy="1582.35" r="4.8" fill="#0556d6"/>
<circle cx="1301.52" cy="1580.81" r="4.8" fill="#c8142a"/>
<circle cx="1308.2" cy="1580.81" r="4.8" fill="#0556d6"/>
<circle cx="1311.8" cy="1591.61" r="4.8" fill="#c8142a"/>
<circle cx="1315.4" cy="1587.49" r="4.8" fill="#0556d6"/>
<circle cx="1322.08" cy="1590.58" r="4.8" fill="#0556d6"/>
<circle cx="1294.83" cy="1597.26" r="4.8" fill="#c8142a"/>
<circle cx="1298.23" cy="1596.75" r="4.8" fill="#0556d6"/>
<circle cx="1305.12" cy="1598.29" r="4.8" fill="#c8142a"/>
<circle cx="1315.4" cy="1597.26" r="4.8" fill="#0556d6"/>
<circle cx="1325.68" cy="1597.26" r="4.8" fill="#c8142a"/>
<circle cx="1315.4" cy="1608.06" r="4.8" fill="#c8142a"/>
<circle cx="1322.08" cy="1604.46" r="4.8" fill="#c8142a"/>
<circle cx="1220.28" cy="1603.64" r="4.8" fill="#0556d6"/>
<circle cx="1233.86" cy="1616.29" r="4.8" fill="#0556d6"/>
<circle cx="1233.86" cy="1610.63" r="4.8" fill="#c8142a"/>
<circle cx="1257.61" cy="1614.74" r="4.8" fill="#0556d6"/>
<circle cx="1257.61" cy="1612.69" r="4.8" fill="#c8142a"/>
<circle cx="1264.5" cy="1611.66" r="4.8" fill="#c8142a"/>
<circle cx="1274.58" cy="1616.8" r="4.8" fill="#c8142a"/>
<circle cx="1274.58" cy="1611.14" r="4.8" fill="#0556d6"/>
<circle cx="1264.5" cy="1623.48" r="4.8" fill="#c8142a"/>
<circle cx="1291.23" cy="1609.6" r="4.8" fill="#c8142a"/>
<circle cx="1294.83" cy="1608.06" r="4.8" fill="#c8142a"/>
<circle cx="1288.15" cy="1615.77" r="4.8" fill="#c8142a"/>
<circle cx="1291.23" cy="1622.97" r="4.8" fill="#c8142a"/>
<circle cx="1294.83" cy="1624.51" r="4.8" fill="#c8142a"/>
<circle cx="1311.8" cy="1620.91" r="4.8" fill="#0556d6"/>
<circle cx="1318.69" cy="1617.31" r="4.8" fill="#c8142a"/>
<circle cx="1329.28" cy="1615.77" r="4.8" fill="#0556d6"/>
<circle cx="1329.28" cy="1620.91" r="4.8" fill="#c8142a"/>
<circle cx="1291.23" cy="1631.71" r="4.8" fill="#0556d6"/>
<circle cx="1294.83" cy="1630.68" r="4.8" fill="#0556d6"/>
<circle cx="1291.44" cy="1644.05" r="4.8" fill="#0556d6"/>
<circle cx="1318.69" cy="1639.63" r="4.8" fill="#c8142a"/>
<circle cx="1311.8" cy="1646.62" r="4.8" fill="#0556d6"/>
<circle cx="1311.8" cy="1653.82" r="4.8" fill="#c8142a"/>
<circle cx="1318.69" cy="1651.25" r="4.8" fill="#0556d6"/>
<circle cx="1250.93" cy="1651.56" r="4.8" fill="#0556d6"/>
<circle cx="1267.58" cy="1649.19" r="4.8" fill="#c8142a"/>
<circle cx="1250.93" cy="1673.35" r="4.8" fill="#c8142a"/>
<circle cx="1264.5" cy="1674.59" r="4.8" fill="#0556d6"/>
<circle cx="1294.83" cy="1677.26" r="4.8" fill="#0556d6"/>
<circle cx="1274.58" cy="1686.21" r="4.8" fill="#0556d6"/>
<circle cx="1308.51" cy="1688.78" r="4.8" fill="#0556d6"/>
<circle cx="1329.28" cy="1658.96" r="4.8" fill="#c8142a"/>
<circle cx="1329.28" cy="1691.86" r="4.8" fill="#c8142a"/>
<circle cx="1329.28" cy="1635.31" r="4.8" fill="#0556d6"/>
<circle cx="1329.28" cy="1625.03" r="4.8" fill="#0556d6"/>
<circle cx="1335.28" cy="1522.71" r="4.8" fill="#c8142a"/>
<circle cx="1349.16" cy="1521.17" r="4.8" fill="#c8142a"/>
<circle cx="1372.81" cy="1521.68" r="4.8" fill="#c8142a"/>
<circle cx="1396.67" cy="1520.14" r="4.8" fill="#c8142a"/>
<circle cx="1410.14" cy="1525.8" r="4.8" fill="#c8142a"/>
<circle cx="1332.2" cy="1532.99" r="4.8" fill="#0556d6"/>
<circle cx="1329.11" cy="1538.65" r="4.8" fill="#c8142a"/>
<circle cx="1342.48" cy="1540.19" r="4.8" fill="#0556d6"/>
<circle cx="1362.84" cy="1534.02" r="4.8" fill="#0556d6"/>
<circle cx="1386.49" cy="1530.94" r="4.8" fill="#0556d6"/>
<circle cx="1393.38" cy="1535.57" r="4.8" fill="#0556d6"/>
<circle cx="1400.06" cy="1541.22" r="4.8" fill="#0556d6"/>
<circle cx="1393.38" cy="1547.9" r="4.8" fill="#c8142a"/>
<circle cx="1393.38" cy="1544.82" r="4.8" fill="#0556d6"/>
<circle cx="1379.5" cy="1542.76" r="4.8" fill="#c8142a"/>
<circle cx="1355.85" cy="1542.76" r="4.8" fill="#c8142a"/>
<circle cx="1362.84" cy="1550.48" r="4.8" fill="#c8142a"/>
<circle cx="1362.84" cy="1546.88" r="4.8" fill="#0556d6"/>
<circle cx="1332.2" cy="1548.93" r="4.8" fill="#0556d6"/>
<circle cx="1332.2" cy="1554.07" r="4.8" fill="#c8142a"/>
<circle cx="1342.48" cy="1552.02" r="4.8" fill="#c8142a"/>
<circle cx="1345.57" cy="1549.96" r="4.8" fill="#c8142a"/>
<circle cx="1351.22" cy="1548.93" r="4.8" fill="#0556d6"/>
<circle cx="1348.65" cy="1555.1" r="4.8" fill="#0556d6"/>
<circle cx="1355.85" cy="1556.13" r="4.8" fill="#0556d6"/>
<circle cx="1355.85" cy="1560.24" r="4.8" fill="#0556d6"/>
<circle cx="1329.11" cy="1556.13" r="4.8" fill="#c8142a"/>
<circle cx="1389.78" cy="1557.16" r="4.8" fill="#c8142a"/>
<circle cx="1386.7" cy="1561.27" r="4.8" fill="#c8142a"/>
<circle cx="1400.06" cy="1558.19" r="4.8" fill="#c8142a"/>
<circle cx="1379.5" cy="1564.36" r="4.8" fill="#0556d6"/>
<circle cx="1366.13" cy="1566.41" r="4.8" fill="#c8142a"/>
<circle cx="1372.81" cy="1565.39" r="4.8" fill="#c8142a"/>
<circle cx="1406.75" cy="1564.87" r="4.8" fill="#0556d6"/>
<circle cx="1427.31" cy="1573.1" r="4.8" fill="#c8142a"/>
<circle cx="1330.14" cy="1568.47" r="4.8" fill="#0556d6"/>
<circle cx="1331.17" cy="1574.64" r="4.8" fill="#c8142a"/>
<circle cx="1335.28" cy="1577.72" r="4.8" fill="#0556d6"/>
<circle cx="1342.48" cy="1575.67" r="4.8" fill="#c8142a"/>
<circle cx="1345.57" cy="1575.67" r="4.8" fill="#0556d6"/>
<circle cx="1352.56" cy="1577.72" r="4.8" fill="#0556d6"/>
<circle cx="1342.48" cy="1584.41" r="4.8" fill="#0556d6"/>
<circle cx="1393.38" cy="1575.67" r="4.8" fill="#c8142a"/>
<circle cx="1400.06" cy="1576.7" r="4.8" fill="#c8142a"/>
<circle cx="1406.75" cy="1573.1" r="4.8" fill="#c8142a"/>
<circle cx="1400.06" cy="1580.81" r="4.8" fill="#c8142a"/>
<circle cx="1406.75" cy="1585.95" r="4.8" fill="#c8142a"/>
<circle cx="1413.64" cy="1583.38" r="4.8" fill="#0556d6"/>
<circle cx="1400.06" cy="1588.01" r="4.8" fill="#0556d6"/>
<circle cx="1400.06" cy="1594.18" r="4.8" fill="#0556d6"/>
<circle cx="1406.75" cy="1593.15" r="4.8" fill="#0556d6"/>
<circle cx="1427.31" cy="1592.63" r="4.8" fill="#0556d6"/>
<circle cx="1379.5" cy="1583.89" r="4.8" fill="#c8142a"/>
<circle cx="1355.85" cy="1591.09" r="4.8" fill="#c8142a"/>
<circle cx="1359.45" cy="1588.83" r="4.8" fill="#0556d6"/>
<circle cx="1372.81" cy="1590.06" r="4.8" fill="#c8142a"/>
<circle cx="1386.7" cy="1589.55" r="4.8" fill="#c8142a"/>
<circle cx="1383.1" cy="1594.69" r="4.8" fill="#c8142a"/>
<circle cx="1338.37" cy="1596.75" r="4.8" fill="#c8142a"/>
<circle cx="1345.57" cy="1595.72" r="4.8" fill="#0556d6"/>
<circle cx="1349.68" cy="1597.26" r="4.8" fill="#0556d6"/>
<circle cx="1332.2" cy="1603.95" r="4.8" fill="#c8142a"/>
<circle cx="1348.65" cy="1603.43" r="4.8" fill="#c8142a"/>
<circle cx="1355.85" cy="1604.97" r="4.8" fill="#0556d6"/>
<circle cx="1362.84" cy="1608.57" r="4.8" fill="#c8142a"/>
<circle cx="1369.22" cy="1610.12" r="4.8" fill="#c8142a"/>
<circle cx="1376.11" cy="1601.38" r="4.8" fill="#c8142a"/>
<circle cx="1376.11" cy="1606" r="4.8" fill="#c8142a"/>
<circle cx="1383.1" cy="1613.71" r="4.8" fill="#c8142a"/>
<circle cx="1386.49" cy="1608.57" r="4.8" fill="#0556d6"/>
<circle cx="1393.38" cy="1611.14" r="4.8" fill="#c8142a"/>
<circle cx="1403.66" cy="1604.46" r="4.8" fill="#c8142a"/>
<circle cx="1406.75" cy="1612.69" r="4.8" fill="#c8142a"/>
<circle cx="1427.31" cy="1615.77" r="4.8" fill="#c8142a"/>
<circle cx="1345.57" cy="1610.63" r="4.8" fill="#0556d6"/>
<circle cx="1332.2" cy="1613.71" r="4.8" fill="#c8142a"/>
<circle cx="1332.2" cy="1616.8" r="4.8" fill="#0556d6"/>
<circle cx="1332.2" cy="1619.88" r="4.8" fill="#c8142a"/>
<circle cx="1332.2" cy="1625.54" r="4.8" fill="#0556d6"/>
<circle cx="1369.22" cy="1618.86" r="4.8" fill="#0556d6"/>
<circle cx="1352.25" cy="1624.51" r="4.8" fill="#c8142a"/>
<circle cx="1359.45" cy="1621.94" r="4.8" fill="#0556d6"/>
<circle cx="1359.45" cy="1627.6" r="4.8" fill="#0556d6"/>
<circle cx="1352.25" cy="1631.2" r="4.8" fill="#0556d6"/>
<circle cx="1345.57" cy="1632.74" r="4.8" fill="#c8142a"/>
<circle cx="1345.57" cy="1637.37" r="4.8" fill="#c8142a"/>
<circle cx="1359.45" cy="1635.31" r="4.8" fill="#c8142a"/>
<circle cx="1359.45" cy="1640.45" r="4.8" fill="#c8142a"/>
<circle cx="1332.2" cy="1635.31" r="4.8" fill="#0556d6"/>
<circle cx="1386.49" cy="1630.17" r="4.8" fill="#c8142a"/>
<circle cx="1393.38" cy="1628.11" r="4.8" fill="#0556d6"/>
<circle cx="1376.11" cy="1635.31" r="4.8" fill="#0556d6"/>
<circle cx="1372.81" cy="1641.99" r="4.8" fill="#0556d6"/>
<circle cx="1386.49" cy="1645.59" r="4.8" fill="#c8142a"/>
<circle cx="1386.49" cy="1639.42" r="4.8" fill="#0556d6"/>
<circle cx="1389.78" cy="1640.45" r="4.8" fill="#0556d6"/>
<circle cx="1383.1" cy="1650.22" r="4.8" fill="#0556d6"/>
<circle cx="1403.66" cy="1636.34" r="4.8" fill="#0556d6"/>
<circle cx="1410.35" cy="1634.28" r="4.8" fill="#0556d6"/>
<circle cx="1427.31" cy="1635.82" r="4.8" fill="#0556d6"/>
<circle cx="1437.6" cy="1640.66" r="4.8" fill="#c8142a"/>
<circle cx="1437.6" cy="1649.7" r="4.8" fill="#0556d6"/>
<circle cx="1342.48" cy="1650.73" r="4.8" fill="#c8142a"/>
<circle cx="1349.16" cy="1648.37" r="4.8" fill="#0556d6"/>
<circle cx="1355.85" cy="1654.85" r="4.8" fill="#c8142a"/>
<circle cx="1359.45" cy="1656.39" r="4.8" fill="#c8142a"/>
<circle cx="1366.13" cy="1653.3" r="4.8" fill="#0556d6"/>
<circle cx="1332.2" cy="1658.96" r="4.8" fill="#c8142a"/>
<circle cx="1335.28" cy="1661.02" r="4.8" fill="#c8142a"/>
<circle cx="1349.16" cy="1668.21" r="4.8" fill="#0556d6"/>
<circle cx="1349.16" cy="1662.04" r="4.8" fill="#c8142a"/>
<circle cx="1383.1" cy="1666.67" r="4.8" fill="#0556d6"/>
<circle cx="1386.49" cy="1666.67" r="4.8" fill="#c8142a"/>
<circle cx="1359.45" cy="1674.9" r="4.8" fill="#0556d6"/>
<circle cx="1359.45" cy="1670.78" r="4.8" fill="#c8142a"/>
<circle cx="1342.48" cy="1676.44" r="4.8" fill="#0556d6"/>
<circle cx="1366.13" cy="1687.75" r="4.8" fill="#0556d6"/>
<circle cx="1366.13" cy="1683.64" r="4.8" fill="#c8142a"/>
<circle cx="1332.2" cy="1691.35" r="4.8" fill="#c8142a"/>
<circle cx="1349.16" cy="1697.01" r="4.8" fill="#c8142a"/>
<rect x="259.4" y="29.3" width="554.9" height="415.8" fill="none" stroke="#000" stroke-width="2.7"/>
<path d="M259.4 87H269.9M259.4 146.6H269.9M259.4 206.6H269.9M259.4 266.4H269.9M259.4 326.4H269.9M259.4 386.1H269.9M347.7 445.1V434.6M461.3 445.1V434.6M575 445.1V434.6M688.5 445.1V434.6M802.1 445.1V434.6" stroke="#000" stroke-width="2.7" fill="none"/>
<rect x="257.9" y="455.3" width="554.7" height="415.7" fill="none" stroke="#000" stroke-width="2.7"/>
<path d="M257.9 558.1H268.4M257.9 663H268.4M257.9 766.3H268.4M346.7 871V860.5M460.3 871V860.5M574 871V860.5M687.5 871V860.5M801.1 871V860.5" stroke="#000" stroke-width="2.7" fill="none"/>
<rect x="257.8" y="884.6" width="554.8" height="415.9" fill="none" stroke="#000" stroke-width="2.7"/>
<path d="M257.8 966.9H268.3M257.8 1050.9H268.3M257.8 1134H268.3M257.8 1218.1H268.3M346.7 1300.5V1290M460.3 1300.5V1290M574 1300.5V1290M687.5 1300.5V1290M801.1 1300.5V1290" stroke="#000" stroke-width="2.7" fill="none"/>
<rect x="257.9" y="1314.6" width="554.8" height="415.2" fill="none" stroke="#000" stroke-width="2.7"/>
<path d="M257.9 1394.8H268.4M257.9 1474H268.4M257.9 1553H268.4M257.9 1632H268.4M257.9 1711H268.4M346.7 1729.8V1719.3M460.3 1729.8V1719.3M574 1729.8V1719.3M687.5 1729.8V1719.3M801.1 1729.8V1719.3" stroke="#000" stroke-width="2.7" fill="none"/>
<rect x="904.5" y="29.3" width="554.7" height="416" fill="none" stroke="#000" stroke-width="2.7"/>
<path d="M904.5 87H915M904.5 146.6H915M904.5 206.6H915M904.5 266.4H915M904.5 326.4H915M904.5 386.1H915M993 445.3V434.8M1106.6 445.3V434.8M1220.2 445.3V434.8M1333.7 445.3V434.8M1447.3 445.3V434.8" stroke="#000" stroke-width="2.7" fill="none"/>
<rect x="905.4" y="455.2" width="554.3" height="415.8" fill="none" stroke="#000" stroke-width="2.7"/>
<path d="M905.4 558.1H915.9M905.4 663H915.9M905.4 766.3H915.9M993 871V860.5M1106.6 871V860.5M1220.2 871V860.5M1333.7 871V860.5M1447.3 871V860.5" stroke="#000" stroke-width="2.7" fill="none"/>
<rect x="905.4" y="884.6" width="554.3" height="416.1" fill="none" stroke="#000" stroke-width="2.7"/>
<path d="M905.4 966.9H915.9M905.4 1050.9H915.9M905.4 1134H915.9M905.4 1218.1H915.9M993 1300.7V1290.2M1106.6 1300.7V1290.2M1220.2 1300.7V1290.2M1333.7 1300.7V1290.2M1447.3 1300.7V1290.2" stroke="#000" stroke-width="2.7" fill="none"/>
<rect x="905.5" y="1314.4" width="554.4" height="415.6" fill="none" stroke="#000" stroke-width="2.7"/>
<path d="M905.5 1394.8H916M905.5 1474H916M905.5 1553H916M905.5 1632H916M905.5 1711H916M993 1730V1719.5M1106.6 1730V1719.5M1220.2 1730V1719.5M1333.7 1730V1719.5M1447.3 1730V1719.5" stroke="#000" stroke-width="2.7" fill="none"/>
<text transform="translate(196.71 40.37) scale(0.8268 1)" font-size="33.33">100</text>
<text transform="translate(208.42 101.86) scale(0.9266 1)" font-size="33.9">98</text>
<text transform="translate(208.73 160.86) scale(0.9324 1)" font-size="33.62">96</text>
<text transform="translate(208.75 219.27) scale(0.9346 1)" font-size="33.05">94</text>
<text transform="translate(208.72 278.56) scale(0.9379 1)" font-size="33.62">92</text>
<text transform="translate(208.73 337.76) scale(0.9125 1)" font-size="34.18">90</text>
<text transform="translate(206.66 396.16) scale(0.9278 1)" font-size="33.62">88</text>
<text transform="translate(185.75 472.16) scale(0.7874 1)" font-size="34.32">13.5</text>
<text transform="translate(212.27 573.56) scale(0.7525 1)" font-size="33.76">13</text>
<text transform="translate(187.41 676.45) scale(0.7887 1)" font-size="34.89">12.5</text>
<text transform="translate(211.7 778.6) scale(0.8120 1)" font-size="34.1">12</text>
<text transform="translate(187.62 896.46) scale(0.8022 1)" font-size="34.1">17.5</text>
<text transform="translate(211.35 980) scale(0.8284 1)" font-size="34.16">17</text>
<text transform="translate(187.62 1064.06) scale(0.8137 1)" font-size="33.62">16.5</text>
<text transform="translate(187.58 1148.76) scale(0.8199 1)" font-size="34.04">16.0</text>
<text transform="translate(187.62 1232.36) scale(0.8090 1)" font-size="33.81">15.5</text>
<text transform="translate(209.38 1329.1) scale(0.9223 1)" font-size="33.81">42</text>
<text transform="translate(210.15 1408.26) scale(0.9002 1)" font-size="33.62">38</text>
<text transform="translate(210.17 1487.86) scale(0.8845 1)" font-size="33.76">34</text>
<text transform="translate(209.74 1566.26) scale(0.9044 1)" font-size="33.76">30</text>
<text transform="translate(209.14 1646.07) scale(0.9371 1)" font-size="33.33">26</text>
<text transform="translate(209.13 1725.3) scale(0.9294 1)" font-size="33.81">22</text>
<text transform="translate(244.26 1775.46) scale(0.7867 1)" font-size="34.04">10</text>
<text transform="translate(327.66 1775.46) scale(0.9075 1)" font-size="34.04">20</text>
<text transform="translate(442.54 1775.46) scale(0.8969 1)" font-size="34.04">30</text>
<text transform="translate(555.7 1775.46) scale(0.8925 1)" font-size="34.04">40</text>
<text transform="translate(669.16 1775.46) scale(0.9072 1)" font-size="34.04">50</text>
<text transform="translate(783.31 1775.46) scale(0.9170 1)" font-size="34.04">60</text>
<text transform="translate(951.06 1776.87) scale(0.9153 1)" font-size="33.33">-0.10</text>
<text transform="translate(1066.68 1776.87) scale(0.8974 1)" font-size="33.33">-0.05</text>
<text transform="translate(1212.24 1776.67) scale(0.9728 1)" font-size="33.33">0</text>
<text transform="translate(1302.85 1776.67) scale(0.8847 1)" font-size="33.33">0.05</text>
<text transform="translate(1418.34 1776.67) scale(0.8913 1)" font-size="33.33">0.10</text>
<text transform="translate(38.71 82.03) scale(0.8943 1)" font-size="52.04">(a)</text>
<text transform="translate(34.93 505.12) scale(0.9406 1)" font-size="52.58">(b)</text>
<text transform="translate(38.16 934.96) scale(0.9196 1)" font-size="53.33">(c)</text>
<text transform="translate(34.62 1364.66) scale(0.9325 1)" font-size="53.33">(d)</text>
<text transform="translate(826.99 81.88) scale(0.9290 1)" font-size="52.25">(e)</text>
<text transform="translate(838.88 505.12) scale(0.9580 1)" font-size="52.58">(f)</text>
<text transform="translate(830.16 935.01) scale(0.8670 1)" font-size="52.84">(g)</text>
<text transform="translate(825.93 1364.73) scale(0.9330 1)" font-size="53">(h)</text>
<text transform="translate(166.3 391.1) rotate(-90) scale(0.9036 1)" font-size="43.17">Hatching day (dpf)</text>
<text transform="translate(166.3 798.06) rotate(-90) scale(0.9205 1)" font-size="43.17">Hatching length</text>
<text transform="translate(166.3 1273.24) rotate(-90) scale(0.9143 1)" font-size="43.17">Larval length 130 dpf</text>
<text transform="translate(166.3 1743.76) rotate(-90) scale(0.9082 1)" font-size="43.17">Yolk sac volume 130 dpf</text>
<text transform="translate(482.44 1825.2) scale(0.8993 1)" font-size="42.88">Male</text>
<text transform="translate(1124.16 1825) scale(0.9009 1)" font-size="43.9">Kinship</text>
</svg></body></html>
